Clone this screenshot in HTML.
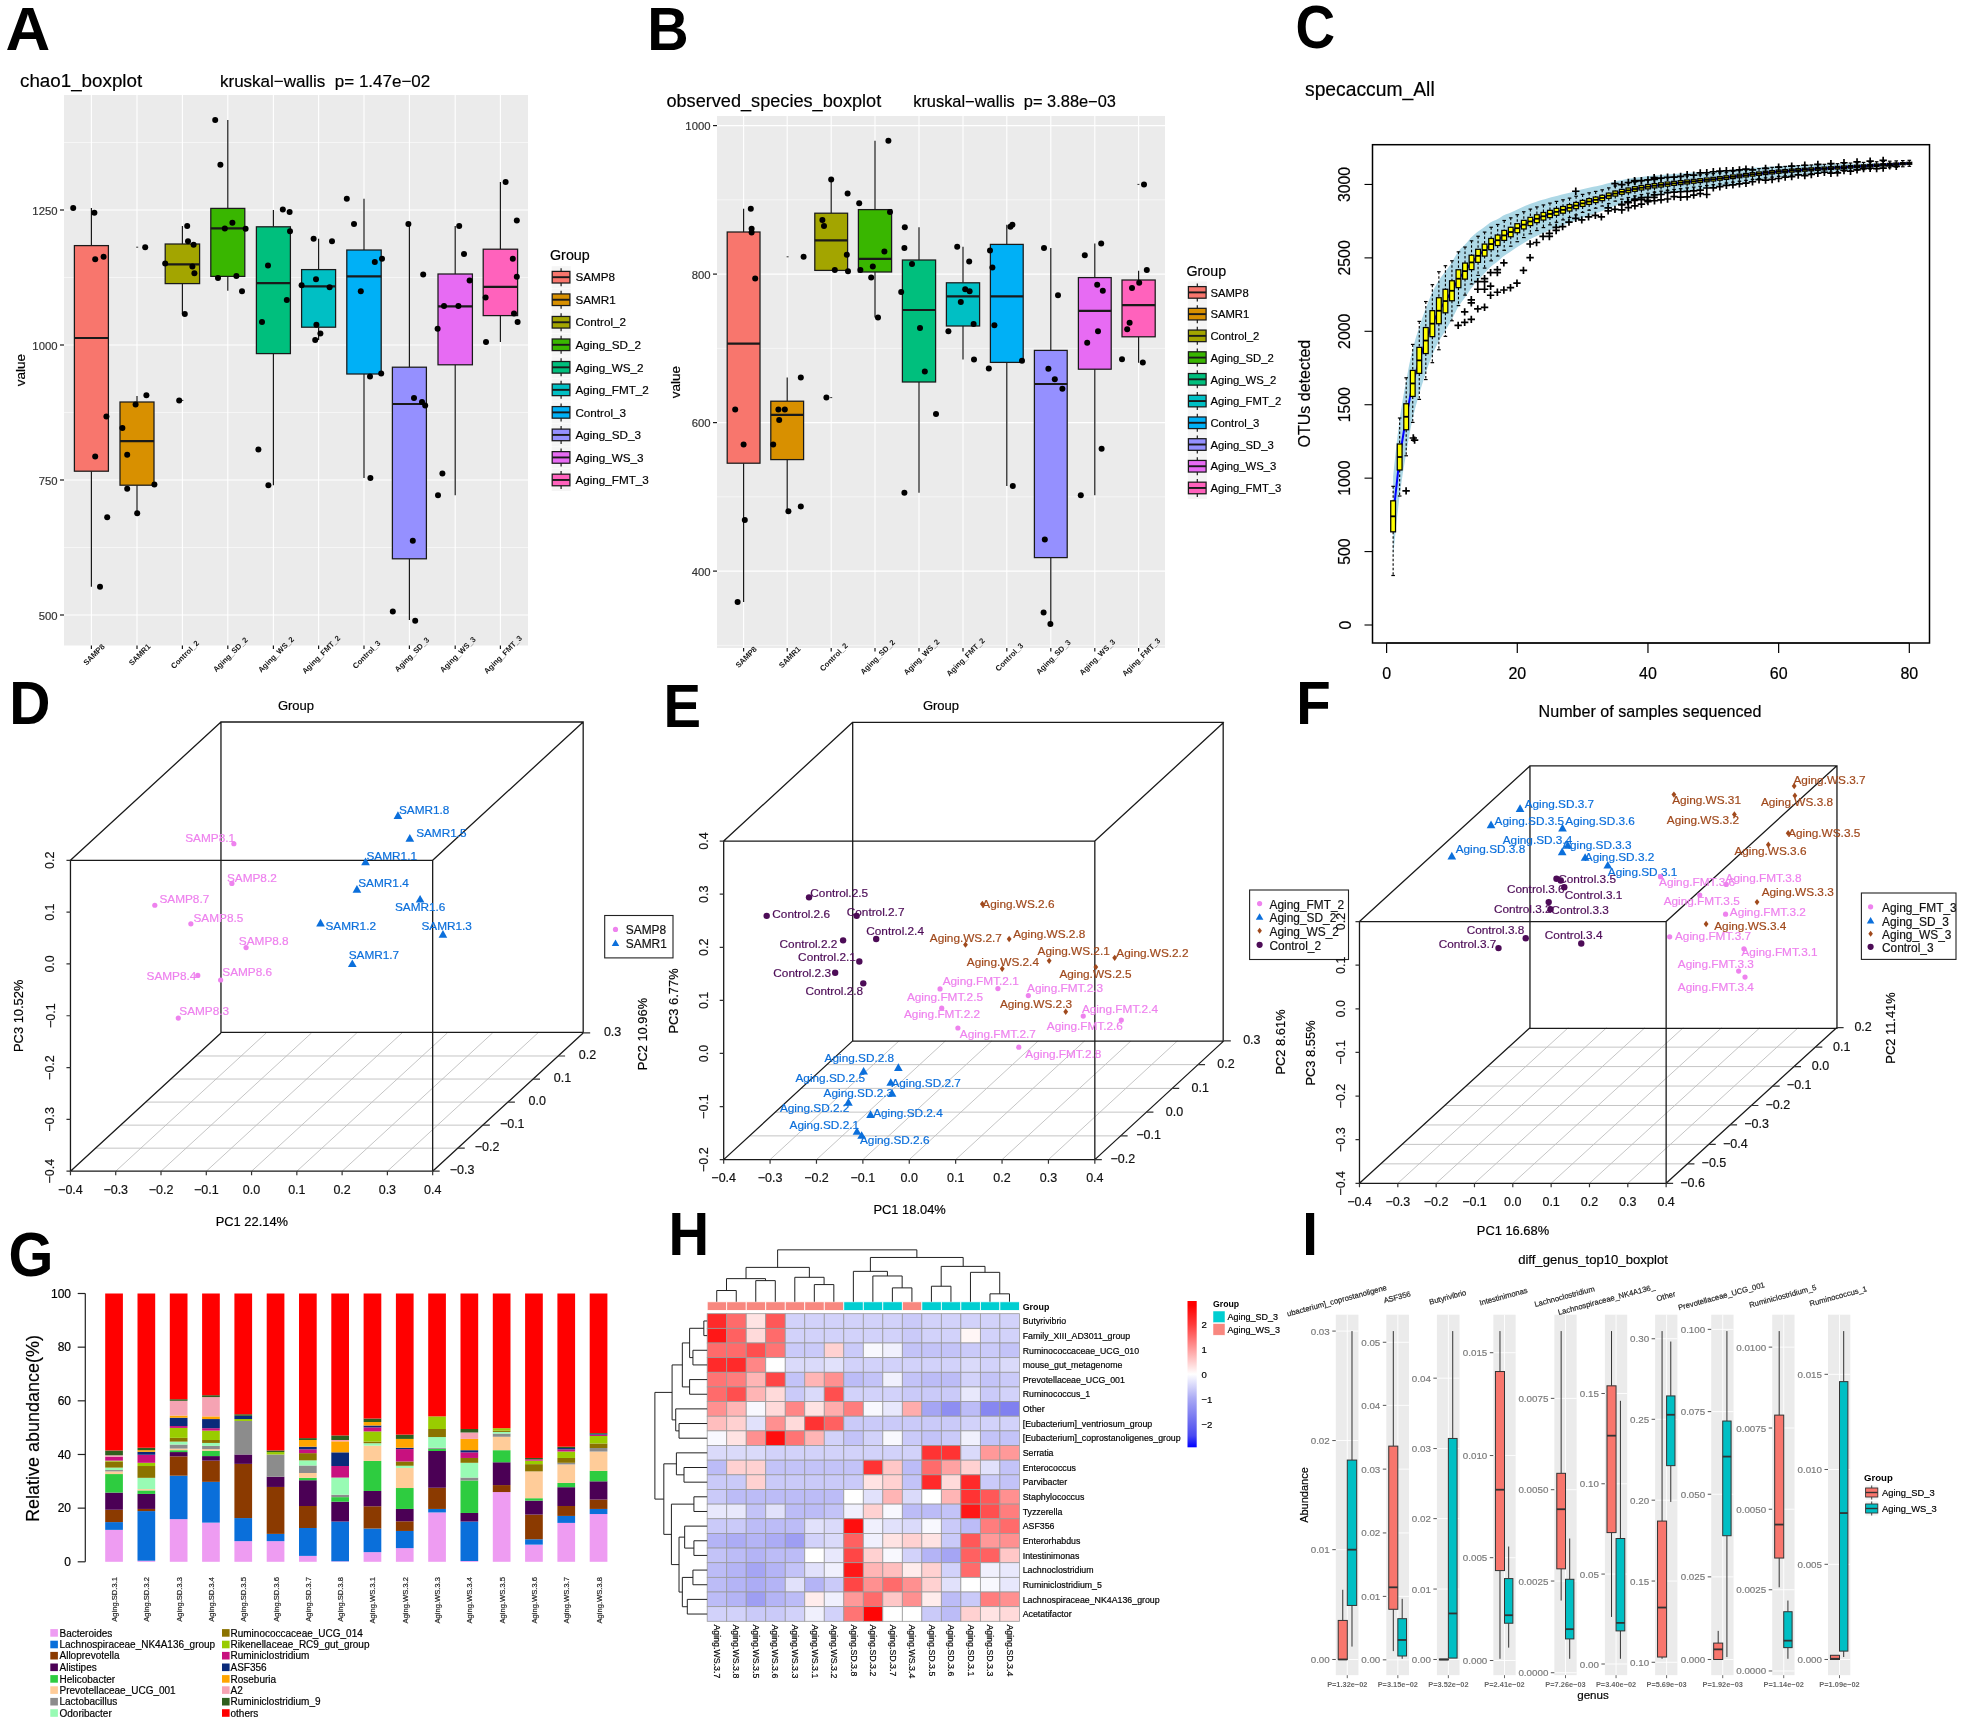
<!DOCTYPE html><html><head><meta charset="utf-8"><style>html,body{margin:0;padding:0;background:#fff;overflow:hidden}svg{display:block;will-change:transform}text{font-family:"Liberation Sans",sans-serif}</style></head><body><svg width="1965" height="1725" viewBox="0 0 1965 1725" font-family='"Liberation Sans", sans-serif'><rect width="1965" height="1725" fill="#fff"/><text x="0" y="0" font-size="60" font-weight="bold" transform="matrix(1.0323 0 0 1.0097 5.45 49.70)">A</text>
<rect x="64" y="95" width="464" height="550.5" fill="#EBEBEB"/>
<line x1="64" y1="615" x2="528" y2="615" stroke="#FFFFFF" stroke-width="1.1"/>
<line x1="64" y1="547.5" x2="528" y2="547.5" stroke="#FFFFFF" stroke-width="0.55"/>
<line x1="64" y1="480" x2="528" y2="480" stroke="#FFFFFF" stroke-width="1.1"/>
<line x1="64" y1="412.5" x2="528" y2="412.5" stroke="#FFFFFF" stroke-width="0.55"/>
<line x1="64" y1="345" x2="528" y2="345" stroke="#FFFFFF" stroke-width="1.1"/>
<line x1="64" y1="277.5" x2="528" y2="277.5" stroke="#FFFFFF" stroke-width="0.55"/>
<line x1="64" y1="210" x2="528" y2="210" stroke="#FFFFFF" stroke-width="1.1"/>
<line x1="64" y1="142.5" x2="528" y2="142.5" stroke="#FFFFFF" stroke-width="0.55"/>
<line x1="91.4" y1="95" x2="91.4" y2="645.5" stroke="#FFFFFF" stroke-width="1.1"/>
<line x1="137" y1="95" x2="137" y2="645.5" stroke="#FFFFFF" stroke-width="1.1"/>
<line x1="182.4" y1="95" x2="182.4" y2="645.5" stroke="#FFFFFF" stroke-width="1.1"/>
<line x1="227.8" y1="95" x2="227.8" y2="645.5" stroke="#FFFFFF" stroke-width="1.1"/>
<line x1="273.4" y1="95" x2="273.4" y2="645.5" stroke="#FFFFFF" stroke-width="1.1"/>
<line x1="318.6" y1="95" x2="318.6" y2="645.5" stroke="#FFFFFF" stroke-width="1.1"/>
<line x1="364" y1="95" x2="364" y2="645.5" stroke="#FFFFFF" stroke-width="1.1"/>
<line x1="409.4" y1="95" x2="409.4" y2="645.5" stroke="#FFFFFF" stroke-width="1.1"/>
<line x1="455.2" y1="95" x2="455.2" y2="645.5" stroke="#FFFFFF" stroke-width="1.1"/>
<line x1="500.4" y1="95" x2="500.4" y2="645.5" stroke="#FFFFFF" stroke-width="1.1"/>
<line x1="91.4" y1="208" x2="91.4" y2="245.6" stroke="#1A1A1A" stroke-width="1.2"/>
<line x1="91.4" y1="471.2" x2="91.4" y2="586.8" stroke="#1A1A1A" stroke-width="1.2"/>
<rect x="74.4" y="245.6" width="34" height="225.6" fill="#F8766D" stroke="#1A1A1A" stroke-width="1.25"/>
<line x1="74.4" y1="338" x2="108.4" y2="338" stroke="#1A1A1A" stroke-width="2.2"/>
<circle cx="73.2" cy="208" r="3" fill="#000"/>
<circle cx="94.4" cy="212.8" r="3" fill="#000"/>
<circle cx="95.2" cy="259.2" r="3" fill="#000"/>
<circle cx="103.6" cy="256.8" r="3" fill="#000"/>
<circle cx="106.4" cy="416.4" r="3" fill="#000"/>
<circle cx="95.2" cy="456.4" r="3" fill="#000"/>
<circle cx="107.2" cy="517.2" r="3" fill="#000"/>
<circle cx="100" cy="586.8" r="3" fill="#000"/>
<line x1="137" y1="396" x2="137" y2="402" stroke="#1A1A1A" stroke-width="1.2"/>
<line x1="137" y1="485.2" x2="137" y2="513.2" stroke="#1A1A1A" stroke-width="1.2"/>
<rect x="120" y="402" width="34" height="83.2" fill="#D89000" stroke="#1A1A1A" stroke-width="1.25"/>
<line x1="120" y1="441.2" x2="154" y2="441.2" stroke="#1A1A1A" stroke-width="2.2"/>
<line x1="136.2" y1="247.2" x2="138.2" y2="247.2" stroke="#333" stroke-width="1"/>
<circle cx="145.2" cy="247.2" r="3" fill="#000"/>
<circle cx="146.4" cy="395.2" r="3" fill="#000"/>
<circle cx="135.6" cy="404.4" r="3" fill="#000"/>
<circle cx="122.4" cy="428" r="3" fill="#000"/>
<circle cx="127.2" cy="454.8" r="3" fill="#000"/>
<circle cx="127.2" cy="488.8" r="3" fill="#000"/>
<circle cx="154.4" cy="484.4" r="3" fill="#000"/>
<circle cx="137.2" cy="513.2" r="3" fill="#000"/>
<line x1="182.4" y1="226" x2="182.4" y2="244" stroke="#1A1A1A" stroke-width="1.2"/>
<line x1="182.4" y1="283.6" x2="182.4" y2="314" stroke="#1A1A1A" stroke-width="1.2"/>
<rect x="165.2" y="244" width="34.4" height="39.6" fill="#A3A500" stroke="#1A1A1A" stroke-width="1.25"/>
<line x1="165.2" y1="264.4" x2="199.6" y2="264.4" stroke="#1A1A1A" stroke-width="2.2"/>
<line x1="181.4" y1="400.4" x2="183.4" y2="400.4" stroke="#333" stroke-width="1"/>
<circle cx="187.2" cy="226" r="3" fill="#000"/>
<circle cx="188" cy="241.2" r="3" fill="#000"/>
<circle cx="193.6" cy="244.8" r="3" fill="#000"/>
<circle cx="165.2" cy="263.6" r="3" fill="#000"/>
<circle cx="192.4" cy="266.4" r="3" fill="#000"/>
<circle cx="194.4" cy="273.2" r="3" fill="#000"/>
<circle cx="184.8" cy="314" r="3" fill="#000"/>
<circle cx="179.2" cy="400.4" r="3" fill="#000"/>
<line x1="227.8" y1="120" x2="227.8" y2="208.4" stroke="#1A1A1A" stroke-width="1.2"/>
<line x1="227.8" y1="276.4" x2="227.8" y2="290.8" stroke="#1A1A1A" stroke-width="1.2"/>
<rect x="210.8" y="208.4" width="34" height="68" fill="#39B600" stroke="#1A1A1A" stroke-width="1.25"/>
<line x1="210.8" y1="228.4" x2="244.8" y2="228.4" stroke="#1A1A1A" stroke-width="2.2"/>
<circle cx="215.2" cy="120" r="3" fill="#000"/>
<circle cx="220.4" cy="164.8" r="3" fill="#000"/>
<circle cx="232.4" cy="222.8" r="3" fill="#000"/>
<circle cx="224.8" cy="228.4" r="3" fill="#000"/>
<circle cx="245.6" cy="228.8" r="3" fill="#000"/>
<circle cx="218" cy="278" r="3" fill="#000"/>
<circle cx="236.4" cy="276" r="3" fill="#000"/>
<circle cx="242" cy="291.2" r="3" fill="#000"/>
<line x1="273.4" y1="210" x2="273.4" y2="226.8" stroke="#1A1A1A" stroke-width="1.2"/>
<line x1="273.4" y1="353.6" x2="273.4" y2="485.2" stroke="#1A1A1A" stroke-width="1.2"/>
<rect x="256.4" y="226.8" width="34" height="126.8" fill="#00BF7D" stroke="#1A1A1A" stroke-width="1.25"/>
<line x1="256.4" y1="283.2" x2="290.4" y2="283.2" stroke="#1A1A1A" stroke-width="2.2"/>
<circle cx="282.8" cy="209.6" r="3" fill="#000"/>
<circle cx="289.6" cy="212" r="3" fill="#000"/>
<circle cx="290" cy="231.2" r="3" fill="#000"/>
<circle cx="268" cy="265.6" r="3" fill="#000"/>
<circle cx="286.8" cy="300" r="3" fill="#000"/>
<circle cx="262" cy="322" r="3" fill="#000"/>
<circle cx="258.4" cy="449.6" r="3" fill="#000"/>
<circle cx="268.4" cy="485.2" r="3" fill="#000"/>
<line x1="318.6" y1="238.8" x2="318.6" y2="269.6" stroke="#1A1A1A" stroke-width="1.2"/>
<line x1="318.6" y1="327.2" x2="318.6" y2="340" stroke="#1A1A1A" stroke-width="1.2"/>
<rect x="301.6" y="269.6" width="34" height="57.6" fill="#00BFC4" stroke="#1A1A1A" stroke-width="1.25"/>
<line x1="301.6" y1="286.4" x2="335.6" y2="286.4" stroke="#1A1A1A" stroke-width="2.2"/>
<circle cx="313.6" cy="238.8" r="3" fill="#000"/>
<circle cx="332" cy="241.2" r="3" fill="#000"/>
<circle cx="301.6" cy="285.2" r="3" fill="#000"/>
<circle cx="316" cy="279.2" r="3" fill="#000"/>
<circle cx="329.6" cy="287.2" r="3" fill="#000"/>
<circle cx="316.4" cy="324.8" r="3" fill="#000"/>
<circle cx="320.4" cy="333.6" r="3" fill="#000"/>
<circle cx="315.2" cy="340" r="3" fill="#000"/>
<line x1="364" y1="198.8" x2="364" y2="250" stroke="#1A1A1A" stroke-width="1.2"/>
<line x1="364" y1="374" x2="364" y2="478" stroke="#1A1A1A" stroke-width="1.2"/>
<rect x="346.8" y="250" width="34.4" height="124" fill="#00B0F6" stroke="#1A1A1A" stroke-width="1.25"/>
<line x1="346.8" y1="276.4" x2="381.2" y2="276.4" stroke="#1A1A1A" stroke-width="2.2"/>
<circle cx="346.8" cy="198.8" r="3" fill="#000"/>
<circle cx="354" cy="224" r="3" fill="#000"/>
<circle cx="374.8" cy="262" r="3" fill="#000"/>
<circle cx="382" cy="258.8" r="3" fill="#000"/>
<circle cx="360.8" cy="291.2" r="3" fill="#000"/>
<circle cx="370" cy="376.4" r="3" fill="#000"/>
<circle cx="381.2" cy="373.6" r="3" fill="#000"/>
<circle cx="370.4" cy="478" r="3" fill="#000"/>
<line x1="409.4" y1="224" x2="409.4" y2="367.2" stroke="#1A1A1A" stroke-width="1.2"/>
<line x1="409.4" y1="558.8" x2="409.4" y2="620" stroke="#1A1A1A" stroke-width="1.2"/>
<rect x="392.4" y="367.2" width="34" height="191.6" fill="#9590FF" stroke="#1A1A1A" stroke-width="1.25"/>
<line x1="392.4" y1="404" x2="426.4" y2="404" stroke="#1A1A1A" stroke-width="2.2"/>
<circle cx="408.4" cy="224" r="3" fill="#000"/>
<circle cx="423.2" cy="274.4" r="3" fill="#000"/>
<circle cx="414" cy="398" r="3" fill="#000"/>
<circle cx="422" cy="402" r="3" fill="#000"/>
<circle cx="425.2" cy="405.6" r="3" fill="#000"/>
<circle cx="412.8" cy="540.8" r="3" fill="#000"/>
<circle cx="392.8" cy="611.6" r="3" fill="#000"/>
<circle cx="415.2" cy="620.8" r="3" fill="#000"/>
<line x1="455.2" y1="226" x2="455.2" y2="274" stroke="#1A1A1A" stroke-width="1.2"/>
<line x1="455.2" y1="364.8" x2="455.2" y2="495.2" stroke="#1A1A1A" stroke-width="1.2"/>
<rect x="438" y="274" width="34.4" height="90.8" fill="#E76BF3" stroke="#1A1A1A" stroke-width="1.25"/>
<line x1="438" y1="306.4" x2="472.4" y2="306.4" stroke="#1A1A1A" stroke-width="2.2"/>
<circle cx="459.2" cy="226" r="3" fill="#000"/>
<circle cx="464" cy="254" r="3" fill="#000"/>
<circle cx="469.6" cy="280.4" r="3" fill="#000"/>
<circle cx="444" cy="306" r="3" fill="#000"/>
<circle cx="458.4" cy="306" r="3" fill="#000"/>
<circle cx="437.6" cy="328.8" r="3" fill="#000"/>
<circle cx="442.4" cy="473.6" r="3" fill="#000"/>
<circle cx="438" cy="495.2" r="3" fill="#000"/>
<line x1="500.4" y1="182" x2="500.4" y2="249.2" stroke="#1A1A1A" stroke-width="1.2"/>
<line x1="500.4" y1="315.6" x2="500.4" y2="342" stroke="#1A1A1A" stroke-width="1.2"/>
<rect x="483.2" y="249.2" width="34.4" height="66.4" fill="#FF62BC" stroke="#1A1A1A" stroke-width="1.25"/>
<line x1="483.2" y1="286.8" x2="517.6" y2="286.8" stroke="#1A1A1A" stroke-width="2.2"/>
<circle cx="505.6" cy="182" r="3" fill="#000"/>
<circle cx="516.8" cy="220.4" r="3" fill="#000"/>
<circle cx="512.8" cy="258.8" r="3" fill="#000"/>
<circle cx="516.8" cy="276.8" r="3" fill="#000"/>
<circle cx="485.6" cy="297.6" r="3" fill="#000"/>
<circle cx="514" cy="313.6" r="3" fill="#000"/>
<circle cx="517.6" cy="322" r="3" fill="#000"/>
<circle cx="486" cy="342" r="3" fill="#000"/>
<line x1="60" y1="615" x2="64" y2="615" stroke="#1A1A1A" stroke-width="1.2"/>
<text x="57.5" y="619.8" font-size="11.3" fill="#333333" text-anchor="end" stroke="#333333" stroke-width="0.18">500</text>
<line x1="60" y1="480" x2="64" y2="480" stroke="#1A1A1A" stroke-width="1.2"/>
<text x="57.5" y="484.8" font-size="11.3" fill="#333333" text-anchor="end" stroke="#333333" stroke-width="0.18">750</text>
<line x1="60" y1="345" x2="64" y2="345" stroke="#1A1A1A" stroke-width="1.2"/>
<text x="57.5" y="349.8" font-size="11.3" fill="#333333" text-anchor="end" stroke="#333333" stroke-width="0.18">1000</text>
<line x1="60" y1="210" x2="64" y2="210" stroke="#1A1A1A" stroke-width="1.2"/>
<text x="57.5" y="214.8" font-size="11.3" fill="#333333" text-anchor="end" stroke="#333333" stroke-width="0.18">1250</text>
<line x1="91.4" y1="645.5" x2="91.4" y2="649" stroke="#1A1A1A" stroke-width="1.2"/>
<text x="95.8" y="656.5" font-size="7.7" fill="#1A1A1A" text-anchor="middle" font-weight="bold" transform="rotate(-45 95.8 656.5)">SAMP8</text>
<line x1="137" y1="645.5" x2="137" y2="649" stroke="#1A1A1A" stroke-width="1.2"/>
<text x="141.4" y="656.5" font-size="7.7" fill="#1A1A1A" text-anchor="middle" font-weight="bold" transform="rotate(-45 141.4 656.5)">SAMR1</text>
<line x1="182.4" y1="645.5" x2="182.4" y2="649" stroke="#1A1A1A" stroke-width="1.2"/>
<text x="186.8" y="656.5" font-size="7.7" fill="#1A1A1A" text-anchor="middle" font-weight="bold" transform="rotate(-45 186.8 656.5)">Control_2</text>
<line x1="227.8" y1="645.5" x2="227.8" y2="649" stroke="#1A1A1A" stroke-width="1.2"/>
<text x="232.2" y="656.5" font-size="7.7" fill="#1A1A1A" text-anchor="middle" font-weight="bold" transform="rotate(-45 232.2 656.5)">Aging_SD_2</text>
<line x1="273.4" y1="645.5" x2="273.4" y2="649" stroke="#1A1A1A" stroke-width="1.2"/>
<text x="277.8" y="656.5" font-size="7.7" fill="#1A1A1A" text-anchor="middle" font-weight="bold" transform="rotate(-45 277.8 656.5)">Aging_WS_2</text>
<line x1="318.6" y1="645.5" x2="318.6" y2="649" stroke="#1A1A1A" stroke-width="1.2"/>
<text x="323" y="656.5" font-size="7.7" fill="#1A1A1A" text-anchor="middle" font-weight="bold" transform="rotate(-45 323 656.5)">Aging_FMT_2</text>
<line x1="364" y1="645.5" x2="364" y2="649" stroke="#1A1A1A" stroke-width="1.2"/>
<text x="368.4" y="656.5" font-size="7.7" fill="#1A1A1A" text-anchor="middle" font-weight="bold" transform="rotate(-45 368.4 656.5)">Control_3</text>
<line x1="409.4" y1="645.5" x2="409.4" y2="649" stroke="#1A1A1A" stroke-width="1.2"/>
<text x="413.8" y="656.5" font-size="7.7" fill="#1A1A1A" text-anchor="middle" font-weight="bold" transform="rotate(-45 413.8 656.5)">Aging_SD_3</text>
<line x1="455.2" y1="645.5" x2="455.2" y2="649" stroke="#1A1A1A" stroke-width="1.2"/>
<text x="459.6" y="656.5" font-size="7.7" fill="#1A1A1A" text-anchor="middle" font-weight="bold" transform="rotate(-45 459.6 656.5)">Aging_WS_3</text>
<line x1="500.4" y1="645.5" x2="500.4" y2="649" stroke="#1A1A1A" stroke-width="1.2"/>
<text x="504.8" y="656.5" font-size="7.7" fill="#1A1A1A" text-anchor="middle" font-weight="bold" transform="rotate(-45 504.8 656.5)">Aging_FMT_3</text>
<text x="24.5" y="370" font-size="13.5" fill="#000" text-anchor="middle" transform="rotate(-90 24.5 370)" stroke="#000" stroke-width="0.18">value</text>
<text x="20" y="87" font-size="18.8" fill="#000" stroke="#000" stroke-width="0.18">chao1_boxplot</text>
<text x="220" y="87" font-size="17" fill="#000" xml:space="preserve" stroke="#000" stroke-width="0.18">kruskal−wallis  p= 1.47e−02</text>
<text x="550" y="260.2" font-size="14.3" fill="#000" stroke="#000" stroke-width="0.18">Group</text>
<rect x="551.7" y="266.2" width="19" height="22" fill="#F5F5F5"/>
<line x1="561.1" y1="268.2" x2="561.1" y2="286.2" stroke="#1A1A1A" stroke-width="1.2"/>
<rect x="552.2" y="271.4" width="17.7" height="11.6" fill="#F8766D" stroke="#1A1A1A" stroke-width="1.25"/>
<line x1="552.2" y1="277.2" x2="569.9" y2="277.2" stroke="#1A1A1A" stroke-width="1.9"/>
<text x="575.4" y="281.4" font-size="11.7" fill="#000" stroke="#000" stroke-width="0.18">SAMP8</text>
<rect x="551.7" y="288.73" width="19" height="22" fill="#F5F5F5"/>
<line x1="561.1" y1="290.73" x2="561.1" y2="308.73" stroke="#1A1A1A" stroke-width="1.2"/>
<rect x="552.2" y="293.93" width="17.7" height="11.6" fill="#D89000" stroke="#1A1A1A" stroke-width="1.25"/>
<line x1="552.2" y1="299.73" x2="569.9" y2="299.73" stroke="#1A1A1A" stroke-width="1.9"/>
<text x="575.4" y="303.93" font-size="11.7" fill="#000" stroke="#000" stroke-width="0.18">SAMR1</text>
<rect x="551.7" y="311.26" width="19" height="22" fill="#F5F5F5"/>
<line x1="561.1" y1="313.26" x2="561.1" y2="331.26" stroke="#1A1A1A" stroke-width="1.2"/>
<rect x="552.2" y="316.46" width="17.7" height="11.6" fill="#A3A500" stroke="#1A1A1A" stroke-width="1.25"/>
<line x1="552.2" y1="322.26" x2="569.9" y2="322.26" stroke="#1A1A1A" stroke-width="1.9"/>
<text x="575.4" y="326.46" font-size="11.7" fill="#000" stroke="#000" stroke-width="0.18">Control_2</text>
<rect x="551.7" y="333.79" width="19" height="22" fill="#F5F5F5"/>
<line x1="561.1" y1="335.79" x2="561.1" y2="353.79" stroke="#1A1A1A" stroke-width="1.2"/>
<rect x="552.2" y="338.99" width="17.7" height="11.6" fill="#39B600" stroke="#1A1A1A" stroke-width="1.25"/>
<line x1="552.2" y1="344.79" x2="569.9" y2="344.79" stroke="#1A1A1A" stroke-width="1.9"/>
<text x="575.4" y="348.99" font-size="11.7" fill="#000" stroke="#000" stroke-width="0.18">Aging_SD_2</text>
<rect x="551.7" y="356.32" width="19" height="22" fill="#F5F5F5"/>
<line x1="561.1" y1="358.32" x2="561.1" y2="376.32" stroke="#1A1A1A" stroke-width="1.2"/>
<rect x="552.2" y="361.52" width="17.7" height="11.6" fill="#00BF7D" stroke="#1A1A1A" stroke-width="1.25"/>
<line x1="552.2" y1="367.32" x2="569.9" y2="367.32" stroke="#1A1A1A" stroke-width="1.9"/>
<text x="575.4" y="371.52" font-size="11.7" fill="#000" stroke="#000" stroke-width="0.18">Aging_WS_2</text>
<rect x="551.7" y="378.85" width="19" height="22" fill="#F5F5F5"/>
<line x1="561.1" y1="380.85" x2="561.1" y2="398.85" stroke="#1A1A1A" stroke-width="1.2"/>
<rect x="552.2" y="384.05" width="17.7" height="11.6" fill="#00BFC4" stroke="#1A1A1A" stroke-width="1.25"/>
<line x1="552.2" y1="389.85" x2="569.9" y2="389.85" stroke="#1A1A1A" stroke-width="1.9"/>
<text x="575.4" y="394.05" font-size="11.7" fill="#000" stroke="#000" stroke-width="0.18">Aging_FMT_2</text>
<rect x="551.7" y="401.38" width="19" height="22" fill="#F5F5F5"/>
<line x1="561.1" y1="403.38" x2="561.1" y2="421.38" stroke="#1A1A1A" stroke-width="1.2"/>
<rect x="552.2" y="406.58" width="17.7" height="11.6" fill="#00B0F6" stroke="#1A1A1A" stroke-width="1.25"/>
<line x1="552.2" y1="412.38" x2="569.9" y2="412.38" stroke="#1A1A1A" stroke-width="1.9"/>
<text x="575.4" y="416.58" font-size="11.7" fill="#000" stroke="#000" stroke-width="0.18">Control_3</text>
<rect x="551.7" y="423.91" width="19" height="22" fill="#F5F5F5"/>
<line x1="561.1" y1="425.91" x2="561.1" y2="443.91" stroke="#1A1A1A" stroke-width="1.2"/>
<rect x="552.2" y="429.11" width="17.7" height="11.6" fill="#9590FF" stroke="#1A1A1A" stroke-width="1.25"/>
<line x1="552.2" y1="434.91" x2="569.9" y2="434.91" stroke="#1A1A1A" stroke-width="1.9"/>
<text x="575.4" y="439.11" font-size="11.7" fill="#000" stroke="#000" stroke-width="0.18">Aging_SD_3</text>
<rect x="551.7" y="446.44" width="19" height="22" fill="#F5F5F5"/>
<line x1="561.1" y1="448.44" x2="561.1" y2="466.44" stroke="#1A1A1A" stroke-width="1.2"/>
<rect x="552.2" y="451.64" width="17.7" height="11.6" fill="#E76BF3" stroke="#1A1A1A" stroke-width="1.25"/>
<line x1="552.2" y1="457.44" x2="569.9" y2="457.44" stroke="#1A1A1A" stroke-width="1.9"/>
<text x="575.4" y="461.64" font-size="11.7" fill="#000" stroke="#000" stroke-width="0.18">Aging_WS_3</text>
<rect x="551.7" y="468.97" width="19" height="22" fill="#F5F5F5"/>
<line x1="561.1" y1="470.97" x2="561.1" y2="488.97" stroke="#1A1A1A" stroke-width="1.2"/>
<rect x="552.2" y="474.17" width="17.7" height="11.6" fill="#FF62BC" stroke="#1A1A1A" stroke-width="1.25"/>
<line x1="552.2" y1="479.97" x2="569.9" y2="479.97" stroke="#1A1A1A" stroke-width="1.9"/>
<text x="575.4" y="484.17" font-size="11.7" fill="#000" stroke="#000" stroke-width="0.18">Aging_FMT_3</text>
<text x="0" y="0" font-size="60" font-weight="bold" transform="matrix(0.9563 0 0 1.0097 647.27 49.70)">B</text>
<rect x="717" y="116" width="448" height="532" fill="#EBEBEB"/>
<line x1="717" y1="645.35" x2="1165" y2="645.35" stroke="#FFFFFF" stroke-width="0.55"/>
<line x1="717" y1="571.1" x2="1165" y2="571.1" stroke="#FFFFFF" stroke-width="1.1"/>
<line x1="717" y1="496.85" x2="1165" y2="496.85" stroke="#FFFFFF" stroke-width="0.55"/>
<line x1="717" y1="422.6" x2="1165" y2="422.6" stroke="#FFFFFF" stroke-width="1.1"/>
<line x1="717" y1="348.35" x2="1165" y2="348.35" stroke="#FFFFFF" stroke-width="0.55"/>
<line x1="717" y1="274.1" x2="1165" y2="274.1" stroke="#FFFFFF" stroke-width="1.1"/>
<line x1="717" y1="199.85" x2="1165" y2="199.85" stroke="#FFFFFF" stroke-width="0.55"/>
<line x1="717" y1="125.6" x2="1165" y2="125.6" stroke="#FFFFFF" stroke-width="1.1"/>
<line x1="743.6" y1="116" x2="743.6" y2="648" stroke="#FFFFFF" stroke-width="1.1"/>
<line x1="787.2" y1="116" x2="787.2" y2="648" stroke="#FFFFFF" stroke-width="1.1"/>
<line x1="831.2" y1="116" x2="831.2" y2="648" stroke="#FFFFFF" stroke-width="1.1"/>
<line x1="875" y1="116" x2="875" y2="648" stroke="#FFFFFF" stroke-width="1.1"/>
<line x1="919" y1="116" x2="919" y2="648" stroke="#FFFFFF" stroke-width="1.1"/>
<line x1="963" y1="116" x2="963" y2="648" stroke="#FFFFFF" stroke-width="1.1"/>
<line x1="1006.8" y1="116" x2="1006.8" y2="648" stroke="#FFFFFF" stroke-width="1.1"/>
<line x1="1050.8" y1="116" x2="1050.8" y2="648" stroke="#FFFFFF" stroke-width="1.1"/>
<line x1="1094.8" y1="116" x2="1094.8" y2="648" stroke="#FFFFFF" stroke-width="1.1"/>
<line x1="1138.6" y1="116" x2="1138.6" y2="648" stroke="#FFFFFF" stroke-width="1.1"/>
<line x1="743.6" y1="208.8" x2="743.6" y2="232" stroke="#1A1A1A" stroke-width="1.2"/>
<line x1="743.6" y1="463.2" x2="743.6" y2="602" stroke="#1A1A1A" stroke-width="1.2"/>
<rect x="727.2" y="232" width="32.8" height="231.2" fill="#F8766D" stroke="#1A1A1A" stroke-width="1.25"/>
<line x1="727.2" y1="343.6" x2="760" y2="343.6" stroke="#1A1A1A" stroke-width="2.2"/>
<circle cx="750.8" cy="208.8" r="3" fill="#000"/>
<circle cx="751.6" cy="228.8" r="3" fill="#000"/>
<circle cx="751.6" cy="232.4" r="3" fill="#000"/>
<circle cx="755.2" cy="278.4" r="3" fill="#000"/>
<circle cx="735.2" cy="409.6" r="3" fill="#000"/>
<circle cx="743.6" cy="444.4" r="3" fill="#000"/>
<circle cx="744.8" cy="520" r="3" fill="#000"/>
<circle cx="737.6" cy="602" r="3" fill="#000"/>
<line x1="787.2" y1="377.6" x2="787.2" y2="401.2" stroke="#1A1A1A" stroke-width="1.2"/>
<line x1="787.2" y1="459.6" x2="787.2" y2="511.2" stroke="#1A1A1A" stroke-width="1.2"/>
<rect x="770.8" y="401.2" width="32.8" height="58.4" fill="#D89000" stroke="#1A1A1A" stroke-width="1.25"/>
<line x1="770.8" y1="414.8" x2="803.6" y2="414.8" stroke="#1A1A1A" stroke-width="2.2"/>
<line x1="786.6" y1="256.8" x2="788.6" y2="256.8" stroke="#333" stroke-width="1"/>
<circle cx="803.6" cy="256.8" r="3" fill="#000"/>
<circle cx="800.8" cy="377.6" r="3" fill="#000"/>
<circle cx="778.4" cy="409.6" r="3" fill="#000"/>
<circle cx="784.8" cy="409.6" r="3" fill="#000"/>
<circle cx="779.2" cy="420" r="3" fill="#000"/>
<circle cx="773.2" cy="444.4" r="3" fill="#000"/>
<circle cx="788.4" cy="511.2" r="3" fill="#000"/>
<circle cx="800.8" cy="506.4" r="3" fill="#000"/>
<line x1="831.2" y1="179.6" x2="831.2" y2="213.2" stroke="#1A1A1A" stroke-width="1.2"/>
<line x1="831.2" y1="270.4" x2="831.2" y2="270.4" stroke="#1A1A1A" stroke-width="1.2"/>
<rect x="814.8" y="213.2" width="32.8" height="57.2" fill="#A3A500" stroke="#1A1A1A" stroke-width="1.25"/>
<line x1="814.8" y1="240.4" x2="847.6" y2="240.4" stroke="#1A1A1A" stroke-width="2.2"/>
<line x1="830.2" y1="397.6" x2="832.2" y2="397.6" stroke="#333" stroke-width="1"/>
<circle cx="831.2" cy="179.6" r="3" fill="#000"/>
<circle cx="847.6" cy="193.6" r="3" fill="#000"/>
<circle cx="822.4" cy="220" r="3" fill="#000"/>
<circle cx="824" cy="226" r="3" fill="#000"/>
<circle cx="846.8" cy="254.8" r="3" fill="#000"/>
<circle cx="834.8" cy="270" r="3" fill="#000"/>
<circle cx="848" cy="271.2" r="3" fill="#000"/>
<circle cx="826.4" cy="397.6" r="3" fill="#000"/>
<line x1="875" y1="140.8" x2="875" y2="209.6" stroke="#1A1A1A" stroke-width="1.2"/>
<line x1="875" y1="272" x2="875" y2="317.6" stroke="#1A1A1A" stroke-width="1.2"/>
<rect x="858.4" y="209.6" width="33.2" height="62.4" fill="#39B600" stroke="#1A1A1A" stroke-width="1.25"/>
<line x1="858.4" y1="258.8" x2="891.6" y2="258.8" stroke="#1A1A1A" stroke-width="2.2"/>
<circle cx="888.4" cy="140.8" r="3" fill="#000"/>
<circle cx="859.2" cy="203.2" r="3" fill="#000"/>
<circle cx="890" cy="212" r="3" fill="#000"/>
<circle cx="884.4" cy="251.6" r="3" fill="#000"/>
<circle cx="872.8" cy="266.4" r="3" fill="#000"/>
<circle cx="860.4" cy="270" r="3" fill="#000"/>
<circle cx="871.2" cy="277.6" r="3" fill="#000"/>
<circle cx="878" cy="317.6" r="3" fill="#000"/>
<line x1="919" y1="227.2" x2="919" y2="260" stroke="#1A1A1A" stroke-width="1.2"/>
<line x1="919" y1="382" x2="919" y2="492.8" stroke="#1A1A1A" stroke-width="1.2"/>
<rect x="902.4" y="260" width="33.2" height="122" fill="#00BF7D" stroke="#1A1A1A" stroke-width="1.25"/>
<line x1="902.4" y1="310" x2="935.6" y2="310" stroke="#1A1A1A" stroke-width="2.2"/>
<circle cx="904.8" cy="227.2" r="3" fill="#000"/>
<circle cx="904.4" cy="248" r="3" fill="#000"/>
<circle cx="912" cy="264" r="3" fill="#000"/>
<circle cx="901.2" cy="292" r="3" fill="#000"/>
<circle cx="920" cy="328" r="3" fill="#000"/>
<circle cx="924.8" cy="371.6" r="3" fill="#000"/>
<circle cx="936" cy="414" r="3" fill="#000"/>
<circle cx="904.4" cy="492.8" r="3" fill="#000"/>
<line x1="963" y1="246.8" x2="963" y2="282.8" stroke="#1A1A1A" stroke-width="1.2"/>
<line x1="963" y1="326" x2="963" y2="359.6" stroke="#1A1A1A" stroke-width="1.2"/>
<rect x="946.4" y="282.8" width="33.2" height="43.2" fill="#00BFC4" stroke="#1A1A1A" stroke-width="1.25"/>
<line x1="946.4" y1="296.4" x2="979.6" y2="296.4" stroke="#1A1A1A" stroke-width="2.2"/>
<circle cx="957.2" cy="246.8" r="3" fill="#000"/>
<circle cx="969.2" cy="261.6" r="3" fill="#000"/>
<circle cx="965.2" cy="289.2" r="3" fill="#000"/>
<circle cx="969.6" cy="291.2" r="3" fill="#000"/>
<circle cx="960.8" cy="302" r="3" fill="#000"/>
<circle cx="973.6" cy="324" r="3" fill="#000"/>
<circle cx="948.4" cy="331.2" r="3" fill="#000"/>
<circle cx="974" cy="359.6" r="3" fill="#000"/>
<line x1="1006.8" y1="224.8" x2="1006.8" y2="244.4" stroke="#1A1A1A" stroke-width="1.2"/>
<line x1="1006.8" y1="362.4" x2="1006.8" y2="486" stroke="#1A1A1A" stroke-width="1.2"/>
<rect x="990.4" y="244.4" width="32.8" height="118" fill="#00B0F6" stroke="#1A1A1A" stroke-width="1.25"/>
<line x1="990.4" y1="296.4" x2="1023.2" y2="296.4" stroke="#1A1A1A" stroke-width="2.2"/>
<circle cx="1012.4" cy="224.8" r="3" fill="#000"/>
<circle cx="1010.4" cy="226.8" r="3" fill="#000"/>
<circle cx="990" cy="250.4" r="3" fill="#000"/>
<circle cx="992.4" cy="267.6" r="3" fill="#000"/>
<circle cx="994.4" cy="325.2" r="3" fill="#000"/>
<circle cx="1022" cy="360.8" r="3" fill="#000"/>
<circle cx="988.8" cy="368.4" r="3" fill="#000"/>
<circle cx="1012.8" cy="486" r="3" fill="#000"/>
<line x1="1050.8" y1="248" x2="1050.8" y2="350.4" stroke="#1A1A1A" stroke-width="1.2"/>
<line x1="1050.8" y1="557.6" x2="1050.8" y2="622" stroke="#1A1A1A" stroke-width="1.2"/>
<rect x="1034.4" y="350.4" width="32.8" height="207.2" fill="#9590FF" stroke="#1A1A1A" stroke-width="1.25"/>
<line x1="1034.4" y1="384" x2="1067.2" y2="384" stroke="#1A1A1A" stroke-width="2.2"/>
<circle cx="1044" cy="248" r="3" fill="#000"/>
<circle cx="1058" cy="295.2" r="3" fill="#000"/>
<circle cx="1048.4" cy="368.8" r="3" fill="#000"/>
<circle cx="1054.8" cy="379.2" r="3" fill="#000"/>
<circle cx="1062.4" cy="388.8" r="3" fill="#000"/>
<circle cx="1044.8" cy="539.6" r="3" fill="#000"/>
<circle cx="1043.6" cy="612.4" r="3" fill="#000"/>
<circle cx="1050.4" cy="624" r="3" fill="#000"/>
<line x1="1094.8" y1="243.6" x2="1094.8" y2="277.6" stroke="#1A1A1A" stroke-width="1.2"/>
<line x1="1094.8" y1="369.2" x2="1094.8" y2="495.2" stroke="#1A1A1A" stroke-width="1.2"/>
<rect x="1078.4" y="277.6" width="32.8" height="91.6" fill="#E76BF3" stroke="#1A1A1A" stroke-width="1.25"/>
<line x1="1078.4" y1="310.8" x2="1111.2" y2="310.8" stroke="#1A1A1A" stroke-width="2.2"/>
<circle cx="1101.2" cy="243.6" r="3" fill="#000"/>
<circle cx="1084.8" cy="255.2" r="3" fill="#000"/>
<circle cx="1097.2" cy="284.8" r="3" fill="#000"/>
<circle cx="1102.8" cy="290.8" r="3" fill="#000"/>
<circle cx="1098" cy="331.2" r="3" fill="#000"/>
<circle cx="1087.2" cy="342.8" r="3" fill="#000"/>
<circle cx="1101.6" cy="448.8" r="3" fill="#000"/>
<circle cx="1080.8" cy="495.2" r="3" fill="#000"/>
<line x1="1138.6" y1="270.8" x2="1138.6" y2="280" stroke="#1A1A1A" stroke-width="1.2"/>
<line x1="1138.6" y1="336.8" x2="1138.6" y2="362.8" stroke="#1A1A1A" stroke-width="1.2"/>
<rect x="1122" y="280" width="33.2" height="56.8" fill="#FF62BC" stroke="#1A1A1A" stroke-width="1.25"/>
<line x1="1122" y1="305.2" x2="1155.2" y2="305.2" stroke="#1A1A1A" stroke-width="2.2"/>
<line x1="1137.4" y1="184.4" x2="1139.4" y2="184.4" stroke="#333" stroke-width="1"/>
<circle cx="1144" cy="184.4" r="3" fill="#000"/>
<circle cx="1146.8" cy="270" r="3" fill="#000"/>
<circle cx="1139.2" cy="282.8" r="3" fill="#000"/>
<circle cx="1132" cy="288" r="3" fill="#000"/>
<circle cx="1129.6" cy="322.8" r="3" fill="#000"/>
<circle cx="1127.2" cy="329.2" r="3" fill="#000"/>
<circle cx="1122" cy="359.2" r="3" fill="#000"/>
<circle cx="1142.8" cy="362.4" r="3" fill="#000"/>
<line x1="713" y1="571.1" x2="717" y2="571.1" stroke="#1A1A1A" stroke-width="1.2"/>
<text x="710.5" y="575.9" font-size="11.3" fill="#333333" text-anchor="end" stroke="#333333" stroke-width="0.18">400</text>
<line x1="713" y1="422.6" x2="717" y2="422.6" stroke="#1A1A1A" stroke-width="1.2"/>
<text x="710.5" y="427.4" font-size="11.3" fill="#333333" text-anchor="end" stroke="#333333" stroke-width="0.18">600</text>
<line x1="713" y1="274.1" x2="717" y2="274.1" stroke="#1A1A1A" stroke-width="1.2"/>
<text x="710.5" y="278.9" font-size="11.3" fill="#333333" text-anchor="end" stroke="#333333" stroke-width="0.18">800</text>
<line x1="713" y1="125.6" x2="717" y2="125.6" stroke="#1A1A1A" stroke-width="1.2"/>
<text x="710.5" y="130.4" font-size="11.3" fill="#333333" text-anchor="end" stroke="#333333" stroke-width="0.18">1000</text>
<line x1="743.6" y1="648" x2="743.6" y2="651.5" stroke="#1A1A1A" stroke-width="1.2"/>
<text x="748" y="659" font-size="7.7" fill="#1A1A1A" text-anchor="middle" font-weight="bold" transform="rotate(-45 748 659)">SAMP8</text>
<line x1="787.2" y1="648" x2="787.2" y2="651.5" stroke="#1A1A1A" stroke-width="1.2"/>
<text x="791.6" y="659" font-size="7.7" fill="#1A1A1A" text-anchor="middle" font-weight="bold" transform="rotate(-45 791.6 659)">SAMR1</text>
<line x1="831.2" y1="648" x2="831.2" y2="651.5" stroke="#1A1A1A" stroke-width="1.2"/>
<text x="835.6" y="659" font-size="7.7" fill="#1A1A1A" text-anchor="middle" font-weight="bold" transform="rotate(-45 835.6 659)">Control_2</text>
<line x1="875" y1="648" x2="875" y2="651.5" stroke="#1A1A1A" stroke-width="1.2"/>
<text x="879.4" y="659" font-size="7.7" fill="#1A1A1A" text-anchor="middle" font-weight="bold" transform="rotate(-45 879.4 659)">Aging_SD_2</text>
<line x1="919" y1="648" x2="919" y2="651.5" stroke="#1A1A1A" stroke-width="1.2"/>
<text x="923.4" y="659" font-size="7.7" fill="#1A1A1A" text-anchor="middle" font-weight="bold" transform="rotate(-45 923.4 659)">Aging_WS_2</text>
<line x1="963" y1="648" x2="963" y2="651.5" stroke="#1A1A1A" stroke-width="1.2"/>
<text x="967.4" y="659" font-size="7.7" fill="#1A1A1A" text-anchor="middle" font-weight="bold" transform="rotate(-45 967.4 659)">Aging_FMT_2</text>
<line x1="1006.8" y1="648" x2="1006.8" y2="651.5" stroke="#1A1A1A" stroke-width="1.2"/>
<text x="1011.2" y="659" font-size="7.7" fill="#1A1A1A" text-anchor="middle" font-weight="bold" transform="rotate(-45 1011.2 659)">Control_3</text>
<line x1="1050.8" y1="648" x2="1050.8" y2="651.5" stroke="#1A1A1A" stroke-width="1.2"/>
<text x="1055.2" y="659" font-size="7.7" fill="#1A1A1A" text-anchor="middle" font-weight="bold" transform="rotate(-45 1055.2 659)">Aging_SD_3</text>
<line x1="1094.8" y1="648" x2="1094.8" y2="651.5" stroke="#1A1A1A" stroke-width="1.2"/>
<text x="1099.2" y="659" font-size="7.7" fill="#1A1A1A" text-anchor="middle" font-weight="bold" transform="rotate(-45 1099.2 659)">Aging_WS_3</text>
<line x1="1138.6" y1="648" x2="1138.6" y2="651.5" stroke="#1A1A1A" stroke-width="1.2"/>
<text x="1143" y="659" font-size="7.7" fill="#1A1A1A" text-anchor="middle" font-weight="bold" transform="rotate(-45 1143 659)">Aging_FMT_3</text>
<text x="679.5" y="382" font-size="13.5" fill="#000" text-anchor="middle" transform="rotate(-90 679.5 382)" stroke="#000" stroke-width="0.18">value</text>
<text x="666.4" y="107.2" font-size="18.15" fill="#000" stroke="#000" stroke-width="0.18">observed_species_boxplot</text>
<text x="913.2" y="107.2" font-size="16.4" fill="#000" xml:space="preserve" stroke="#000" stroke-width="0.18">kruskal−wallis  p= 3.88e−03</text>
<text x="1186.4" y="276" font-size="14.3" fill="#000" stroke="#000" stroke-width="0.18">Group</text>
<rect x="1187.9" y="281.4" width="19" height="22" fill="#F5F5F5"/>
<line x1="1197.3" y1="283.4" x2="1197.3" y2="301.4" stroke="#1A1A1A" stroke-width="1.2"/>
<rect x="1188.4" y="286.6" width="17.7" height="11.6" fill="#F8766D" stroke="#1A1A1A" stroke-width="1.25"/>
<line x1="1188.4" y1="292.4" x2="1206.1" y2="292.4" stroke="#1A1A1A" stroke-width="1.9"/>
<text x="1210.4" y="296.6" font-size="11.3" fill="#000" stroke="#000" stroke-width="0.18">SAMP8</text>
<rect x="1187.9" y="303.13" width="19" height="22" fill="#F5F5F5"/>
<line x1="1197.3" y1="305.13" x2="1197.3" y2="323.13" stroke="#1A1A1A" stroke-width="1.2"/>
<rect x="1188.4" y="308.33" width="17.7" height="11.6" fill="#D89000" stroke="#1A1A1A" stroke-width="1.25"/>
<line x1="1188.4" y1="314.13" x2="1206.1" y2="314.13" stroke="#1A1A1A" stroke-width="1.9"/>
<text x="1210.4" y="318.33" font-size="11.3" fill="#000" stroke="#000" stroke-width="0.18">SAMR1</text>
<rect x="1187.9" y="324.86" width="19" height="22" fill="#F5F5F5"/>
<line x1="1197.3" y1="326.86" x2="1197.3" y2="344.86" stroke="#1A1A1A" stroke-width="1.2"/>
<rect x="1188.4" y="330.06" width="17.7" height="11.6" fill="#A3A500" stroke="#1A1A1A" stroke-width="1.25"/>
<line x1="1188.4" y1="335.86" x2="1206.1" y2="335.86" stroke="#1A1A1A" stroke-width="1.9"/>
<text x="1210.4" y="340.06" font-size="11.3" fill="#000" stroke="#000" stroke-width="0.18">Control_2</text>
<rect x="1187.9" y="346.59" width="19" height="22" fill="#F5F5F5"/>
<line x1="1197.3" y1="348.59" x2="1197.3" y2="366.59" stroke="#1A1A1A" stroke-width="1.2"/>
<rect x="1188.4" y="351.79" width="17.7" height="11.6" fill="#39B600" stroke="#1A1A1A" stroke-width="1.25"/>
<line x1="1188.4" y1="357.59" x2="1206.1" y2="357.59" stroke="#1A1A1A" stroke-width="1.9"/>
<text x="1210.4" y="361.79" font-size="11.3" fill="#000" stroke="#000" stroke-width="0.18">Aging_SD_2</text>
<rect x="1187.9" y="368.32" width="19" height="22" fill="#F5F5F5"/>
<line x1="1197.3" y1="370.32" x2="1197.3" y2="388.32" stroke="#1A1A1A" stroke-width="1.2"/>
<rect x="1188.4" y="373.52" width="17.7" height="11.6" fill="#00BF7D" stroke="#1A1A1A" stroke-width="1.25"/>
<line x1="1188.4" y1="379.32" x2="1206.1" y2="379.32" stroke="#1A1A1A" stroke-width="1.9"/>
<text x="1210.4" y="383.52" font-size="11.3" fill="#000" stroke="#000" stroke-width="0.18">Aging_WS_2</text>
<rect x="1187.9" y="390.05" width="19" height="22" fill="#F5F5F5"/>
<line x1="1197.3" y1="392.05" x2="1197.3" y2="410.05" stroke="#1A1A1A" stroke-width="1.2"/>
<rect x="1188.4" y="395.25" width="17.7" height="11.6" fill="#00BFC4" stroke="#1A1A1A" stroke-width="1.25"/>
<line x1="1188.4" y1="401.05" x2="1206.1" y2="401.05" stroke="#1A1A1A" stroke-width="1.9"/>
<text x="1210.4" y="405.25" font-size="11.3" fill="#000" stroke="#000" stroke-width="0.18">Aging_FMT_2</text>
<rect x="1187.9" y="411.78" width="19" height="22" fill="#F5F5F5"/>
<line x1="1197.3" y1="413.78" x2="1197.3" y2="431.78" stroke="#1A1A1A" stroke-width="1.2"/>
<rect x="1188.4" y="416.98" width="17.7" height="11.6" fill="#00B0F6" stroke="#1A1A1A" stroke-width="1.25"/>
<line x1="1188.4" y1="422.78" x2="1206.1" y2="422.78" stroke="#1A1A1A" stroke-width="1.9"/>
<text x="1210.4" y="426.98" font-size="11.3" fill="#000" stroke="#000" stroke-width="0.18">Control_3</text>
<rect x="1187.9" y="433.51" width="19" height="22" fill="#F5F5F5"/>
<line x1="1197.3" y1="435.51" x2="1197.3" y2="453.51" stroke="#1A1A1A" stroke-width="1.2"/>
<rect x="1188.4" y="438.71" width="17.7" height="11.6" fill="#9590FF" stroke="#1A1A1A" stroke-width="1.25"/>
<line x1="1188.4" y1="444.51" x2="1206.1" y2="444.51" stroke="#1A1A1A" stroke-width="1.9"/>
<text x="1210.4" y="448.71" font-size="11.3" fill="#000" stroke="#000" stroke-width="0.18">Aging_SD_3</text>
<rect x="1187.9" y="455.24" width="19" height="22" fill="#F5F5F5"/>
<line x1="1197.3" y1="457.24" x2="1197.3" y2="475.24" stroke="#1A1A1A" stroke-width="1.2"/>
<rect x="1188.4" y="460.44" width="17.7" height="11.6" fill="#E76BF3" stroke="#1A1A1A" stroke-width="1.25"/>
<line x1="1188.4" y1="466.24" x2="1206.1" y2="466.24" stroke="#1A1A1A" stroke-width="1.9"/>
<text x="1210.4" y="470.44" font-size="11.3" fill="#000" stroke="#000" stroke-width="0.18">Aging_WS_3</text>
<rect x="1187.9" y="476.97" width="19" height="22" fill="#F5F5F5"/>
<line x1="1197.3" y1="478.97" x2="1197.3" y2="496.97" stroke="#1A1A1A" stroke-width="1.2"/>
<rect x="1188.4" y="482.17" width="17.7" height="11.6" fill="#FF62BC" stroke="#1A1A1A" stroke-width="1.25"/>
<line x1="1188.4" y1="487.97" x2="1206.1" y2="487.97" stroke="#1A1A1A" stroke-width="1.9"/>
<text x="1210.4" y="492.17" font-size="11.3" fill="#000" stroke="#000" stroke-width="0.18">Aging_FMT_3</text>
<text x="0" y="0" font-size="60" font-weight="bold" transform="matrix(0.9133 0 0 1.0071 1295.62 48.10)">C</text>
<text x="1305" y="95.8" font-size="19.3" fill="#000" stroke="#000" stroke-width="0.18">specaccum_All</text>
<polygon points="1393.13,476.33 1396.36,445.41 1399.59,419.56 1402.81,399.06 1406.04,381.42 1409.26,364.56 1412.49,349.72 1415.72,338.04 1418.94,327.92 1422.17,318.23 1425.4,309.25 1428.62,300.89 1431.85,293.31 1435.07,286.81 1438.3,281.17 1441.53,276.53 1444.75,272.37 1447.98,267.93 1451.2,263.29 1454.43,257.86 1457.66,252.29 1460.88,248.52 1464.11,245.51 1467.34,241.88 1470.56,238.04 1473.79,234.96 1477.01,232.34 1480.24,229.93 1483.47,227.69 1486.69,225.22 1489.92,222.67 1493.15,220.94 1496.37,219.66 1499.6,217.94 1502.82,215.87 1506.05,214.33 1509.28,213.14 1512.5,211.74 1515.73,210.15 1518.95,208.64 1522.18,207.17 1525.41,205.75 1528.63,204.43 1531.86,203.24 1535.09,202.13 1538.31,201.09 1541.54,200.1 1544.76,199.15 1547.99,198.23 1551.22,197.32 1554.44,196.47 1557.67,195.66 1560.89,194.87 1564.12,194.08 1567.35,193.28 1570.57,192.43 1573.8,191.52 1577.03,190.59 1580.25,189.7 1583.48,188.89 1586.7,188.16 1589.93,187.5 1593.16,186.85 1596.38,186.2 1599.61,185.51 1602.83,184.74 1606.06,183.85 1609.29,182.9 1612.51,181.97 1615.74,181.2 1618.97,180.53 1622.19,179.91 1625.42,179.34 1628.64,178.81 1631.87,178.31 1635.1,177.82 1638.32,177.35 1641.55,176.91 1644.77,176.5 1648,176.15 1651.23,175.83 1654.45,175.53 1657.68,175.24 1660.91,174.96 1664.13,174.69 1667.36,174.43 1670.58,174.19 1673.81,173.95 1677.04,173.71 1680.26,173.48 1683.49,173.26 1686.71,173.03 1689.94,172.81 1693.17,172.59 1696.39,172.37 1699.62,172.15 1702.85,171.93 1706.07,171.7 1709.3,171.46 1712.52,171.22 1715.75,170.97 1718.98,170.72 1722.2,170.46 1725.43,170.19 1728.65,169.92 1731.88,169.64 1735.11,169.37 1738.33,169.09 1741.56,168.82 1744.79,168.54 1748.01,168.28 1751.24,168.01 1754.46,167.76 1757.69,167.51 1760.92,167.27 1764.14,167.04 1767.37,166.82 1770.6,166.62 1773.82,166.43 1777.05,166.25 1780.27,166.09 1783.5,165.94 1786.73,165.8 1789.95,165.66 1793.18,165.53 1796.4,165.4 1799.63,165.28 1802.86,165.17 1806.08,165.06 1809.31,164.95 1812.54,164.85 1815.76,164.75 1818.99,164.65 1822.21,164.56 1825.44,164.46 1828.67,164.38 1831.89,164.29 1835.12,164.2 1838.34,164.12 1841.57,164.03 1844.8,163.95 1848.02,163.86 1851.25,163.79 1854.48,163.71 1857.7,163.63 1860.93,163.56 1864.15,163.49 1867.38,163.43 1870.61,163.36 1873.83,163.3 1877.06,163.25 1880.28,163.19 1883.51,163.14 1886.74,163.09 1889.96,163.04 1893.19,162.99 1896.42,162.95 1899.64,162.91 1902.87,162.87 1906.09,162.84 1909.32,162.8 1909.32,163.8 1906.09,164.14 1902.87,164.48 1899.64,164.82 1896.42,165.15 1893.19,165.49 1889.96,165.83 1886.74,166.16 1883.51,166.5 1880.28,166.83 1877.06,167.17 1873.83,167.5 1870.61,167.84 1867.38,168.17 1864.15,168.5 1860.93,168.84 1857.7,169.17 1854.48,169.5 1851.25,169.83 1848.02,170.16 1844.8,170.49 1841.57,170.81 1838.34,171.13 1835.12,171.45 1831.89,171.76 1828.67,172.07 1825.44,172.37 1822.21,172.68 1818.99,172.98 1815.76,173.29 1812.54,173.6 1809.31,173.91 1806.08,174.22 1802.86,174.54 1799.63,174.86 1796.4,175.2 1793.18,175.53 1789.95,175.88 1786.73,176.24 1783.5,176.6 1780.27,176.98 1777.05,177.37 1773.82,177.78 1770.6,178.21 1767.37,178.65 1764.14,179.11 1760.92,179.58 1757.69,180.07 1754.46,180.56 1751.24,181.07 1748.01,181.58 1744.79,182.1 1741.56,182.62 1738.33,183.15 1735.11,183.67 1731.88,184.2 1728.65,184.73 1725.43,185.25 1722.2,185.77 1718.98,186.28 1715.75,186.79 1712.52,187.28 1709.3,187.77 1706.07,188.24 1702.85,188.7 1699.62,189.16 1696.39,189.62 1693.17,190.07 1689.94,190.52 1686.71,190.97 1683.49,191.42 1680.26,191.88 1677.04,192.34 1673.81,192.82 1670.58,193.3 1667.36,193.8 1664.13,194.31 1660.91,194.84 1657.68,195.38 1654.45,195.95 1651.23,196.53 1648,197.14 1644.77,197.8 1641.55,198.52 1638.32,199.29 1635.1,200.1 1631.87,200.93 1628.64,201.79 1625.42,202.68 1622.19,203.62 1618.97,204.62 1615.74,205.67 1612.51,206.83 1609.29,208.15 1606.06,209.5 1602.83,210.79 1599.61,211.96 1596.38,213.06 1593.16,214.12 1589.93,215.17 1586.7,216.25 1583.48,217.38 1580.25,218.6 1577.03,219.89 1573.8,221.2 1570.57,222.5 1567.35,223.74 1564.12,224.93 1560.89,226.11 1557.67,227.29 1554.44,228.49 1551.22,229.75 1547.99,231.07 1544.76,232.42 1541.54,233.8 1538.31,235.25 1535.09,236.76 1531.86,238.35 1528.63,240.05 1525.41,241.91 1522.18,243.88 1518.95,245.93 1515.73,248.05 1512.5,250.31 1509.28,252.45 1506.05,254.43 1502.82,256.82 1499.6,259.78 1496.37,262.43 1493.15,264.67 1489.92,267.41 1486.69,270.99 1483.47,274.51 1480.24,277.81 1477.01,281.3 1473.79,285.01 1470.56,289.18 1467.34,294.1 1464.11,298.81 1460.88,302.88 1457.66,307.69 1454.43,314.29 1451.2,320.71 1447.98,326.31 1444.75,331.68 1441.53,336.74 1438.3,342.28 1435.07,348.83 1431.85,356.25 1428.62,364.79 1425.4,374.14 1422.17,384.17 1418.94,394.96 1415.72,406.26 1412.49,419.22 1409.26,435.48 1406.04,453.94 1402.81,473.31 1399.59,495.65 1396.36,523.44 1393.13,556.33" fill="#ADD8E6"/>
<polyline points="1393.13,516.33 1399.67,457 1406.2,416.77 1412.74,383.43 1419.27,360.38 1425.8,340.55 1432.34,323.66 1438.87,310.74 1445.41,301.05 1451.94,290.77 1458.47,278.73 1465.01,271.09 1471.54,262.43 1478.08,255.82 1484.61,250.09 1491.14,244.07 1497.68,240.25 1504.21,235.41 1510.75,232.03 1517.28,228.21 1523.81,224.66 1530.35,221.46 1536.88,218.73 1543.42,216.27 1549.95,213.97 1556.48,211.84 1563.02,209.84 1569.55,207.8 1576.09,205.56 1582.62,203.39 1589.15,201.54 1595.69,199.81 1602.22,197.96 1608.76,195.71 1615.29,193.55 1621.82,191.86 1628.36,190.36 1634.89,189 1641.43,187.74 1647.96,186.65 1654.49,185.73 1661.03,184.88 1667.56,184.09 1674.1,183.35 1680.63,182.64 1687.16,181.95 1693.7,181.28 1700.23,180.59 1706.77,179.89 1713.3,179.16 1719.83,178.4 1726.37,177.6 1732.9,176.79 1739.44,175.98 1745.97,175.18 1752.5,174.39 1759.04,173.64 1765.57,172.92 1772.11,172.27 1778.64,171.67 1785.17,171.14 1791.71,170.64 1798.24,170.17 1804.78,169.73 1811.31,169.3 1817.84,168.89 1824.38,168.48 1830.91,168.08 1837.45,167.68 1843.98,167.27 1850.51,166.85 1857.05,166.44 1863.58,166.03 1870.12,165.63 1876.65,165.23 1883.18,164.84 1889.72,164.45 1896.25,164.06 1902.79,163.68 1909.32,163.3" fill="none" stroke="#0000FF" stroke-width="2"/>
<line x1="1393.13" y1="486.33" x2="1393.13" y2="500.83" stroke="#000" stroke-width="1.1" stroke-dasharray="2.5,2"/>
<line x1="1393.13" y1="531.83" x2="1393.13" y2="575.5" stroke="#000" stroke-width="1.1" stroke-dasharray="2.5,2"/>
<line x1="1391.33" y1="486.33" x2="1394.93" y2="486.33" stroke="#000" stroke-width="1.2"/>
<line x1="1391.33" y1="575.5" x2="1394.93" y2="575.5" stroke="#000" stroke-width="1.2"/>
<rect x="1390.73" y="500.83" width="4.8" height="31" fill="#FFFF00" stroke="#000" stroke-width="1.25"/>
<line x1="1390.73" y1="516.33" x2="1395.53" y2="516.33" stroke="#000" stroke-width="1.8"/>
<line x1="1399.67" y1="418" x2="1399.67" y2="444" stroke="#000" stroke-width="1.1" stroke-dasharray="2.5,2"/>
<line x1="1399.67" y1="470" x2="1399.67" y2="496" stroke="#000" stroke-width="1.1" stroke-dasharray="2.5,2"/>
<line x1="1397.87" y1="418" x2="1401.47" y2="418" stroke="#000" stroke-width="1.2"/>
<line x1="1397.87" y1="496" x2="1401.47" y2="496" stroke="#000" stroke-width="1.2"/>
<rect x="1397.27" y="444" width="4.8" height="26" fill="#FFFF00" stroke="#000" stroke-width="1.25"/>
<line x1="1397.27" y1="457" x2="1402.07" y2="457" stroke="#000" stroke-width="1.8"/>
<line x1="1406.2" y1="377.77" x2="1406.2" y2="403.77" stroke="#000" stroke-width="1.1" stroke-dasharray="2.5,2"/>
<line x1="1406.2" y1="429.77" x2="1406.2" y2="455.77" stroke="#000" stroke-width="1.1" stroke-dasharray="2.5,2"/>
<line x1="1404.4" y1="377.77" x2="1408" y2="377.77" stroke="#000" stroke-width="1.2"/>
<line x1="1404.4" y1="455.77" x2="1408" y2="455.77" stroke="#000" stroke-width="1.2"/>
<rect x="1403.8" y="403.77" width="4.8" height="26" fill="#FFFF00" stroke="#000" stroke-width="1.25"/>
<line x1="1403.8" y1="416.77" x2="1408.6" y2="416.77" stroke="#000" stroke-width="1.8"/>
<line x1="1412.74" y1="344.43" x2="1412.74" y2="370.43" stroke="#000" stroke-width="1.1" stroke-dasharray="2.5,2"/>
<line x1="1412.74" y1="396.43" x2="1412.74" y2="422.43" stroke="#000" stroke-width="1.1" stroke-dasharray="2.5,2"/>
<line x1="1410.94" y1="344.43" x2="1414.54" y2="344.43" stroke="#000" stroke-width="1.2"/>
<line x1="1410.94" y1="422.43" x2="1414.54" y2="422.43" stroke="#000" stroke-width="1.2"/>
<rect x="1410.34" y="370.43" width="4.8" height="26" fill="#FFFF00" stroke="#000" stroke-width="1.25"/>
<line x1="1410.34" y1="383.43" x2="1415.14" y2="383.43" stroke="#000" stroke-width="1.8"/>
<line x1="1419.27" y1="321.38" x2="1419.27" y2="347.38" stroke="#000" stroke-width="1.1" stroke-dasharray="2.5,2"/>
<line x1="1419.27" y1="373.38" x2="1419.27" y2="399.38" stroke="#000" stroke-width="1.1" stroke-dasharray="2.5,2"/>
<line x1="1417.47" y1="321.38" x2="1421.07" y2="321.38" stroke="#000" stroke-width="1.2"/>
<line x1="1417.47" y1="399.38" x2="1421.07" y2="399.38" stroke="#000" stroke-width="1.2"/>
<rect x="1416.87" y="347.38" width="4.8" height="26" fill="#FFFF00" stroke="#000" stroke-width="1.25"/>
<line x1="1416.87" y1="360.38" x2="1421.67" y2="360.38" stroke="#000" stroke-width="1.8"/>
<line x1="1425.8" y1="301.55" x2="1425.8" y2="327.55" stroke="#000" stroke-width="1.1" stroke-dasharray="2.5,2"/>
<line x1="1425.8" y1="353.55" x2="1425.8" y2="379.55" stroke="#000" stroke-width="1.1" stroke-dasharray="2.5,2"/>
<line x1="1424" y1="301.55" x2="1427.6" y2="301.55" stroke="#000" stroke-width="1.2"/>
<line x1="1424" y1="379.55" x2="1427.6" y2="379.55" stroke="#000" stroke-width="1.2"/>
<rect x="1423.4" y="327.55" width="4.8" height="26" fill="#FFFF00" stroke="#000" stroke-width="1.25"/>
<line x1="1423.4" y1="340.55" x2="1428.2" y2="340.55" stroke="#000" stroke-width="1.8"/>
<line x1="1432.34" y1="284.66" x2="1432.34" y2="310.66" stroke="#000" stroke-width="1.1" stroke-dasharray="2.5,2"/>
<line x1="1432.34" y1="336.66" x2="1432.34" y2="362.66" stroke="#000" stroke-width="1.1" stroke-dasharray="2.5,2"/>
<line x1="1430.54" y1="284.66" x2="1434.14" y2="284.66" stroke="#000" stroke-width="1.2"/>
<line x1="1430.54" y1="362.66" x2="1434.14" y2="362.66" stroke="#000" stroke-width="1.2"/>
<rect x="1429.94" y="310.66" width="4.8" height="26" fill="#FFFF00" stroke="#000" stroke-width="1.25"/>
<line x1="1429.94" y1="323.66" x2="1434.74" y2="323.66" stroke="#000" stroke-width="1.8"/>
<line x1="1438.87" y1="271.74" x2="1438.87" y2="297.74" stroke="#000" stroke-width="1.1" stroke-dasharray="2.5,2"/>
<line x1="1438.87" y1="323.74" x2="1438.87" y2="349.74" stroke="#000" stroke-width="1.1" stroke-dasharray="2.5,2"/>
<line x1="1437.07" y1="271.74" x2="1440.67" y2="271.74" stroke="#000" stroke-width="1.2"/>
<line x1="1437.07" y1="349.74" x2="1440.67" y2="349.74" stroke="#000" stroke-width="1.2"/>
<rect x="1436.47" y="297.74" width="4.8" height="26" fill="#FFFF00" stroke="#000" stroke-width="1.25"/>
<line x1="1436.47" y1="310.74" x2="1441.27" y2="310.74" stroke="#000" stroke-width="1.8"/>
<line x1="1445.41" y1="265.73" x2="1445.41" y2="289.28" stroke="#000" stroke-width="1.1" stroke-dasharray="2.5,2"/>
<line x1="1445.41" y1="312.82" x2="1445.41" y2="336.37" stroke="#000" stroke-width="1.1" stroke-dasharray="2.5,2"/>
<line x1="1443.61" y1="265.73" x2="1447.21" y2="265.73" stroke="#000" stroke-width="1.2"/>
<line x1="1443.61" y1="336.37" x2="1447.21" y2="336.37" stroke="#000" stroke-width="1.2"/>
<rect x="1443.01" y="289.28" width="4.8" height="23.55" fill="#FFFF00" stroke="#000" stroke-width="1.25"/>
<line x1="1443.01" y1="301.05" x2="1447.81" y2="301.05" stroke="#000" stroke-width="1.8"/>
<line x1="1451.94" y1="260.77" x2="1451.94" y2="280.77" stroke="#000" stroke-width="1.1" stroke-dasharray="2.5,2"/>
<line x1="1451.94" y1="300.77" x2="1451.94" y2="320.77" stroke="#000" stroke-width="1.1" stroke-dasharray="2.5,2"/>
<line x1="1450.14" y1="260.77" x2="1453.74" y2="260.77" stroke="#000" stroke-width="1.2"/>
<line x1="1450.14" y1="320.77" x2="1453.74" y2="320.77" stroke="#000" stroke-width="1.2"/>
<rect x="1449.54" y="280.77" width="4.8" height="20" fill="#FFFF00" stroke="#000" stroke-width="1.25"/>
<line x1="1449.54" y1="290.77" x2="1454.34" y2="290.77" stroke="#000" stroke-width="1.8"/>
<line x1="1458.47" y1="251.86" x2="1458.47" y2="269.77" stroke="#000" stroke-width="1.1" stroke-dasharray="2.5,2"/>
<line x1="1458.47" y1="287.68" x2="1458.47" y2="305.59" stroke="#000" stroke-width="1.1" stroke-dasharray="2.5,2"/>
<line x1="1456.67" y1="251.86" x2="1460.27" y2="251.86" stroke="#000" stroke-width="1.2"/>
<line x1="1456.67" y1="305.59" x2="1460.27" y2="305.59" stroke="#000" stroke-width="1.2"/>
<rect x="1456.07" y="269.77" width="4.8" height="17.91" fill="#FFFF00" stroke="#000" stroke-width="1.25"/>
<line x1="1456.07" y1="278.73" x2="1460.87" y2="278.73" stroke="#000" stroke-width="1.8"/>
<line x1="1465.01" y1="247.04" x2="1465.01" y2="263.08" stroke="#000" stroke-width="1.1" stroke-dasharray="2.5,2"/>
<line x1="1465.01" y1="279.11" x2="1465.01" y2="295.14" stroke="#000" stroke-width="1.1" stroke-dasharray="2.5,2"/>
<line x1="1463.21" y1="247.04" x2="1466.81" y2="247.04" stroke="#000" stroke-width="1.2"/>
<line x1="1463.21" y1="295.14" x2="1466.81" y2="295.14" stroke="#000" stroke-width="1.2"/>
<rect x="1462.61" y="263.08" width="4.8" height="16.03" fill="#FFFF00" stroke="#000" stroke-width="1.25"/>
<line x1="1462.61" y1="271.09" x2="1467.41" y2="271.09" stroke="#000" stroke-width="1.8"/>
<line x1="1471.54" y1="240.83" x2="1471.54" y2="255.23" stroke="#000" stroke-width="1.1" stroke-dasharray="2.5,2"/>
<line x1="1471.54" y1="269.63" x2="1471.54" y2="284.02" stroke="#000" stroke-width="1.1" stroke-dasharray="2.5,2"/>
<line x1="1469.74" y1="240.83" x2="1473.34" y2="240.83" stroke="#000" stroke-width="1.2"/>
<line x1="1469.74" y1="284.02" x2="1473.34" y2="284.02" stroke="#000" stroke-width="1.2"/>
<rect x="1469.14" y="255.23" width="4.8" height="14.4" fill="#FFFF00" stroke="#000" stroke-width="1.25"/>
<line x1="1469.14" y1="262.43" x2="1473.94" y2="262.43" stroke="#000" stroke-width="1.8"/>
<line x1="1478.08" y1="236.26" x2="1478.08" y2="249.3" stroke="#000" stroke-width="1.1" stroke-dasharray="2.5,2"/>
<line x1="1478.08" y1="262.34" x2="1478.08" y2="275.38" stroke="#000" stroke-width="1.1" stroke-dasharray="2.5,2"/>
<line x1="1476.28" y1="236.26" x2="1479.88" y2="236.26" stroke="#000" stroke-width="1.2"/>
<line x1="1476.28" y1="275.38" x2="1479.88" y2="275.38" stroke="#000" stroke-width="1.2"/>
<rect x="1475.68" y="249.3" width="4.8" height="13.04" fill="#FFFF00" stroke="#000" stroke-width="1.25"/>
<line x1="1475.68" y1="255.82" x2="1480.48" y2="255.82" stroke="#000" stroke-width="1.8"/>
<line x1="1484.61" y1="232.09" x2="1484.61" y2="244.09" stroke="#000" stroke-width="1.1" stroke-dasharray="2.5,2"/>
<line x1="1484.61" y1="256.09" x2="1484.61" y2="268.09" stroke="#000" stroke-width="1.1" stroke-dasharray="2.5,2"/>
<line x1="1482.81" y1="232.09" x2="1486.41" y2="232.09" stroke="#000" stroke-width="1.2"/>
<line x1="1482.81" y1="268.09" x2="1486.41" y2="268.09" stroke="#000" stroke-width="1.2"/>
<rect x="1482.21" y="244.09" width="4.8" height="12" fill="#FFFF00" stroke="#000" stroke-width="1.25"/>
<line x1="1482.21" y1="250.09" x2="1487.01" y2="250.09" stroke="#000" stroke-width="1.8"/>
<line x1="1491.14" y1="227.28" x2="1491.14" y2="238.47" stroke="#000" stroke-width="1.1" stroke-dasharray="2.5,2"/>
<line x1="1491.14" y1="249.67" x2="1491.14" y2="260.86" stroke="#000" stroke-width="1.1" stroke-dasharray="2.5,2"/>
<line x1="1489.34" y1="227.28" x2="1492.94" y2="227.28" stroke="#000" stroke-width="1.2"/>
<line x1="1489.34" y1="260.86" x2="1492.94" y2="260.86" stroke="#000" stroke-width="1.2"/>
<rect x="1488.74" y="238.47" width="4.8" height="11.2" fill="#FFFF00" stroke="#000" stroke-width="1.25"/>
<line x1="1488.74" y1="244.07" x2="1493.54" y2="244.07" stroke="#000" stroke-width="1.8"/>
<line x1="1497.68" y1="224.48" x2="1497.68" y2="235" stroke="#000" stroke-width="1.1" stroke-dasharray="2.5,2"/>
<line x1="1497.68" y1="245.51" x2="1497.68" y2="256.03" stroke="#000" stroke-width="1.1" stroke-dasharray="2.5,2"/>
<line x1="1495.88" y1="224.48" x2="1499.48" y2="224.48" stroke="#000" stroke-width="1.2"/>
<line x1="1495.88" y1="256.03" x2="1499.48" y2="256.03" stroke="#000" stroke-width="1.2"/>
<rect x="1495.28" y="235" width="4.8" height="10.52" fill="#FFFF00" stroke="#000" stroke-width="1.25"/>
<line x1="1495.28" y1="240.25" x2="1500.08" y2="240.25" stroke="#000" stroke-width="1.8"/>
<line x1="1504.21" y1="220.5" x2="1504.21" y2="230.44" stroke="#000" stroke-width="1.1" stroke-dasharray="2.5,2"/>
<line x1="1504.21" y1="240.38" x2="1504.21" y2="250.31" stroke="#000" stroke-width="1.1" stroke-dasharray="2.5,2"/>
<line x1="1502.41" y1="220.5" x2="1506.01" y2="220.5" stroke="#000" stroke-width="1.2"/>
<line x1="1502.41" y1="250.31" x2="1506.01" y2="250.31" stroke="#000" stroke-width="1.2"/>
<rect x="1501.81" y="230.44" width="4.8" height="9.94" fill="#FFFF00" stroke="#000" stroke-width="1.25"/>
<line x1="1501.81" y1="235.41" x2="1506.61" y2="235.41" stroke="#000" stroke-width="1.8"/>
<line x1="1510.75" y1="217.87" x2="1510.75" y2="227.31" stroke="#000" stroke-width="1.1" stroke-dasharray="2.5,2"/>
<line x1="1510.75" y1="236.75" x2="1510.75" y2="246.19" stroke="#000" stroke-width="1.1" stroke-dasharray="2.5,2"/>
<line x1="1508.95" y1="217.87" x2="1512.55" y2="217.87" stroke="#000" stroke-width="1.2"/>
<line x1="1508.95" y1="246.19" x2="1512.55" y2="246.19" stroke="#000" stroke-width="1.2"/>
<rect x="1508.35" y="227.31" width="4.8" height="9.44" fill="#FFFF00" stroke="#000" stroke-width="1.25"/>
<line x1="1508.35" y1="232.03" x2="1513.15" y2="232.03" stroke="#000" stroke-width="1.8"/>
<line x1="1517.28" y1="214.71" x2="1517.28" y2="223.71" stroke="#000" stroke-width="1.1" stroke-dasharray="2.5,2"/>
<line x1="1517.28" y1="232.71" x2="1517.28" y2="241.71" stroke="#000" stroke-width="1.1" stroke-dasharray="2.5,2"/>
<line x1="1515.48" y1="214.71" x2="1519.08" y2="214.71" stroke="#000" stroke-width="1.2"/>
<line x1="1515.48" y1="241.71" x2="1519.08" y2="241.71" stroke="#000" stroke-width="1.2"/>
<rect x="1514.88" y="223.71" width="4.8" height="9" fill="#FFFF00" stroke="#000" stroke-width="1.25"/>
<line x1="1514.88" y1="228.21" x2="1519.68" y2="228.21" stroke="#000" stroke-width="1.8"/>
<line x1="1523.81" y1="211.76" x2="1523.81" y2="220.36" stroke="#000" stroke-width="1.1" stroke-dasharray="2.5,2"/>
<line x1="1523.81" y1="228.96" x2="1523.81" y2="237.55" stroke="#000" stroke-width="1.1" stroke-dasharray="2.5,2"/>
<line x1="1522.01" y1="211.76" x2="1525.61" y2="211.76" stroke="#000" stroke-width="1.2"/>
<line x1="1522.01" y1="237.55" x2="1525.61" y2="237.55" stroke="#000" stroke-width="1.2"/>
<rect x="1521.41" y="220.36" width="4.8" height="8.6" fill="#FFFF00" stroke="#000" stroke-width="1.25"/>
<line x1="1521.41" y1="224.66" x2="1526.21" y2="224.66" stroke="#000" stroke-width="1.8"/>
<line x1="1530.35" y1="209.12" x2="1530.35" y2="217.34" stroke="#000" stroke-width="1.1" stroke-dasharray="2.5,2"/>
<line x1="1530.35" y1="225.57" x2="1530.35" y2="233.79" stroke="#000" stroke-width="1.1" stroke-dasharray="2.5,2"/>
<line x1="1528.55" y1="209.12" x2="1532.15" y2="209.12" stroke="#000" stroke-width="1.2"/>
<line x1="1528.55" y1="233.79" x2="1532.15" y2="233.79" stroke="#000" stroke-width="1.2"/>
<rect x="1527.95" y="217.34" width="4.8" height="8.22" fill="#FFFF00" stroke="#000" stroke-width="1.25"/>
<line x1="1527.95" y1="221.46" x2="1532.75" y2="221.46" stroke="#000" stroke-width="1.8"/>
<line x1="1536.88" y1="206.92" x2="1536.88" y2="214.79" stroke="#000" stroke-width="1.1" stroke-dasharray="2.5,2"/>
<line x1="1536.88" y1="222.66" x2="1536.88" y2="230.54" stroke="#000" stroke-width="1.1" stroke-dasharray="2.5,2"/>
<line x1="1535.08" y1="206.92" x2="1538.68" y2="206.92" stroke="#000" stroke-width="1.2"/>
<line x1="1535.08" y1="230.54" x2="1538.68" y2="230.54" stroke="#000" stroke-width="1.2"/>
<rect x="1534.48" y="214.79" width="4.8" height="7.87" fill="#FFFF00" stroke="#000" stroke-width="1.25"/>
<line x1="1534.48" y1="218.73" x2="1539.28" y2="218.73" stroke="#000" stroke-width="1.8"/>
<line x1="1543.42" y1="204.95" x2="1543.42" y2="212.49" stroke="#000" stroke-width="1.1" stroke-dasharray="2.5,2"/>
<line x1="1543.42" y1="220.04" x2="1543.42" y2="227.59" stroke="#000" stroke-width="1.1" stroke-dasharray="2.5,2"/>
<line x1="1541.62" y1="204.95" x2="1545.22" y2="204.95" stroke="#000" stroke-width="1.2"/>
<line x1="1541.62" y1="227.59" x2="1545.22" y2="227.59" stroke="#000" stroke-width="1.2"/>
<rect x="1541.02" y="212.49" width="4.8" height="7.55" fill="#FFFF00" stroke="#000" stroke-width="1.25"/>
<line x1="1541.02" y1="216.27" x2="1545.82" y2="216.27" stroke="#000" stroke-width="1.8"/>
<line x1="1549.95" y1="203.1" x2="1549.95" y2="210.35" stroke="#000" stroke-width="1.1" stroke-dasharray="2.5,2"/>
<line x1="1549.95" y1="217.59" x2="1549.95" y2="224.83" stroke="#000" stroke-width="1.1" stroke-dasharray="2.5,2"/>
<line x1="1548.15" y1="203.1" x2="1551.75" y2="203.1" stroke="#000" stroke-width="1.2"/>
<line x1="1548.15" y1="224.83" x2="1551.75" y2="224.83" stroke="#000" stroke-width="1.2"/>
<rect x="1547.55" y="210.35" width="4.8" height="7.24" fill="#FFFF00" stroke="#000" stroke-width="1.25"/>
<line x1="1547.55" y1="213.97" x2="1552.35" y2="213.97" stroke="#000" stroke-width="1.8"/>
<line x1="1556.48" y1="201.4" x2="1556.48" y2="208.36" stroke="#000" stroke-width="1.1" stroke-dasharray="2.5,2"/>
<line x1="1556.48" y1="215.32" x2="1556.48" y2="222.28" stroke="#000" stroke-width="1.1" stroke-dasharray="2.5,2"/>
<line x1="1554.68" y1="201.4" x2="1558.28" y2="201.4" stroke="#000" stroke-width="1.2"/>
<line x1="1554.68" y1="222.28" x2="1558.28" y2="222.28" stroke="#000" stroke-width="1.2"/>
<rect x="1554.08" y="208.36" width="4.8" height="6.96" fill="#FFFF00" stroke="#000" stroke-width="1.25"/>
<line x1="1554.08" y1="211.84" x2="1558.88" y2="211.84" stroke="#000" stroke-width="1.8"/>
<line x1="1563.02" y1="199.8" x2="1563.02" y2="206.5" stroke="#000" stroke-width="1.1" stroke-dasharray="2.5,2"/>
<line x1="1563.02" y1="213.19" x2="1563.02" y2="219.88" stroke="#000" stroke-width="1.1" stroke-dasharray="2.5,2"/>
<line x1="1561.22" y1="199.8" x2="1564.82" y2="199.8" stroke="#000" stroke-width="1.2"/>
<line x1="1561.22" y1="219.88" x2="1564.82" y2="219.88" stroke="#000" stroke-width="1.2"/>
<rect x="1560.62" y="206.5" width="4.8" height="6.69" fill="#FFFF00" stroke="#000" stroke-width="1.25"/>
<line x1="1560.62" y1="209.84" x2="1565.42" y2="209.84" stroke="#000" stroke-width="1.8"/>
<line x1="1569.55" y1="198.13" x2="1569.55" y2="204.58" stroke="#000" stroke-width="1.1" stroke-dasharray="2.5,2"/>
<line x1="1569.55" y1="211.02" x2="1569.55" y2="217.47" stroke="#000" stroke-width="1.1" stroke-dasharray="2.5,2"/>
<line x1="1567.75" y1="198.13" x2="1571.35" y2="198.13" stroke="#000" stroke-width="1.2"/>
<line x1="1567.75" y1="217.47" x2="1571.35" y2="217.47" stroke="#000" stroke-width="1.2"/>
<rect x="1567.15" y="204.58" width="4.8" height="6.45" fill="#FFFF00" stroke="#000" stroke-width="1.25"/>
<line x1="1567.15" y1="207.8" x2="1571.95" y2="207.8" stroke="#000" stroke-width="1.8"/>
<line x1="1576.09" y1="196.24" x2="1576.09" y2="202.46" stroke="#000" stroke-width="1.1" stroke-dasharray="2.5,2"/>
<line x1="1576.09" y1="208.67" x2="1576.09" y2="214.89" stroke="#000" stroke-width="1.1" stroke-dasharray="2.5,2"/>
<line x1="1574.29" y1="196.24" x2="1577.89" y2="196.24" stroke="#000" stroke-width="1.2"/>
<line x1="1574.29" y1="214.89" x2="1577.89" y2="214.89" stroke="#000" stroke-width="1.2"/>
<rect x="1573.69" y="202.46" width="4.8" height="6.22" fill="#FFFF00" stroke="#000" stroke-width="1.25"/>
<line x1="1573.69" y1="205.56" x2="1578.49" y2="205.56" stroke="#000" stroke-width="1.8"/>
<line x1="1582.62" y1="194.39" x2="1582.62" y2="200.39" stroke="#000" stroke-width="1.1" stroke-dasharray="2.5,2"/>
<line x1="1582.62" y1="206.39" x2="1582.62" y2="212.39" stroke="#000" stroke-width="1.1" stroke-dasharray="2.5,2"/>
<line x1="1580.82" y1="194.39" x2="1584.42" y2="194.39" stroke="#000" stroke-width="1.2"/>
<line x1="1580.82" y1="212.39" x2="1584.42" y2="212.39" stroke="#000" stroke-width="1.2"/>
<rect x="1580.22" y="200.39" width="4.8" height="6" fill="#FFFF00" stroke="#000" stroke-width="1.25"/>
<line x1="1580.22" y1="203.39" x2="1585.02" y2="203.39" stroke="#000" stroke-width="1.8"/>
<line x1="1589.15" y1="192.85" x2="1589.15" y2="198.64" stroke="#000" stroke-width="1.1" stroke-dasharray="2.5,2"/>
<line x1="1589.15" y1="204.44" x2="1589.15" y2="210.23" stroke="#000" stroke-width="1.1" stroke-dasharray="2.5,2"/>
<line x1="1587.35" y1="192.85" x2="1590.95" y2="192.85" stroke="#000" stroke-width="1.2"/>
<line x1="1587.35" y1="210.23" x2="1590.95" y2="210.23" stroke="#000" stroke-width="1.2"/>
<rect x="1586.75" y="198.64" width="4.8" height="5.79" fill="#FFFF00" stroke="#000" stroke-width="1.25"/>
<line x1="1586.75" y1="201.54" x2="1591.55" y2="201.54" stroke="#000" stroke-width="1.8"/>
<line x1="1595.69" y1="191.42" x2="1595.69" y2="197.02" stroke="#000" stroke-width="1.1" stroke-dasharray="2.5,2"/>
<line x1="1595.69" y1="202.61" x2="1595.69" y2="208.21" stroke="#000" stroke-width="1.1" stroke-dasharray="2.5,2"/>
<line x1="1593.89" y1="191.42" x2="1597.49" y2="191.42" stroke="#000" stroke-width="1.2"/>
<line x1="1593.89" y1="208.21" x2="1597.49" y2="208.21" stroke="#000" stroke-width="1.2"/>
<rect x="1593.29" y="197.02" width="4.8" height="5.6" fill="#FFFF00" stroke="#000" stroke-width="1.25"/>
<line x1="1593.29" y1="199.81" x2="1598.09" y2="199.81" stroke="#000" stroke-width="1.8"/>
<line x1="1602.22" y1="189.85" x2="1602.22" y2="195.26" stroke="#000" stroke-width="1.1" stroke-dasharray="2.5,2"/>
<line x1="1602.22" y1="200.66" x2="1602.22" y2="206.07" stroke="#000" stroke-width="1.1" stroke-dasharray="2.5,2"/>
<line x1="1600.42" y1="189.85" x2="1604.02" y2="189.85" stroke="#000" stroke-width="1.2"/>
<line x1="1600.42" y1="206.07" x2="1604.02" y2="206.07" stroke="#000" stroke-width="1.2"/>
<rect x="1599.82" y="195.26" width="4.8" height="5.41" fill="#FFFF00" stroke="#000" stroke-width="1.25"/>
<line x1="1599.82" y1="197.96" x2="1604.62" y2="197.96" stroke="#000" stroke-width="1.8"/>
<line x1="1608.76" y1="187.88" x2="1608.76" y2="193.1" stroke="#000" stroke-width="1.1" stroke-dasharray="2.5,2"/>
<line x1="1608.76" y1="198.32" x2="1608.76" y2="203.55" stroke="#000" stroke-width="1.1" stroke-dasharray="2.5,2"/>
<line x1="1606.96" y1="187.88" x2="1610.56" y2="187.88" stroke="#000" stroke-width="1.2"/>
<line x1="1606.96" y1="203.55" x2="1610.56" y2="203.55" stroke="#000" stroke-width="1.2"/>
<rect x="1606.36" y="193.1" width="4.8" height="5.22" fill="#FFFF00" stroke="#000" stroke-width="1.25"/>
<line x1="1606.36" y1="195.71" x2="1611.16" y2="195.71" stroke="#000" stroke-width="1.8"/>
<line x1="1615.29" y1="185.97" x2="1615.29" y2="191.03" stroke="#000" stroke-width="1.1" stroke-dasharray="2.5,2"/>
<line x1="1615.29" y1="196.08" x2="1615.29" y2="201.14" stroke="#000" stroke-width="1.1" stroke-dasharray="2.5,2"/>
<line x1="1613.49" y1="185.97" x2="1617.09" y2="185.97" stroke="#000" stroke-width="1.2"/>
<line x1="1613.49" y1="201.14" x2="1617.09" y2="201.14" stroke="#000" stroke-width="1.2"/>
<rect x="1612.89" y="191.03" width="4.8" height="5.05" fill="#FFFF00" stroke="#000" stroke-width="1.25"/>
<line x1="1612.89" y1="193.55" x2="1617.69" y2="193.55" stroke="#000" stroke-width="1.8"/>
<line x1="1621.82" y1="184.51" x2="1621.82" y2="189.41" stroke="#000" stroke-width="1.1" stroke-dasharray="2.5,2"/>
<line x1="1621.82" y1="194.31" x2="1621.82" y2="199.2" stroke="#000" stroke-width="1.1" stroke-dasharray="2.5,2"/>
<line x1="1620.02" y1="184.51" x2="1623.62" y2="184.51" stroke="#000" stroke-width="1.2"/>
<line x1="1620.02" y1="199.2" x2="1623.62" y2="199.2" stroke="#000" stroke-width="1.2"/>
<rect x="1619.42" y="189.41" width="4.8" height="4.9" fill="#FFFF00" stroke="#000" stroke-width="1.25"/>
<line x1="1619.42" y1="191.86" x2="1624.22" y2="191.86" stroke="#000" stroke-width="1.8"/>
<line x1="1628.36" y1="183.24" x2="1628.36" y2="187.99" stroke="#000" stroke-width="1.1" stroke-dasharray="2.5,2"/>
<line x1="1628.36" y1="192.74" x2="1628.36" y2="197.49" stroke="#000" stroke-width="1.1" stroke-dasharray="2.5,2"/>
<line x1="1626.56" y1="183.24" x2="1630.16" y2="183.24" stroke="#000" stroke-width="1.2"/>
<line x1="1626.56" y1="197.49" x2="1630.16" y2="197.49" stroke="#000" stroke-width="1.2"/>
<rect x="1625.96" y="187.99" width="4.8" height="4.75" fill="#FFFF00" stroke="#000" stroke-width="1.25"/>
<line x1="1625.96" y1="190.36" x2="1630.76" y2="190.36" stroke="#000" stroke-width="1.8"/>
<line x1="1634.89" y1="182.08" x2="1634.89" y2="186.69" stroke="#000" stroke-width="1.1" stroke-dasharray="2.5,2"/>
<line x1="1634.89" y1="191.31" x2="1634.89" y2="195.93" stroke="#000" stroke-width="1.1" stroke-dasharray="2.5,2"/>
<line x1="1633.09" y1="182.08" x2="1636.69" y2="182.08" stroke="#000" stroke-width="1.2"/>
<line x1="1633.09" y1="195.93" x2="1636.69" y2="195.93" stroke="#000" stroke-width="1.2"/>
<rect x="1632.49" y="186.69" width="4.8" height="4.62" fill="#FFFF00" stroke="#000" stroke-width="1.25"/>
<line x1="1632.49" y1="189" x2="1637.29" y2="189" stroke="#000" stroke-width="1.8"/>
<line x1="1641.43" y1="180.99" x2="1641.43" y2="185.49" stroke="#000" stroke-width="1.1" stroke-dasharray="2.5,2"/>
<line x1="1641.43" y1="189.99" x2="1641.43" y2="194.49" stroke="#000" stroke-width="1.1" stroke-dasharray="2.5,2"/>
<line x1="1639.63" y1="180.99" x2="1643.23" y2="180.99" stroke="#000" stroke-width="1.2"/>
<line x1="1639.63" y1="194.49" x2="1643.23" y2="194.49" stroke="#000" stroke-width="1.2"/>
<rect x="1639.03" y="185.49" width="4.8" height="4.5" fill="#FFFF00" stroke="#000" stroke-width="1.25"/>
<line x1="1639.03" y1="187.74" x2="1643.83" y2="187.74" stroke="#000" stroke-width="1.8"/>
<line x1="1647.96" y1="180.05" x2="1647.96" y2="184.45" stroke="#000" stroke-width="1.1" stroke-dasharray="2.5,2"/>
<line x1="1647.96" y1="188.85" x2="1647.96" y2="193.25" stroke="#000" stroke-width="1.1" stroke-dasharray="2.5,2"/>
<line x1="1646.16" y1="180.05" x2="1649.76" y2="180.05" stroke="#000" stroke-width="1.2"/>
<line x1="1646.16" y1="193.25" x2="1649.76" y2="193.25" stroke="#000" stroke-width="1.2"/>
<rect x="1645.56" y="184.45" width="4.8" height="4.4" fill="#FFFF00" stroke="#000" stroke-width="1.25"/>
<line x1="1645.56" y1="186.65" x2="1650.36" y2="186.65" stroke="#000" stroke-width="1.8"/>
<line x1="1654.49" y1="179.26" x2="1654.49" y2="183.58" stroke="#000" stroke-width="1.1" stroke-dasharray="2.5,2"/>
<line x1="1654.49" y1="187.89" x2="1654.49" y2="192.2" stroke="#000" stroke-width="1.1" stroke-dasharray="2.5,2"/>
<line x1="1652.69" y1="179.26" x2="1656.29" y2="179.26" stroke="#000" stroke-width="1.2"/>
<line x1="1652.69" y1="192.2" x2="1656.29" y2="192.2" stroke="#000" stroke-width="1.2"/>
<rect x="1652.09" y="183.58" width="4.8" height="4.31" fill="#FFFF00" stroke="#000" stroke-width="1.25"/>
<line x1="1652.09" y1="185.73" x2="1656.89" y2="185.73" stroke="#000" stroke-width="1.8"/>
<line x1="1661.03" y1="178.54" x2="1661.03" y2="182.77" stroke="#000" stroke-width="1.1" stroke-dasharray="2.5,2"/>
<line x1="1661.03" y1="187" x2="1661.03" y2="191.22" stroke="#000" stroke-width="1.1" stroke-dasharray="2.5,2"/>
<line x1="1659.23" y1="178.54" x2="1662.83" y2="178.54" stroke="#000" stroke-width="1.2"/>
<line x1="1659.23" y1="191.22" x2="1662.83" y2="191.22" stroke="#000" stroke-width="1.2"/>
<rect x="1658.63" y="182.77" width="4.8" height="4.23" fill="#FFFF00" stroke="#000" stroke-width="1.25"/>
<line x1="1658.63" y1="184.88" x2="1663.43" y2="184.88" stroke="#000" stroke-width="1.8"/>
<line x1="1667.56" y1="177.87" x2="1667.56" y2="182.02" stroke="#000" stroke-width="1.1" stroke-dasharray="2.5,2"/>
<line x1="1667.56" y1="186.17" x2="1667.56" y2="190.32" stroke="#000" stroke-width="1.1" stroke-dasharray="2.5,2"/>
<line x1="1665.76" y1="177.87" x2="1669.36" y2="177.87" stroke="#000" stroke-width="1.2"/>
<line x1="1665.76" y1="190.32" x2="1669.36" y2="190.32" stroke="#000" stroke-width="1.2"/>
<rect x="1665.16" y="182.02" width="4.8" height="4.15" fill="#FFFF00" stroke="#000" stroke-width="1.25"/>
<line x1="1665.16" y1="184.09" x2="1669.96" y2="184.09" stroke="#000" stroke-width="1.8"/>
<line x1="1674.1" y1="177.23" x2="1674.1" y2="181.31" stroke="#000" stroke-width="1.1" stroke-dasharray="2.5,2"/>
<line x1="1674.1" y1="185.39" x2="1674.1" y2="189.47" stroke="#000" stroke-width="1.1" stroke-dasharray="2.5,2"/>
<line x1="1672.3" y1="177.23" x2="1675.9" y2="177.23" stroke="#000" stroke-width="1.2"/>
<line x1="1672.3" y1="189.47" x2="1675.9" y2="189.47" stroke="#000" stroke-width="1.2"/>
<rect x="1671.7" y="181.31" width="4.8" height="4.08" fill="#FFFF00" stroke="#000" stroke-width="1.25"/>
<line x1="1671.7" y1="183.35" x2="1676.5" y2="183.35" stroke="#000" stroke-width="1.8"/>
<line x1="1680.63" y1="176.63" x2="1680.63" y2="180.64" stroke="#000" stroke-width="1.1" stroke-dasharray="2.5,2"/>
<line x1="1680.63" y1="184.65" x2="1680.63" y2="188.66" stroke="#000" stroke-width="1.1" stroke-dasharray="2.5,2"/>
<line x1="1678.83" y1="176.63" x2="1682.43" y2="176.63" stroke="#000" stroke-width="1.2"/>
<line x1="1678.83" y1="188.66" x2="1682.43" y2="188.66" stroke="#000" stroke-width="1.2"/>
<rect x="1678.23" y="180.64" width="4.8" height="4.01" fill="#FFFF00" stroke="#000" stroke-width="1.25"/>
<line x1="1678.23" y1="182.64" x2="1683.03" y2="182.64" stroke="#000" stroke-width="1.8"/>
<line x1="1687.16" y1="176.04" x2="1687.16" y2="179.98" stroke="#000" stroke-width="1.1" stroke-dasharray="2.5,2"/>
<line x1="1687.16" y1="183.93" x2="1687.16" y2="187.87" stroke="#000" stroke-width="1.1" stroke-dasharray="2.5,2"/>
<line x1="1685.36" y1="176.04" x2="1688.96" y2="176.04" stroke="#000" stroke-width="1.2"/>
<line x1="1685.36" y1="187.87" x2="1688.96" y2="187.87" stroke="#000" stroke-width="1.2"/>
<rect x="1684.76" y="179.98" width="4.8" height="3.95" fill="#FFFF00" stroke="#000" stroke-width="1.25"/>
<line x1="1684.76" y1="181.95" x2="1689.56" y2="181.95" stroke="#000" stroke-width="1.8"/>
<line x1="1693.7" y1="175.45" x2="1693.7" y2="179.33" stroke="#000" stroke-width="1.1" stroke-dasharray="2.5,2"/>
<line x1="1693.7" y1="183.22" x2="1693.7" y2="187.1" stroke="#000" stroke-width="1.1" stroke-dasharray="2.5,2"/>
<line x1="1691.9" y1="175.45" x2="1695.5" y2="175.45" stroke="#000" stroke-width="1.2"/>
<line x1="1691.9" y1="187.1" x2="1695.5" y2="187.1" stroke="#000" stroke-width="1.2"/>
<rect x="1691.3" y="179.33" width="4.8" height="3.89" fill="#FFFF00" stroke="#000" stroke-width="1.25"/>
<line x1="1691.3" y1="181.28" x2="1696.1" y2="181.28" stroke="#000" stroke-width="1.8"/>
<line x1="1700.23" y1="174.85" x2="1700.23" y2="178.68" stroke="#000" stroke-width="1.1" stroke-dasharray="2.5,2"/>
<line x1="1700.23" y1="182.51" x2="1700.23" y2="186.34" stroke="#000" stroke-width="1.1" stroke-dasharray="2.5,2"/>
<line x1="1698.43" y1="174.85" x2="1702.03" y2="174.85" stroke="#000" stroke-width="1.2"/>
<line x1="1698.43" y1="186.34" x2="1702.03" y2="186.34" stroke="#000" stroke-width="1.2"/>
<rect x="1697.83" y="178.68" width="4.8" height="3.83" fill="#FFFF00" stroke="#000" stroke-width="1.25"/>
<line x1="1697.83" y1="180.59" x2="1702.63" y2="180.59" stroke="#000" stroke-width="1.8"/>
<line x1="1706.77" y1="174.23" x2="1706.77" y2="178.01" stroke="#000" stroke-width="1.1" stroke-dasharray="2.5,2"/>
<line x1="1706.77" y1="181.78" x2="1706.77" y2="185.55" stroke="#000" stroke-width="1.1" stroke-dasharray="2.5,2"/>
<line x1="1704.97" y1="174.23" x2="1708.57" y2="174.23" stroke="#000" stroke-width="1.2"/>
<line x1="1704.97" y1="185.55" x2="1708.57" y2="185.55" stroke="#000" stroke-width="1.2"/>
<rect x="1704.37" y="178.01" width="4.8" height="3.77" fill="#FFFF00" stroke="#000" stroke-width="1.25"/>
<line x1="1704.37" y1="179.89" x2="1709.17" y2="179.89" stroke="#000" stroke-width="1.8"/>
<line x1="1713.3" y1="173.58" x2="1713.3" y2="177.3" stroke="#000" stroke-width="1.1" stroke-dasharray="2.5,2"/>
<line x1="1713.3" y1="181.02" x2="1713.3" y2="184.74" stroke="#000" stroke-width="1.1" stroke-dasharray="2.5,2"/>
<line x1="1711.5" y1="173.58" x2="1715.1" y2="173.58" stroke="#000" stroke-width="1.2"/>
<line x1="1711.5" y1="184.74" x2="1715.1" y2="184.74" stroke="#000" stroke-width="1.2"/>
<rect x="1710.9" y="177.3" width="4.8" height="3.72" fill="#FFFF00" stroke="#000" stroke-width="1.25"/>
<line x1="1710.9" y1="179.16" x2="1715.7" y2="179.16" stroke="#000" stroke-width="1.8"/>
<line x1="1719.83" y1="172.89" x2="1719.83" y2="176.56" stroke="#000" stroke-width="1.1" stroke-dasharray="2.5,2"/>
<line x1="1719.83" y1="180.23" x2="1719.83" y2="183.9" stroke="#000" stroke-width="1.1" stroke-dasharray="2.5,2"/>
<line x1="1718.03" y1="172.89" x2="1721.63" y2="172.89" stroke="#000" stroke-width="1.2"/>
<line x1="1718.03" y1="183.9" x2="1721.63" y2="183.9" stroke="#000" stroke-width="1.2"/>
<rect x="1717.43" y="176.56" width="4.8" height="3.67" fill="#FFFF00" stroke="#000" stroke-width="1.25"/>
<line x1="1717.43" y1="178.4" x2="1722.23" y2="178.4" stroke="#000" stroke-width="1.8"/>
<line x1="1726.37" y1="172.18" x2="1726.37" y2="175.79" stroke="#000" stroke-width="1.1" stroke-dasharray="2.5,2"/>
<line x1="1726.37" y1="179.41" x2="1726.37" y2="183.03" stroke="#000" stroke-width="1.1" stroke-dasharray="2.5,2"/>
<line x1="1724.57" y1="172.18" x2="1728.17" y2="172.18" stroke="#000" stroke-width="1.2"/>
<line x1="1724.57" y1="183.03" x2="1728.17" y2="183.03" stroke="#000" stroke-width="1.2"/>
<rect x="1723.97" y="175.79" width="4.8" height="3.62" fill="#FFFF00" stroke="#000" stroke-width="1.25"/>
<line x1="1723.97" y1="177.6" x2="1728.77" y2="177.6" stroke="#000" stroke-width="1.8"/>
<line x1="1732.9" y1="171.44" x2="1732.9" y2="175.01" stroke="#000" stroke-width="1.1" stroke-dasharray="2.5,2"/>
<line x1="1732.9" y1="178.58" x2="1732.9" y2="182.15" stroke="#000" stroke-width="1.1" stroke-dasharray="2.5,2"/>
<line x1="1731.1" y1="171.44" x2="1734.7" y2="171.44" stroke="#000" stroke-width="1.2"/>
<line x1="1731.1" y1="182.15" x2="1734.7" y2="182.15" stroke="#000" stroke-width="1.2"/>
<rect x="1730.5" y="175.01" width="4.8" height="3.57" fill="#FFFF00" stroke="#000" stroke-width="1.25"/>
<line x1="1730.5" y1="176.79" x2="1735.3" y2="176.79" stroke="#000" stroke-width="1.8"/>
<line x1="1739.44" y1="170.7" x2="1739.44" y2="174.22" stroke="#000" stroke-width="1.1" stroke-dasharray="2.5,2"/>
<line x1="1739.44" y1="177.74" x2="1739.44" y2="181.26" stroke="#000" stroke-width="1.1" stroke-dasharray="2.5,2"/>
<line x1="1737.64" y1="170.7" x2="1741.24" y2="170.7" stroke="#000" stroke-width="1.2"/>
<line x1="1737.64" y1="181.26" x2="1741.24" y2="181.26" stroke="#000" stroke-width="1.2"/>
<rect x="1737.04" y="174.22" width="4.8" height="3.52" fill="#FFFF00" stroke="#000" stroke-width="1.25"/>
<line x1="1737.04" y1="175.98" x2="1741.84" y2="175.98" stroke="#000" stroke-width="1.8"/>
<line x1="1745.97" y1="169.97" x2="1745.97" y2="173.44" stroke="#000" stroke-width="1.1" stroke-dasharray="2.5,2"/>
<line x1="1745.97" y1="176.91" x2="1745.97" y2="180.38" stroke="#000" stroke-width="1.1" stroke-dasharray="2.5,2"/>
<line x1="1744.17" y1="169.97" x2="1747.77" y2="169.97" stroke="#000" stroke-width="1.2"/>
<line x1="1744.17" y1="180.38" x2="1747.77" y2="180.38" stroke="#000" stroke-width="1.2"/>
<rect x="1743.57" y="173.44" width="4.8" height="3.47" fill="#FFFF00" stroke="#000" stroke-width="1.25"/>
<line x1="1743.57" y1="175.18" x2="1748.37" y2="175.18" stroke="#000" stroke-width="1.8"/>
<line x1="1752.5" y1="169.26" x2="1752.5" y2="172.68" stroke="#000" stroke-width="1.1" stroke-dasharray="2.5,2"/>
<line x1="1752.5" y1="176.1" x2="1752.5" y2="179.52" stroke="#000" stroke-width="1.1" stroke-dasharray="2.5,2"/>
<line x1="1750.7" y1="169.26" x2="1754.3" y2="169.26" stroke="#000" stroke-width="1.2"/>
<line x1="1750.7" y1="179.52" x2="1754.3" y2="179.52" stroke="#000" stroke-width="1.2"/>
<rect x="1750.1" y="172.68" width="4.8" height="3.42" fill="#FFFF00" stroke="#000" stroke-width="1.25"/>
<line x1="1750.1" y1="174.39" x2="1754.9" y2="174.39" stroke="#000" stroke-width="1.8"/>
<line x1="1759.04" y1="168.58" x2="1759.04" y2="171.95" stroke="#000" stroke-width="1.1" stroke-dasharray="2.5,2"/>
<line x1="1759.04" y1="175.32" x2="1759.04" y2="178.69" stroke="#000" stroke-width="1.1" stroke-dasharray="2.5,2"/>
<line x1="1757.24" y1="168.58" x2="1760.84" y2="168.58" stroke="#000" stroke-width="1.2"/>
<line x1="1757.24" y1="178.69" x2="1760.84" y2="178.69" stroke="#000" stroke-width="1.2"/>
<rect x="1756.64" y="171.95" width="4.8" height="3.37" fill="#FFFF00" stroke="#000" stroke-width="1.25"/>
<line x1="1756.64" y1="173.64" x2="1761.44" y2="173.64" stroke="#000" stroke-width="1.8"/>
<line x1="1765.57" y1="167.95" x2="1765.57" y2="171.27" stroke="#000" stroke-width="1.1" stroke-dasharray="2.5,2"/>
<line x1="1765.57" y1="174.58" x2="1765.57" y2="177.89" stroke="#000" stroke-width="1.1" stroke-dasharray="2.5,2"/>
<line x1="1763.77" y1="167.95" x2="1767.37" y2="167.95" stroke="#000" stroke-width="1.2"/>
<line x1="1763.77" y1="177.89" x2="1767.37" y2="177.89" stroke="#000" stroke-width="1.2"/>
<rect x="1763.17" y="171.27" width="4.8" height="3.31" fill="#FFFF00" stroke="#000" stroke-width="1.25"/>
<line x1="1763.17" y1="172.92" x2="1767.97" y2="172.92" stroke="#000" stroke-width="1.8"/>
<line x1="1772.11" y1="167.38" x2="1772.11" y2="170.64" stroke="#000" stroke-width="1.1" stroke-dasharray="2.5,2"/>
<line x1="1772.11" y1="173.89" x2="1772.11" y2="177.15" stroke="#000" stroke-width="1.1" stroke-dasharray="2.5,2"/>
<line x1="1770.31" y1="167.38" x2="1773.91" y2="167.38" stroke="#000" stroke-width="1.2"/>
<line x1="1770.31" y1="177.15" x2="1773.91" y2="177.15" stroke="#000" stroke-width="1.2"/>
<rect x="1769.71" y="170.64" width="4.8" height="3.26" fill="#FFFF00" stroke="#000" stroke-width="1.25"/>
<line x1="1769.71" y1="172.27" x2="1774.51" y2="172.27" stroke="#000" stroke-width="1.8"/>
<line x1="1778.64" y1="166.87" x2="1778.64" y2="170.07" stroke="#000" stroke-width="1.1" stroke-dasharray="2.5,2"/>
<line x1="1778.64" y1="173.27" x2="1778.64" y2="176.47" stroke="#000" stroke-width="1.1" stroke-dasharray="2.5,2"/>
<line x1="1776.84" y1="166.87" x2="1780.44" y2="166.87" stroke="#000" stroke-width="1.2"/>
<line x1="1776.84" y1="176.47" x2="1780.44" y2="176.47" stroke="#000" stroke-width="1.2"/>
<rect x="1776.24" y="170.07" width="4.8" height="3.2" fill="#FFFF00" stroke="#000" stroke-width="1.25"/>
<line x1="1776.24" y1="171.67" x2="1781.04" y2="171.67" stroke="#000" stroke-width="1.8"/>
<line x1="1785.17" y1="166.43" x2="1785.17" y2="169.57" stroke="#000" stroke-width="1.1" stroke-dasharray="2.5,2"/>
<line x1="1785.17" y1="172.71" x2="1785.17" y2="175.85" stroke="#000" stroke-width="1.1" stroke-dasharray="2.5,2"/>
<line x1="1783.37" y1="166.43" x2="1786.97" y2="166.43" stroke="#000" stroke-width="1.2"/>
<line x1="1783.37" y1="175.85" x2="1786.97" y2="175.85" stroke="#000" stroke-width="1.2"/>
<rect x="1782.77" y="169.57" width="4.8" height="3.14" fill="#FFFF00" stroke="#000" stroke-width="1.25"/>
<line x1="1782.77" y1="171.14" x2="1787.57" y2="171.14" stroke="#000" stroke-width="1.8"/>
<line x1="1791.71" y1="166.02" x2="1791.71" y2="169.1" stroke="#000" stroke-width="1.1" stroke-dasharray="2.5,2"/>
<line x1="1791.71" y1="172.18" x2="1791.71" y2="175.26" stroke="#000" stroke-width="1.1" stroke-dasharray="2.5,2"/>
<line x1="1789.91" y1="166.02" x2="1793.51" y2="166.02" stroke="#000" stroke-width="1.2"/>
<line x1="1789.91" y1="175.26" x2="1793.51" y2="175.26" stroke="#000" stroke-width="1.2"/>
<rect x="1789.31" y="169.1" width="4.8" height="3.08" fill="#FFFF00" stroke="#000" stroke-width="1.25"/>
<line x1="1789.31" y1="170.64" x2="1794.11" y2="170.64" stroke="#000" stroke-width="1.8"/>
<line x1="1798.24" y1="165.64" x2="1798.24" y2="168.66" stroke="#000" stroke-width="1.1" stroke-dasharray="2.5,2"/>
<line x1="1798.24" y1="171.68" x2="1798.24" y2="174.7" stroke="#000" stroke-width="1.1" stroke-dasharray="2.5,2"/>
<line x1="1796.44" y1="165.64" x2="1800.04" y2="165.64" stroke="#000" stroke-width="1.2"/>
<line x1="1796.44" y1="174.7" x2="1800.04" y2="174.7" stroke="#000" stroke-width="1.2"/>
<rect x="1795.84" y="168.66" width="4.8" height="3.02" fill="#FFFF00" stroke="#000" stroke-width="1.25"/>
<line x1="1795.84" y1="170.17" x2="1800.64" y2="170.17" stroke="#000" stroke-width="1.8"/>
<line x1="1804.78" y1="165.29" x2="1804.78" y2="168.25" stroke="#000" stroke-width="1.1" stroke-dasharray="2.5,2"/>
<line x1="1804.78" y1="171.21" x2="1804.78" y2="174.17" stroke="#000" stroke-width="1.1" stroke-dasharray="2.5,2"/>
<line x1="1802.98" y1="165.29" x2="1806.58" y2="165.29" stroke="#000" stroke-width="1.2"/>
<line x1="1802.98" y1="174.17" x2="1806.58" y2="174.17" stroke="#000" stroke-width="1.2"/>
<rect x="1802.38" y="168.25" width="4.8" height="2.96" fill="#FFFF00" stroke="#000" stroke-width="1.25"/>
<line x1="1802.38" y1="169.73" x2="1807.18" y2="169.73" stroke="#000" stroke-width="1.8"/>
<line x1="1811.31" y1="164.95" x2="1811.31" y2="167.85" stroke="#000" stroke-width="1.1" stroke-dasharray="2.5,2"/>
<line x1="1811.31" y1="170.75" x2="1811.31" y2="173.65" stroke="#000" stroke-width="1.1" stroke-dasharray="2.5,2"/>
<line x1="1809.51" y1="164.95" x2="1813.11" y2="164.95" stroke="#000" stroke-width="1.2"/>
<line x1="1809.51" y1="173.65" x2="1813.11" y2="173.65" stroke="#000" stroke-width="1.2"/>
<rect x="1808.91" y="167.85" width="4.8" height="2.9" fill="#FFFF00" stroke="#000" stroke-width="1.25"/>
<line x1="1808.91" y1="169.3" x2="1813.71" y2="169.3" stroke="#000" stroke-width="1.8"/>
<line x1="1817.84" y1="164.63" x2="1817.84" y2="167.47" stroke="#000" stroke-width="1.1" stroke-dasharray="2.5,2"/>
<line x1="1817.84" y1="170.31" x2="1817.84" y2="173.15" stroke="#000" stroke-width="1.1" stroke-dasharray="2.5,2"/>
<line x1="1816.04" y1="164.63" x2="1819.64" y2="164.63" stroke="#000" stroke-width="1.2"/>
<line x1="1816.04" y1="173.15" x2="1819.64" y2="173.15" stroke="#000" stroke-width="1.2"/>
<rect x="1815.44" y="167.47" width="4.8" height="2.84" fill="#FFFF00" stroke="#000" stroke-width="1.25"/>
<line x1="1815.44" y1="168.89" x2="1820.24" y2="168.89" stroke="#000" stroke-width="1.8"/>
<line x1="1824.38" y1="164.31" x2="1824.38" y2="167.09" stroke="#000" stroke-width="1.1" stroke-dasharray="2.5,2"/>
<line x1="1824.38" y1="169.87" x2="1824.38" y2="172.65" stroke="#000" stroke-width="1.1" stroke-dasharray="2.5,2"/>
<line x1="1822.58" y1="164.31" x2="1826.18" y2="164.31" stroke="#000" stroke-width="1.2"/>
<line x1="1822.58" y1="172.65" x2="1826.18" y2="172.65" stroke="#000" stroke-width="1.2"/>
<rect x="1821.98" y="167.09" width="4.8" height="2.78" fill="#FFFF00" stroke="#000" stroke-width="1.25"/>
<line x1="1821.98" y1="168.48" x2="1826.78" y2="168.48" stroke="#000" stroke-width="1.8"/>
<line x1="1830.91" y1="164" x2="1830.91" y2="166.72" stroke="#000" stroke-width="1.1" stroke-dasharray="2.5,2"/>
<line x1="1830.91" y1="169.44" x2="1830.91" y2="172.16" stroke="#000" stroke-width="1.1" stroke-dasharray="2.5,2"/>
<line x1="1829.11" y1="164" x2="1832.71" y2="164" stroke="#000" stroke-width="1.2"/>
<line x1="1829.11" y1="172.16" x2="1832.71" y2="172.16" stroke="#000" stroke-width="1.2"/>
<rect x="1828.51" y="166.72" width="4.8" height="2.72" fill="#FFFF00" stroke="#000" stroke-width="1.25"/>
<line x1="1828.51" y1="168.08" x2="1833.31" y2="168.08" stroke="#000" stroke-width="1.8"/>
<line x1="1837.45" y1="163.69" x2="1837.45" y2="166.35" stroke="#000" stroke-width="1.1" stroke-dasharray="2.5,2"/>
<line x1="1837.45" y1="169.01" x2="1837.45" y2="171.67" stroke="#000" stroke-width="1.1" stroke-dasharray="2.5,2"/>
<line x1="1835.65" y1="163.69" x2="1839.25" y2="163.69" stroke="#000" stroke-width="1.2"/>
<line x1="1835.65" y1="171.67" x2="1839.25" y2="171.67" stroke="#000" stroke-width="1.2"/>
<rect x="1835.05" y="166.35" width="4.8" height="2.66" fill="#FFFF00" stroke="#000" stroke-width="1.25"/>
<line x1="1835.05" y1="167.68" x2="1839.85" y2="167.68" stroke="#000" stroke-width="1.8"/>
<line x1="1843.98" y1="163.37" x2="1843.98" y2="165.97" stroke="#000" stroke-width="1.1" stroke-dasharray="2.5,2"/>
<line x1="1843.98" y1="168.57" x2="1843.98" y2="171.17" stroke="#000" stroke-width="1.1" stroke-dasharray="2.5,2"/>
<line x1="1842.18" y1="163.37" x2="1845.78" y2="163.37" stroke="#000" stroke-width="1.2"/>
<line x1="1842.18" y1="171.17" x2="1845.78" y2="171.17" stroke="#000" stroke-width="1.2"/>
<rect x="1841.58" y="165.97" width="4.8" height="2.6" fill="#FFFF00" stroke="#000" stroke-width="1.25"/>
<line x1="1841.58" y1="167.27" x2="1846.38" y2="167.27" stroke="#000" stroke-width="1.8"/>
<line x1="1850.51" y1="163.04" x2="1850.51" y2="165.58" stroke="#000" stroke-width="1.1" stroke-dasharray="2.5,2"/>
<line x1="1850.51" y1="168.12" x2="1850.51" y2="170.66" stroke="#000" stroke-width="1.1" stroke-dasharray="2.5,2"/>
<line x1="1848.71" y1="163.04" x2="1852.31" y2="163.04" stroke="#000" stroke-width="1.2"/>
<line x1="1848.71" y1="170.66" x2="1852.31" y2="170.66" stroke="#000" stroke-width="1.2"/>
<rect x="1848.11" y="165.58" width="4.8" height="2.54" fill="#FFFF00" stroke="#000" stroke-width="1.25"/>
<line x1="1848.11" y1="166.85" x2="1852.91" y2="166.85" stroke="#000" stroke-width="1.8"/>
<line x1="1857.05" y1="162.72" x2="1857.05" y2="165.2" stroke="#000" stroke-width="1.1" stroke-dasharray="2.5,2"/>
<line x1="1857.05" y1="167.68" x2="1857.05" y2="170.16" stroke="#000" stroke-width="1.1" stroke-dasharray="2.5,2"/>
<line x1="1855.25" y1="162.72" x2="1858.85" y2="162.72" stroke="#000" stroke-width="1.2"/>
<line x1="1855.25" y1="170.16" x2="1858.85" y2="170.16" stroke="#000" stroke-width="1.2"/>
<rect x="1854.65" y="165.2" width="4.8" height="2.48" fill="#FFFF00" stroke="#000" stroke-width="1.25"/>
<line x1="1854.65" y1="166.44" x2="1859.45" y2="166.44" stroke="#000" stroke-width="1.8"/>
<line x1="1863.58" y1="162.4" x2="1863.58" y2="164.82" stroke="#000" stroke-width="1.1" stroke-dasharray="2.5,2"/>
<line x1="1863.58" y1="167.24" x2="1863.58" y2="169.66" stroke="#000" stroke-width="1.1" stroke-dasharray="2.5,2"/>
<line x1="1861.78" y1="162.4" x2="1865.38" y2="162.4" stroke="#000" stroke-width="1.2"/>
<line x1="1861.78" y1="169.66" x2="1865.38" y2="169.66" stroke="#000" stroke-width="1.2"/>
<rect x="1861.18" y="164.82" width="4.8" height="2.42" fill="#FFFF00" stroke="#000" stroke-width="1.25"/>
<line x1="1861.18" y1="166.03" x2="1865.98" y2="166.03" stroke="#000" stroke-width="1.8"/>
<line x1="1870.12" y1="162.09" x2="1870.12" y2="164.45" stroke="#000" stroke-width="1.1" stroke-dasharray="2.5,2"/>
<line x1="1870.12" y1="166.81" x2="1870.12" y2="169.17" stroke="#000" stroke-width="1.1" stroke-dasharray="2.5,2"/>
<line x1="1868.32" y1="162.09" x2="1871.92" y2="162.09" stroke="#000" stroke-width="1.2"/>
<line x1="1868.32" y1="169.17" x2="1871.92" y2="169.17" stroke="#000" stroke-width="1.2"/>
<rect x="1867.72" y="164.45" width="4.8" height="2.36" fill="#FFFF00" stroke="#000" stroke-width="1.25"/>
<line x1="1867.72" y1="165.63" x2="1872.52" y2="165.63" stroke="#000" stroke-width="1.8"/>
<line x1="1876.65" y1="161.78" x2="1876.65" y2="164.08" stroke="#000" stroke-width="1.1" stroke-dasharray="2.5,2"/>
<line x1="1876.65" y1="166.38" x2="1876.65" y2="168.68" stroke="#000" stroke-width="1.1" stroke-dasharray="2.5,2"/>
<line x1="1874.85" y1="161.78" x2="1878.45" y2="161.78" stroke="#000" stroke-width="1.2"/>
<line x1="1874.85" y1="168.68" x2="1878.45" y2="168.68" stroke="#000" stroke-width="1.2"/>
<rect x="1874.25" y="164.08" width="4.8" height="2.3" fill="#FFFF00" stroke="#000" stroke-width="1.25"/>
<line x1="1874.25" y1="165.23" x2="1879.05" y2="165.23" stroke="#000" stroke-width="1.8"/>
<line x1="1883.18" y1="161.48" x2="1883.18" y2="163.72" stroke="#000" stroke-width="1.1" stroke-dasharray="2.5,2"/>
<line x1="1883.18" y1="165.96" x2="1883.18" y2="168.2" stroke="#000" stroke-width="1.1" stroke-dasharray="2.5,2"/>
<line x1="1881.38" y1="161.48" x2="1884.98" y2="161.48" stroke="#000" stroke-width="1.2"/>
<line x1="1881.38" y1="168.2" x2="1884.98" y2="168.2" stroke="#000" stroke-width="1.2"/>
<rect x="1880.78" y="163.72" width="4.8" height="2.24" fill="#FFFF00" stroke="#000" stroke-width="1.25"/>
<line x1="1880.78" y1="164.84" x2="1885.58" y2="164.84" stroke="#000" stroke-width="1.8"/>
<line x1="1889.72" y1="161.18" x2="1889.72" y2="163.36" stroke="#000" stroke-width="1.1" stroke-dasharray="2.5,2"/>
<line x1="1889.72" y1="165.54" x2="1889.72" y2="167.72" stroke="#000" stroke-width="1.1" stroke-dasharray="2.5,2"/>
<line x1="1887.92" y1="161.18" x2="1891.52" y2="161.18" stroke="#000" stroke-width="1.2"/>
<line x1="1887.92" y1="167.72" x2="1891.52" y2="167.72" stroke="#000" stroke-width="1.2"/>
<rect x="1887.32" y="163.36" width="4.8" height="2.18" fill="#FFFF00" stroke="#000" stroke-width="1.25"/>
<line x1="1887.32" y1="164.45" x2="1892.12" y2="164.45" stroke="#000" stroke-width="1.8"/>
<line x1="1896.25" y1="160.88" x2="1896.25" y2="163" stroke="#000" stroke-width="1.1" stroke-dasharray="2.5,2"/>
<line x1="1896.25" y1="165.12" x2="1896.25" y2="167.24" stroke="#000" stroke-width="1.1" stroke-dasharray="2.5,2"/>
<line x1="1894.45" y1="160.88" x2="1898.05" y2="160.88" stroke="#000" stroke-width="1.2"/>
<line x1="1894.45" y1="167.24" x2="1898.05" y2="167.24" stroke="#000" stroke-width="1.2"/>
<rect x="1893.85" y="163" width="4.8" height="2.12" fill="#FFFF00" stroke="#000" stroke-width="1.25"/>
<line x1="1893.85" y1="164.06" x2="1898.65" y2="164.06" stroke="#000" stroke-width="1.8"/>
<line x1="1902.79" y1="160.59" x2="1902.79" y2="162.65" stroke="#000" stroke-width="1.1" stroke-dasharray="2.5,2"/>
<line x1="1902.79" y1="164.71" x2="1902.79" y2="166.77" stroke="#000" stroke-width="1.1" stroke-dasharray="2.5,2"/>
<line x1="1900.99" y1="160.59" x2="1904.59" y2="160.59" stroke="#000" stroke-width="1.2"/>
<line x1="1900.99" y1="166.77" x2="1904.59" y2="166.77" stroke="#000" stroke-width="1.2"/>
<rect x="1900.39" y="162.65" width="4.8" height="2.06" fill="#FFFF00" stroke="#000" stroke-width="1.25"/>
<line x1="1900.39" y1="163.68" x2="1905.19" y2="163.68" stroke="#000" stroke-width="1.8"/>
<line x1="1909.32" y1="160.3" x2="1909.32" y2="162.3" stroke="#000" stroke-width="1.1" stroke-dasharray="2.5,2"/>
<line x1="1909.32" y1="164.3" x2="1909.32" y2="166.3" stroke="#000" stroke-width="1.1" stroke-dasharray="2.5,2"/>
<line x1="1907.52" y1="160.3" x2="1911.12" y2="160.3" stroke="#000" stroke-width="1.2"/>
<line x1="1907.52" y1="166.3" x2="1911.12" y2="166.3" stroke="#000" stroke-width="1.2"/>
<rect x="1906.92" y="162.3" width="4.8" height="2" fill="#FFFF00" stroke="#000" stroke-width="1.25"/>
<line x1="1906.92" y1="163.3" x2="1911.72" y2="163.3" stroke="#000" stroke-width="1.8"/>
<path d="M1454.48 325.41h7.4M1458.18 321.71v7.4M1460.96 322.39h7.4M1464.66 318.69v7.4M1467.6 319.38h7.4M1471.3 315.68v7.4M1460.96 311.84h7.4M1464.66 308.14v7.4M1467.6 299.78h7.4M1471.3 296.08v7.4M1467.6 302.8h7.4M1471.3 299.1v7.4M1474.08 308.83h7.4M1477.78 305.13v7.4M1480.86 307.32h7.4M1484.56 303.62v7.4M1474.08 289.23h7.4M1477.78 285.53v7.4M1480.86 289.23h7.4M1484.56 285.53v7.4M1480.86 278.68h7.4M1484.56 274.98v7.4M1486.89 272.65h7.4M1490.59 268.95v7.4M1486.89 286.22h7.4M1490.59 282.52v7.4M1486.89 295.26h7.4M1490.59 291.56v7.4M1493.67 292.25h7.4M1497.37 288.55v7.4M1500.16 289.98h7.4M1503.86 286.28v7.4M1506.79 287.72h7.4M1510.49 284.02v7.4M1513.27 283.2h7.4M1516.97 279.5v7.4M1493.67 269.64h7.4M1497.37 265.94v7.4M1500.16 262.85h7.4M1503.86 259.15v7.4M1519.75 270.39h7.4M1523.45 266.69v7.4M1526.38 257.58h7.4M1530.08 253.88v7.4M1526.38 244.01h7.4M1530.08 240.31v7.4M1532.87 242.5h7.4M1536.57 238.8v7.4M1539.35 236.47h7.4M1543.05 232.77v7.4M1545.68 233.46h7.4M1549.38 229.76v7.4M1552.46 230.44h7.4M1556.16 226.74v7.4M1558.94 226.67h7.4M1562.64 222.97v7.4M1565.27 222.15h7.4M1568.97 218.45v7.4M1572.06 218.38h7.4M1575.76 214.68v7.4M1578.09 219.89h7.4M1581.79 216.19v7.4M1584.87 216.88h7.4M1588.57 213.18v7.4M1591.65 215.37h7.4M1595.35 211.67v7.4M1597.68 216.88h7.4M1601.38 213.18v7.4M1604.47 210.85h7.4M1608.17 207.15v7.4M1611.25 209.34h7.4M1614.95 205.64v7.4M1618.03 204.82h7.4M1621.73 201.12v7.4M1624.06 201.8h7.4M1627.76 198.1v7.4M1630.85 200.3h7.4M1634.55 196.6v7.4M1637.63 199.54h7.4M1641.33 195.84v7.4M1643.66 200.3h7.4M1647.36 196.6v7.4M1650.44 197.28h7.4M1654.14 193.58v7.4M1572.06 191.25h7.4M1575.76 187.55v7.4M1611.25 183.71h7.4M1614.95 180.01v7.4M1630.85 180.7h7.4M1634.55 177v7.4M1637.63 180.7h7.4M1641.33 177v7.4M1650.44 177.68h7.4M1654.14 173.98v7.4M1474.08 281.69h7.4M1477.78 277.99v7.4M1480.86 281.69h7.4M1484.56 277.99v7.4M1493.67 272.65h7.4M1497.37 268.95v7.4M1552.46 227.43h7.4M1556.16 223.73v7.4M1545.68 236.47h7.4M1549.38 232.77v7.4M1604.47 207.83h7.4M1608.17 204.13v7.4M1402.4 490.9h7.4M1406.1 487.2v7.4M1409.6 438h7.4M1413.3 434.3v7.4M1410.9 440.1h7.4M1414.6 436.4v7.4M1618.12 204.33h7.4M1621.82 200.63v7.4M1618.12 209.95h7.4M1621.82 206.25v7.4M1618.12 184.6h7.4M1621.82 180.9v7.4M1624.66 202.63h7.4M1628.36 198.93v7.4M1624.66 207.68h7.4M1628.36 203.98v7.4M1624.66 182.49h7.4M1628.36 178.79v7.4M1631.19 199.21h7.4M1634.89 195.51v7.4M1631.19 205.85h7.4M1634.89 202.15v7.4M1631.19 181.52h7.4M1634.89 177.82v7.4M1637.73 197.66h7.4M1641.43 193.96v7.4M1637.73 204.18h7.4M1641.43 200.48v7.4M1637.73 180.68h7.4M1641.43 176.98v7.4M1644.26 197.33h7.4M1647.96 193.63v7.4M1644.26 201.61h7.4M1647.96 197.91v7.4M1644.26 179.93h7.4M1647.96 176.23v7.4M1650.79 194.78h7.4M1654.49 191.08v7.4M1650.79 200.75h7.4M1654.49 197.05v7.4M1650.79 179.47h7.4M1654.49 175.77v7.4M1657.33 194.48h7.4M1661.03 190.78v7.4M1657.33 199.91h7.4M1661.03 196.21v7.4M1657.33 178.22h7.4M1661.03 174.52v7.4M1663.86 192.61h7.4M1667.56 188.91v7.4M1663.86 199h7.4M1667.56 195.3v7.4M1663.86 177.27h7.4M1667.56 173.57v7.4M1670.4 192.21h7.4M1674.1 188.51v7.4M1670.4 196.67h7.4M1674.1 192.97v7.4M1670.4 177.08h7.4M1674.1 173.38v7.4M1676.93 191.73h7.4M1680.63 188.03v7.4M1676.93 197.22h7.4M1680.63 193.52v7.4M1676.93 176.4h7.4M1680.63 172.7v7.4M1683.46 191.42h7.4M1687.16 187.72v7.4M1683.46 196.83h7.4M1687.16 193.13v7.4M1683.46 174.74h7.4M1687.16 171.04v7.4M1690 190.8h7.4M1693.7 187.1v7.4M1690 195.09h7.4M1693.7 191.39v7.4M1690 175.15h7.4M1693.7 171.45v7.4M1696.53 190.16h7.4M1700.23 186.46v7.4M1696.53 193.6h7.4M1700.23 189.9v7.4M1696.53 172.87h7.4M1700.23 169.17v7.4M1703.07 188h7.4M1706.77 184.3v7.4M1703.07 194.49h7.4M1706.77 190.79v7.4M1703.07 172.77h7.4M1706.77 169.07v7.4M1709.6 187.92h7.4M1713.3 184.22v7.4M1709.6 171.77h7.4M1713.3 168.07v7.4M1716.13 186.71h7.4M1719.83 183.01v7.4M1716.13 171.17h7.4M1719.83 167.47v7.4M1722.67 185.38h7.4M1726.37 181.68v7.4M1722.67 170.77h7.4M1726.37 167.07v7.4M1729.2 184.79h7.4M1732.9 181.09v7.4M1729.2 170.6h7.4M1732.9 166.9v7.4M1735.74 183.91h7.4M1739.44 180.21v7.4M1735.74 169.84h7.4M1739.44 166.14v7.4M1742.27 183.18h7.4M1745.97 179.48v7.4M1742.27 169.16h7.4M1745.97 165.46v7.4M1748.8 181.75h7.4M1752.5 178.05v7.4M1748.8 169.89h7.4M1752.5 166.19v7.4M1755.34 179.71h7.4M1759.04 176.01v7.4M1761.87 180.13h7.4M1765.57 176.43v7.4M1761.87 168.42h7.4M1765.57 164.72v7.4M1768.41 179.43h7.4M1772.11 175.73v7.4M1774.94 178.48h7.4M1778.64 174.78v7.4M1774.94 167.17h7.4M1778.64 163.47v7.4M1781.47 177.06h7.4M1785.17 173.36v7.4M1788.01 176.65h7.4M1791.71 172.95v7.4M1788.01 166.14h7.4M1791.71 162.44v7.4M1794.54 174.97h7.4M1798.24 171.27v7.4M1801.08 175.58h7.4M1804.78 171.88v7.4M1801.08 165.23h7.4M1804.78 161.53v7.4M1807.61 174.45h7.4M1811.31 170.75v7.4M1814.14 173.27h7.4M1817.84 169.57v7.4M1814.14 164.39h7.4M1817.84 160.69v7.4M1820.68 172.23h7.4M1824.38 168.53v7.4M1827.21 173.21h7.4M1830.91 169.51v7.4M1827.21 163.58h7.4M1830.91 159.88v7.4M1833.75 172.88h7.4M1837.45 169.18v7.4M1840.28 170.45h7.4M1843.98 166.75v7.4M1840.28 162.77h7.4M1843.98 159.07v7.4M1846.81 171.23h7.4M1850.51 167.53v7.4M1853.35 169.8h7.4M1857.05 166.1v7.4M1853.35 161.94h7.4M1857.05 158.24v7.4M1859.88 168.63h7.4M1863.58 164.93v7.4M1866.42 168.27h7.4M1870.12 164.57v7.4M1866.42 161.13h7.4M1870.12 157.43v7.4M1872.95 168.56h7.4M1876.65 164.86v7.4M1879.48 168.12h7.4M1883.18 164.42v7.4M1879.48 160.34h7.4M1883.18 156.64v7.4M1886.02 165.81h7.4M1889.72 162.11v7.4M1892.55 166.29h7.4M1896.25 162.59v7.4" fill="none" stroke="#000" stroke-width="1.7"/>
<rect x="1372.5" y="144.7" width="557" height="498.3" fill="none" stroke="#000" stroke-width="1.5"/>
<line x1="1386.6" y1="643" x2="1386.6" y2="653" stroke="#000" stroke-width="1.2"/>
<text x="1386.6" y="678.8" font-size="16" fill="#000" text-anchor="middle" stroke="#000" stroke-width="0.18">0</text>
<line x1="1517.28" y1="643" x2="1517.28" y2="653" stroke="#000" stroke-width="1.2"/>
<text x="1517.28" y="678.8" font-size="16" fill="#000" text-anchor="middle" stroke="#000" stroke-width="0.18">20</text>
<line x1="1647.96" y1="643" x2="1647.96" y2="653" stroke="#000" stroke-width="1.2"/>
<text x="1647.96" y="678.8" font-size="16" fill="#000" text-anchor="middle" stroke="#000" stroke-width="0.18">40</text>
<line x1="1778.64" y1="643" x2="1778.64" y2="653" stroke="#000" stroke-width="1.2"/>
<text x="1778.64" y="678.8" font-size="16" fill="#000" text-anchor="middle" stroke="#000" stroke-width="0.18">60</text>
<line x1="1909.32" y1="643" x2="1909.32" y2="653" stroke="#000" stroke-width="1.2"/>
<text x="1909.32" y="678.8" font-size="16" fill="#000" text-anchor="middle" stroke="#000" stroke-width="0.18">80</text>
<line x1="1386.6" y1="643" x2="1909.32" y2="643" stroke="#000" stroke-width="1.1"/>
<line x1="1364.5" y1="625" x2="1372" y2="625" stroke="#000" stroke-width="1.1"/>
<text x="1350.5" y="625" font-size="15.8" fill="#000" text-anchor="middle" transform="rotate(-90 1350.5 625)" stroke="#000" stroke-width="0.18">0</text>
<line x1="1364.5" y1="551.58" x2="1372" y2="551.58" stroke="#000" stroke-width="1.1"/>
<text x="1350.5" y="551.58" font-size="15.8" fill="#000" text-anchor="middle" transform="rotate(-90 1350.5 551.58)" stroke="#000" stroke-width="0.18">500</text>
<line x1="1364.5" y1="478.15" x2="1372" y2="478.15" stroke="#000" stroke-width="1.1"/>
<text x="1350.5" y="478.15" font-size="15.8" fill="#000" text-anchor="middle" transform="rotate(-90 1350.5 478.15)" stroke="#000" stroke-width="0.18">1000</text>
<line x1="1364.5" y1="404.73" x2="1372" y2="404.73" stroke="#000" stroke-width="1.1"/>
<text x="1350.5" y="404.73" font-size="15.8" fill="#000" text-anchor="middle" transform="rotate(-90 1350.5 404.73)" stroke="#000" stroke-width="0.18">1500</text>
<line x1="1364.5" y1="331.3" x2="1372" y2="331.3" stroke="#000" stroke-width="1.1"/>
<text x="1350.5" y="331.3" font-size="15.8" fill="#000" text-anchor="middle" transform="rotate(-90 1350.5 331.3)" stroke="#000" stroke-width="0.18">2000</text>
<line x1="1364.5" y1="257.88" x2="1372" y2="257.88" stroke="#000" stroke-width="1.1"/>
<text x="1350.5" y="257.88" font-size="15.8" fill="#000" text-anchor="middle" transform="rotate(-90 1350.5 257.88)" stroke="#000" stroke-width="0.18">2500</text>
<line x1="1364.5" y1="184.45" x2="1372" y2="184.45" stroke="#000" stroke-width="1.1"/>
<text x="1350.5" y="184.45" font-size="15.8" fill="#000" text-anchor="middle" transform="rotate(-90 1350.5 184.45)" stroke="#000" stroke-width="0.18">3000</text>
<text x="1650" y="716.8" font-size="16.1" fill="#000" text-anchor="middle" stroke="#000" stroke-width="0.18">Number of samples sequenced</text>
<text x="1310.5" y="393.6" font-size="16" fill="#000" text-anchor="middle" transform="rotate(-90 1310.5 393.6)" stroke="#000" stroke-width="0.18">OTUs detected</text>
<text x="0" y="0" font-size="60" font-weight="bold" transform="matrix(0.9511 0 0 1.0097 9.20 723.70)">D</text>
<path d="M115.73 1171.22L266.24 1032.95M161.01 1171.22L311.52 1032.95M206.29 1171.22L356.79 1032.95M251.56 1171.22L402.07 1032.95M296.84 1171.22L447.35 1032.95M342.12 1171.22L492.62 1032.95M387.39 1171.22L537.9 1032.95M95.54 1148.17L457.75 1148.17M120.63 1125.13L482.84 1125.13M145.71 1102.08L507.92 1102.08M170.8 1079.04L533.01 1079.04M195.88 1055.99L558.09 1055.99" fill="none" stroke="#BEBEBE" stroke-width="0.9"/>
<path d="M70.46 860.28H432.67V1171.22H70.46ZM220.97 722.01H583.18V1032.29H220.97ZM70.46 860.28L220.97 722.01M432.67 860.28L583.18 722.01M70.46 1171.22L220.97 1032.95M432.67 1171.22L583.18 1032.95" fill="none" stroke="#1A1A1A" stroke-width="1.3"/>
<text x="70.46" y="1193.7" font-size="12.5" fill="#111" text-anchor="middle" stroke="#111" stroke-width="0.18">−0.4</text>
<text x="115.73" y="1193.7" font-size="12.5" fill="#111" text-anchor="middle" stroke="#111" stroke-width="0.18">−0.3</text>
<text x="161.01" y="1193.7" font-size="12.5" fill="#111" text-anchor="middle" stroke="#111" stroke-width="0.18">−0.2</text>
<text x="206.29" y="1193.7" font-size="12.5" fill="#111" text-anchor="middle" stroke="#111" stroke-width="0.18">−0.1</text>
<text x="251.56" y="1193.7" font-size="12.5" fill="#111" text-anchor="middle" stroke="#111" stroke-width="0.18">0.0</text>
<text x="296.84" y="1193.7" font-size="12.5" fill="#111" text-anchor="middle" stroke="#111" stroke-width="0.18">0.1</text>
<text x="342.12" y="1193.7" font-size="12.5" fill="#111" text-anchor="middle" stroke="#111" stroke-width="0.18">0.2</text>
<text x="387.39" y="1193.7" font-size="12.5" fill="#111" text-anchor="middle" stroke="#111" stroke-width="0.18">0.3</text>
<text x="432.67" y="1193.7" font-size="12.5" fill="#111" text-anchor="middle" stroke="#111" stroke-width="0.18">0.4</text>
<text x="54.5" y="860.28" font-size="12.5" fill="#111" text-anchor="middle" transform="rotate(-90 54.5 860.28)" stroke="#111" stroke-width="0.18">0.2</text>
<text x="54.5" y="912.1" font-size="12.5" fill="#111" text-anchor="middle" transform="rotate(-90 54.5 912.1)" stroke="#111" stroke-width="0.18">0.1</text>
<text x="54.5" y="963.92" font-size="12.5" fill="#111" text-anchor="middle" transform="rotate(-90 54.5 963.92)" stroke="#111" stroke-width="0.18">0.0</text>
<text x="54.5" y="1015.75" font-size="12.5" fill="#111" text-anchor="middle" transform="rotate(-90 54.5 1015.75)" stroke="#111" stroke-width="0.18">−0.1</text>
<text x="54.5" y="1067.57" font-size="12.5" fill="#111" text-anchor="middle" transform="rotate(-90 54.5 1067.57)" stroke="#111" stroke-width="0.18">−0.2</text>
<text x="54.5" y="1119.39" font-size="12.5" fill="#111" text-anchor="middle" transform="rotate(-90 54.5 1119.39)" stroke="#111" stroke-width="0.18">−0.3</text>
<text x="54.5" y="1171.22" font-size="12.5" fill="#111" text-anchor="middle" transform="rotate(-90 54.5 1171.22)" stroke="#111" stroke-width="0.18">−0.4</text>
<text x="462.07" y="1173.92" font-size="12.5" fill="#111" text-anchor="middle" stroke="#111" stroke-width="0.18">−0.3</text>
<text x="487.15" y="1150.87" font-size="12.5" fill="#111" text-anchor="middle" stroke="#111" stroke-width="0.18">−0.2</text>
<text x="512.24" y="1127.83" font-size="12.5" fill="#111" text-anchor="middle" stroke="#111" stroke-width="0.18">−0.1</text>
<text x="537.32" y="1104.78" font-size="12.5" fill="#111" text-anchor="middle" stroke="#111" stroke-width="0.18">0.0</text>
<text x="562.41" y="1081.74" font-size="12.5" fill="#111" text-anchor="middle" stroke="#111" stroke-width="0.18">0.1</text>
<text x="587.49" y="1058.69" font-size="12.5" fill="#111" text-anchor="middle" stroke="#111" stroke-width="0.18">0.2</text>
<text x="612.58" y="1035.65" font-size="12.5" fill="#111" text-anchor="middle" stroke="#111" stroke-width="0.18">0.3</text>
<path d="M70.46 1171.22V1175.22M115.73 1171.22V1175.22M161.01 1171.22V1175.22M206.29 1171.22V1175.22M251.56 1171.22V1175.22M296.84 1171.22V1175.22M342.12 1171.22V1175.22M387.39 1171.22V1175.22M432.67 1171.22V1175.22M66.46 860.28H70.46M66.46 912.1H70.46M66.46 963.92H70.46M66.46 1015.75H70.46M66.46 1067.57H70.46M66.46 1119.39H70.46M66.46 1171.22H70.46M432.67 1171.22H439.67M457.75 1148.17H464.75M482.84 1125.13H489.84M507.92 1102.08H514.92M533.01 1079.04H540.01M558.09 1055.99H565.09M583.18 1032.95H590.18" fill="none" stroke="#333" stroke-width="1.2"/>
<text x="296" y="710" font-size="13" fill="#000" text-anchor="middle" stroke="#000" stroke-width="0.18">Group</text>
<circle cx="233.87" cy="843.74" r="2.6" fill="#EE82EE"/>
<text x="185.24" y="841.72" font-size="11.8" fill="#EE82EE" stroke="#EE82EE" stroke-width="0.2">SAMP8.1</text>
<circle cx="231.88" cy="883.43" r="2.6" fill="#EE82EE"/>
<text x="226.92" y="882.08" font-size="11.8" fill="#EE82EE" stroke="#EE82EE" stroke-width="0.2">SAMP8.2</text>
<circle cx="154.81" cy="905.27" r="2.6" fill="#EE82EE"/>
<text x="159.44" y="902.92" font-size="11.8" fill="#EE82EE" stroke="#EE82EE" stroke-width="0.2">SAMP8.7</text>
<circle cx="190.86" cy="923.79" r="2.6" fill="#EE82EE"/>
<text x="193.51" y="921.77" font-size="11.8" fill="#EE82EE" stroke="#EE82EE" stroke-width="0.2">SAMP8.5</text>
<circle cx="246.1" cy="947.61" r="2.6" fill="#EE82EE"/>
<text x="238.83" y="944.93" font-size="11.8" fill="#EE82EE" stroke="#EE82EE" stroke-width="0.2">SAMP8.8</text>
<circle cx="197.81" cy="975.39" r="2.6" fill="#EE82EE"/>
<text x="146.54" y="979.99" font-size="11.8" fill="#EE82EE" stroke="#EE82EE" stroke-width="0.2">SAMP8.4</text>
<circle cx="220.63" cy="980.02" r="2.6" fill="#EE82EE"/>
<text x="222.29" y="976.02" font-size="11.8" fill="#EE82EE" stroke="#EE82EE" stroke-width="0.2">SAMP8.6</text>
<circle cx="178.29" cy="1018.06" r="2.6" fill="#EE82EE"/>
<text x="179.29" y="1014.72" font-size="11.8" fill="#EE82EE" stroke="#EE82EE" stroke-width="0.2">SAMP8.3</text>
<polygon points="397.94,811.26 393.59,818.91 402.29,818.91" fill="#0B6FDB"/>
<text x="398.93" y="813.94" font-size="11.8" fill="#0B6FDB" stroke="#0B6FDB" stroke-width="0.2">SAMR1.8</text>
<polygon points="409.84,834.09 405.49,841.74 414.19,841.74" fill="#0B6FDB"/>
<text x="416.13" y="837.09" font-size="11.8" fill="#0B6FDB" stroke="#0B6FDB" stroke-width="0.2">SAMR1.5</text>
<polygon points="365.52,857.57 361.17,865.22 369.87,865.22" fill="#0B6FDB"/>
<text x="366.51" y="859.92" font-size="11.8" fill="#0B6FDB" stroke="#0B6FDB" stroke-width="0.2">SAMR1.1</text>
<polygon points="356.92,885.03 352.57,892.68 361.27,892.68" fill="#0B6FDB"/>
<text x="358.24" y="887.37" font-size="11.8" fill="#0B6FDB" stroke="#0B6FDB" stroke-width="0.2">SAMR1.4</text>
<polygon points="420.1,894.95 415.75,902.6 424.45,902.6" fill="#0B6FDB"/>
<text x="394.96" y="910.86" font-size="11.8" fill="#0B6FDB" stroke="#0B6FDB" stroke-width="0.2">SAMR1.6</text>
<polygon points="320.53,918.77 316.18,926.42 324.88,926.42" fill="#0B6FDB"/>
<text x="325.49" y="930.37" font-size="11.8" fill="#0B6FDB" stroke="#0B6FDB" stroke-width="0.2">SAMR1.2</text>
<polygon points="442.92,930.01 438.57,937.66 447.27,937.66" fill="#0B6FDB"/>
<text x="421.42" y="930.37" font-size="11.8" fill="#0B6FDB" stroke="#0B6FDB" stroke-width="0.2">SAMR1.3</text>
<polygon points="352.29,959.45 347.94,967.1 356.64,967.1" fill="#0B6FDB"/>
<text x="348.65" y="958.82" font-size="11.8" fill="#0B6FDB" stroke="#0B6FDB" stroke-width="0.2">SAMR1.7</text>
<text x="251.9" y="1225.5" font-size="12.9" fill="#000" text-anchor="middle" stroke="#000" stroke-width="0.18">PC1 22.14%</text>
<text x="23.5" y="1015.8" font-size="12.9" fill="#000" text-anchor="middle" transform="rotate(-90 23.5 1015.8)" stroke="#000" stroke-width="0.18">PC3 10.52%</text>
<text x="646.5" y="1034" font-size="12.9" fill="#000" text-anchor="middle" transform="rotate(-90 646.5 1034)" stroke="#000" stroke-width="0.18">PC2 10.96%</text>
<rect x="604.7" y="915.5" width="68.3" height="42.4" fill="#fff" stroke="#222" stroke-width="1.1"/>
<circle cx="615.5" cy="929.4" r="2.6" fill="#EE82EE"/>
<text x="625.8" y="934.3" font-size="11.9" fill="#111" stroke="#111" stroke-width="0.18">SAMP8</text>
<polygon points="615.5,939.4 611.73,946.03 619.27,946.03" fill="#0B6FDB"/>
<text x="625.8" y="948.2" font-size="11.9" fill="#111" stroke="#111" stroke-width="0.18">SAMR1</text>
<text x="0" y="0" font-size="60" font-weight="bold" transform="matrix(0.9377 0 0 1.0145 663.45 726.80)">E</text>
<path d="M770.08 1159.64L899.09 1040.89M816.47 1159.64L945.48 1040.89M862.87 1159.64L991.87 1040.89M909.26 1159.64L1038.27 1040.89M955.65 1159.64L1084.66 1040.89M1002.05 1159.64L1131.05 1040.89M1048.44 1159.64L1177.45 1040.89M749.49 1135.89L1120.63 1135.89M775.29 1112.14L1146.43 1112.14M801.09 1088.39L1172.24 1088.39M826.89 1064.64L1198.04 1064.64" fill="none" stroke="#BEBEBE" stroke-width="0.9"/>
<path d="M723.69 841.09H1094.83V1159.64H723.69ZM852.7 722.34H1223.18V1041.22H852.7ZM723.69 841.09L852.7 722.34M1094.83 841.09L1223.84 722.34M723.69 1159.64L852.7 1040.89M1094.83 1159.64L1223.84 1040.89" fill="none" stroke="#1A1A1A" stroke-width="1.3"/>
<text x="723.69" y="1182" font-size="12.5" fill="#111" text-anchor="middle" stroke="#111" stroke-width="0.18">−0.4</text>
<text x="770.08" y="1182" font-size="12.5" fill="#111" text-anchor="middle" stroke="#111" stroke-width="0.18">−0.3</text>
<text x="816.47" y="1182" font-size="12.5" fill="#111" text-anchor="middle" stroke="#111" stroke-width="0.18">−0.2</text>
<text x="862.87" y="1182" font-size="12.5" fill="#111" text-anchor="middle" stroke="#111" stroke-width="0.18">−0.1</text>
<text x="909.26" y="1182" font-size="12.5" fill="#111" text-anchor="middle" stroke="#111" stroke-width="0.18">0.0</text>
<text x="955.65" y="1182" font-size="12.5" fill="#111" text-anchor="middle" stroke="#111" stroke-width="0.18">0.1</text>
<text x="1002.05" y="1182" font-size="12.5" fill="#111" text-anchor="middle" stroke="#111" stroke-width="0.18">0.2</text>
<text x="1048.44" y="1182" font-size="12.5" fill="#111" text-anchor="middle" stroke="#111" stroke-width="0.18">0.3</text>
<text x="1094.83" y="1182" font-size="12.5" fill="#111" text-anchor="middle" stroke="#111" stroke-width="0.18">0.4</text>
<text x="708" y="841.09" font-size="12.5" fill="#111" text-anchor="middle" transform="rotate(-90 708 841.09)" stroke="#111" stroke-width="0.18">0.4</text>
<text x="708" y="894.18" font-size="12.5" fill="#111" text-anchor="middle" transform="rotate(-90 708 894.18)" stroke="#111" stroke-width="0.18">0.3</text>
<text x="708" y="947.28" font-size="12.5" fill="#111" text-anchor="middle" transform="rotate(-90 708 947.28)" stroke="#111" stroke-width="0.18">0.2</text>
<text x="708" y="1000.37" font-size="12.5" fill="#111" text-anchor="middle" transform="rotate(-90 708 1000.37)" stroke="#111" stroke-width="0.18">0.1</text>
<text x="708" y="1053.46" font-size="12.5" fill="#111" text-anchor="middle" transform="rotate(-90 708 1053.46)" stroke="#111" stroke-width="0.18">0.0</text>
<text x="708" y="1106.55" font-size="12.5" fill="#111" text-anchor="middle" transform="rotate(-90 708 1106.55)" stroke="#111" stroke-width="0.18">−0.1</text>
<text x="708" y="1159.64" font-size="12.5" fill="#111" text-anchor="middle" transform="rotate(-90 708 1159.64)" stroke="#111" stroke-width="0.18">−0.2</text>
<text x="1122.83" y="1163.04" font-size="12.5" fill="#111" text-anchor="middle" stroke="#111" stroke-width="0.18">−0.2</text>
<text x="1148.63" y="1139.29" font-size="12.5" fill="#111" text-anchor="middle" stroke="#111" stroke-width="0.18">−0.1</text>
<text x="1174.43" y="1115.54" font-size="12.5" fill="#111" text-anchor="middle" stroke="#111" stroke-width="0.18">0.0</text>
<text x="1200.24" y="1091.79" font-size="12.5" fill="#111" text-anchor="middle" stroke="#111" stroke-width="0.18">0.1</text>
<text x="1226.04" y="1068.04" font-size="12.5" fill="#111" text-anchor="middle" stroke="#111" stroke-width="0.18">0.2</text>
<text x="1251.84" y="1044.29" font-size="12.5" fill="#111" text-anchor="middle" stroke="#111" stroke-width="0.18">0.3</text>
<path d="M723.69 1159.64V1163.64M770.08 1159.64V1163.64M816.47 1159.64V1163.64M862.87 1159.64V1163.64M909.26 1159.64V1163.64M955.65 1159.64V1163.64M1002.05 1159.64V1163.64M1048.44 1159.64V1163.64M1094.83 1159.64V1163.64M719.69 841.09H723.69M719.69 894.18H723.69M719.69 947.28H723.69M719.69 1000.37H723.69M719.69 1053.46H723.69M719.69 1106.55H723.69M719.69 1159.64H723.69M1094.83 1159.64H1101.83M1120.63 1135.89H1127.63M1146.43 1112.14H1153.43M1172.24 1088.39H1179.24M1198.04 1064.64H1205.04M1223.84 1040.89H1230.84" fill="none" stroke="#333" stroke-width="1.2"/>
<text x="941" y="710" font-size="13" fill="#000" text-anchor="middle" stroke="#000" stroke-width="0.18">Group</text>
<circle cx="809.03" cy="897.33" r="3.2" fill="#4D0C57"/>
<text x="810.35" y="896.96" font-size="11.8" fill="#4D0C57" stroke="#4D0C57" stroke-width="0.2">Control.2.5</text>
<circle cx="766.69" cy="915.85" r="3.2" fill="#4D0C57"/>
<text x="772.31" y="918.47" font-size="11.8" fill="#4D0C57" stroke="#4D0C57" stroke-width="0.2">Control.2.6</text>
<circle cx="856.67" cy="915.85" r="3.2" fill="#4D0C57"/>
<text x="846.74" y="916.15" font-size="11.8" fill="#4D0C57" stroke="#4D0C57" stroke-width="0.2">Control.2.7</text>
<circle cx="876.18" cy="939.01" r="3.2" fill="#4D0C57"/>
<text x="866.26" y="934.67" font-size="11.8" fill="#4D0C57" stroke="#4D0C57" stroke-width="0.2">Control.2.4</text>
<circle cx="843.1" cy="940.33" r="3.2" fill="#4D0C57"/>
<text x="779.59" y="947.58" font-size="11.8" fill="#4D0C57" stroke="#4D0C57" stroke-width="0.2">Control.2.2</text>
<circle cx="859.31" cy="961.5" r="3.2" fill="#4D0C57"/>
<text x="798.12" y="961.47" font-size="11.8" fill="#4D0C57" stroke="#4D0C57" stroke-width="0.2">Control.2.1</text>
<circle cx="835.16" cy="972.75" r="3.2" fill="#4D0C57"/>
<text x="773.31" y="976.68" font-size="11.8" fill="#4D0C57" stroke="#4D0C57" stroke-width="0.2">Control.2.3</text>
<circle cx="863.28" cy="983.33" r="3.2" fill="#4D0C57"/>
<text x="805.39" y="994.88" font-size="11.8" fill="#4D0C57" stroke="#4D0C57" stroke-width="0.2">Control.2.8</text>
<polygon points="982.36,900.74 984.76,903.94 982.36,907.14 979.96,903.94" fill="#A0491C"/>
<text x="982.36" y="907.88" font-size="11.8" fill="#A0491C" stroke="#A0491C" stroke-width="0.2">Aging.WS.2.6</text>
<polygon points="965.49,941.43 967.89,944.63 965.49,947.83 963.09,944.63" fill="#A0491C"/>
<text x="929.77" y="941.62" font-size="11.8" fill="#A0491C" stroke="#A0491C" stroke-width="0.2">Aging.WS.2.7</text>
<polygon points="1009.16,935.81 1011.56,939.01 1009.16,942.21 1006.76,939.01" fill="#A0491C"/>
<text x="1013.13" y="937.65" font-size="11.8" fill="#A0491C" stroke="#A0491C" stroke-width="0.2">Aging.WS.2.8</text>
<polygon points="1049.18,957.64 1051.58,960.84 1049.18,964.04 1046.78,960.84" fill="#A0491C"/>
<text x="1037.61" y="955.18" font-size="11.8" fill="#A0491C" stroke="#A0491C" stroke-width="0.2">Aging.WS.2.1</text>
<polygon points="1114.68,954.66 1117.08,957.86 1114.68,961.06 1112.28,957.86" fill="#A0491C"/>
<text x="1116.33" y="956.84" font-size="11.8" fill="#A0491C" stroke="#A0491C" stroke-width="0.2">Aging.WS.2.2</text>
<polygon points="1002.21,965.58 1004.61,968.78 1002.21,971.98 999.81,968.78" fill="#A0491C"/>
<text x="966.82" y="965.77" font-size="11.8" fill="#A0491C" stroke="#A0491C" stroke-width="0.2">Aging.WS.2.4</text>
<polygon points="1095.82,963.92 1098.22,967.12 1095.82,970.32 1093.42,967.12" fill="#A0491C"/>
<text x="1059.44" y="977.68" font-size="11.8" fill="#A0491C" stroke="#A0491C" stroke-width="0.2">Aging.WS.2.5</text>
<polygon points="1065.72,1008.58 1068.12,1011.78 1065.72,1014.98 1063.32,1011.78" fill="#A0491C"/>
<text x="999.9" y="1008.44" font-size="11.8" fill="#A0491C" stroke="#A0491C" stroke-width="0.2">Aging.WS.2.3</text>
<circle cx="940.02" cy="988.95" r="2.6" fill="#EE82EE"/>
<text x="942.67" y="984.62" font-size="11.8" fill="#EE82EE" stroke="#EE82EE" stroke-width="0.2">Aging.FMT.2.1</text>
<circle cx="1028.34" cy="995.57" r="2.6" fill="#EE82EE"/>
<text x="1027.02" y="992.23" font-size="11.8" fill="#EE82EE" stroke="#EE82EE" stroke-width="0.2">Aging.FMT.2.3</text>
<circle cx="941.68" cy="1008.14" r="2.6" fill="#EE82EE"/>
<text x="906.94" y="1000.5" font-size="11.8" fill="#EE82EE" stroke="#EE82EE" stroke-width="0.2">Aging.FMT.2.5</text>
<circle cx="997.91" cy="988.62" r="2.6" fill="#EE82EE"/>
<text x="903.97" y="1018.03" font-size="11.8" fill="#EE82EE" stroke="#EE82EE" stroke-width="0.2">Aging.FMT.2.2</text>
<circle cx="1083.25" cy="1016.08" r="2.6" fill="#EE82EE"/>
<text x="1081.93" y="1012.74" font-size="11.8" fill="#EE82EE" stroke="#EE82EE" stroke-width="0.2">Aging.FMT.2.4</text>
<circle cx="1121.29" cy="1020.05" r="2.6" fill="#EE82EE"/>
<text x="1046.87" y="1030.27" font-size="11.8" fill="#EE82EE" stroke="#EE82EE" stroke-width="0.2">Aging.FMT.2.6</text>
<circle cx="957.89" cy="1027.99" r="2.6" fill="#EE82EE"/>
<text x="959.87" y="1037.88" font-size="11.8" fill="#EE82EE" stroke="#EE82EE" stroke-width="0.2">Aging.FMT.2.7</text>
<circle cx="1018.75" cy="1047.17" r="2.6" fill="#EE82EE"/>
<text x="1025.37" y="1058.39" font-size="11.8" fill="#EE82EE" stroke="#EE82EE" stroke-width="0.2">Aging.FMT.2.8</text>
<polygon points="898.34,1063.32 893.99,1070.97 902.69,1070.97" fill="#0B6FDB"/>
<text x="824.58" y="1061.7" font-size="11.8" fill="#0B6FDB" stroke="#0B6FDB" stroke-width="0.2">Aging.SD.2.8</text>
<polygon points="863.61,1066.96 859.26,1074.61 867.96,1074.61" fill="#0B6FDB"/>
<text x="795.47" y="1081.54" font-size="11.8" fill="#0B6FDB" stroke="#0B6FDB" stroke-width="0.2">Aging.SD.2.5</text>
<polygon points="890.74,1078.21 886.39,1085.86 895.09,1085.86" fill="#0B6FDB"/>
<text x="891.4" y="1086.51" font-size="11.8" fill="#0B6FDB" stroke="#0B6FDB" stroke-width="0.2">Aging.SD.2.7</text>
<polygon points="892.06,1089.12 887.71,1096.77 896.41,1096.77" fill="#0B6FDB"/>
<text x="823.59" y="1097.42" font-size="11.8" fill="#0B6FDB" stroke="#0B6FDB" stroke-width="0.2">Aging.SD.2.3</text>
<polygon points="848.4,1098.05 844.05,1105.7 852.75,1105.7" fill="#0B6FDB"/>
<text x="779.92" y="1112.31" font-size="11.8" fill="#0B6FDB" stroke="#0B6FDB" stroke-width="0.2">Aging.SD.2.2</text>
<polygon points="870.56,1110.29 866.21,1117.94 874.91,1117.94" fill="#0B6FDB"/>
<text x="873.2" y="1117.27" font-size="11.8" fill="#0B6FDB" stroke="#0B6FDB" stroke-width="0.2">Aging.SD.2.4</text>
<polygon points="857,1127.16 852.65,1134.81 861.35,1134.81" fill="#0B6FDB"/>
<text x="789.52" y="1128.52" font-size="11.8" fill="#0B6FDB" stroke="#0B6FDB" stroke-width="0.2">Aging.SD.2.1</text>
<polygon points="861.63,1131.13 857.28,1138.78 865.98,1138.78" fill="#0B6FDB"/>
<text x="859.97" y="1143.73" font-size="11.8" fill="#0B6FDB" stroke="#0B6FDB" stroke-width="0.2">Aging.SD.2.6</text>
<text x="909.6" y="1213.5" font-size="12.9" fill="#000" text-anchor="middle" stroke="#000" stroke-width="0.18">PC1 18.04%</text>
<text x="677.5" y="1001" font-size="12.9" fill="#000" text-anchor="middle" transform="rotate(-90 677.5 1001)" stroke="#000" stroke-width="0.18">PC3 6.77%</text>
<text x="1284.5" y="1042" font-size="12.9" fill="#000" text-anchor="middle" transform="rotate(-90 1284.5 1042)" stroke="#000" stroke-width="0.18">PC2 8.61%</text>
<rect x="1249.6" y="890" width="98.9" height="69.5" fill="#fff" stroke="#222" stroke-width="1.1"/>
<circle cx="1259.6" cy="903.6" r="2.6" fill="#EE82EE"/>
<text x="1269.5" y="908.5" font-size="11.9" fill="#111" stroke="#111" stroke-width="0.18">Aging_FMT_2</text>
<polygon points="1259.6,913.2 1255.83,919.83 1263.37,919.83" fill="#0B6FDB"/>
<text x="1269.5" y="922" font-size="11.9" fill="#111" stroke="#111" stroke-width="0.18">Aging_SD_2</text>
<polygon points="1259.6,927.8 1261.85,930.8 1259.6,933.8 1257.35,930.8" fill="#A0491C"/>
<text x="1269.5" y="935.7" font-size="11.9" fill="#111" stroke="#111" stroke-width="0.18">Aging_WS_2</text>
<circle cx="1259.6" cy="944.8" r="3.1" fill="#4D0C57"/>
<text x="1269.5" y="949.7" font-size="11.9" fill="#111" stroke="#111" stroke-width="0.18">Control_2</text>
<text x="0" y="0" font-size="60" font-weight="bold" transform="matrix(0.9410 0 0 1.0097 1296.34 723.70)">F</text>
<path d="M1397.82 1183.31L1568.3 1027.68M1436.15 1183.31L1606.63 1027.68M1474.48 1183.31L1644.96 1027.68M1512.81 1183.31L1683.29 1027.68M1551.14 1183.31L1721.62 1027.68M1589.47 1183.31L1759.96 1027.68M1627.81 1183.31L1798.29 1027.68M1380.79 1163.85L1687.45 1163.85M1402.1 1144.4L1708.76 1144.4M1423.41 1124.95L1730.07 1124.95M1444.73 1105.49L1751.38 1105.49M1466.04 1086.04L1772.69 1086.04M1487.35 1066.59L1794 1066.59M1508.66 1047.13L1815.31 1047.13" fill="none" stroke="#BEBEBE" stroke-width="0.9"/>
<path d="M1359.48 921.57H1666.14V1183.31H1359.48ZM1529.97 765.95H1836.97V1028.39H1529.97ZM1359.48 921.57L1529.97 765.95M1666.14 921.57L1836.62 765.95M1359.48 1183.31L1529.97 1027.68M1666.14 1183.31L1836.62 1027.68" fill="none" stroke="#1A1A1A" stroke-width="1.3"/>
<text x="1359.48" y="1206" font-size="12.5" fill="#111" text-anchor="middle" stroke="#111" stroke-width="0.18">−0.4</text>
<text x="1397.82" y="1206" font-size="12.5" fill="#111" text-anchor="middle" stroke="#111" stroke-width="0.18">−0.3</text>
<text x="1436.15" y="1206" font-size="12.5" fill="#111" text-anchor="middle" stroke="#111" stroke-width="0.18">−0.2</text>
<text x="1474.48" y="1206" font-size="12.5" fill="#111" text-anchor="middle" stroke="#111" stroke-width="0.18">−0.1</text>
<text x="1512.81" y="1206" font-size="12.5" fill="#111" text-anchor="middle" stroke="#111" stroke-width="0.18">0.0</text>
<text x="1551.14" y="1206" font-size="12.5" fill="#111" text-anchor="middle" stroke="#111" stroke-width="0.18">0.1</text>
<text x="1589.47" y="1206" font-size="12.5" fill="#111" text-anchor="middle" stroke="#111" stroke-width="0.18">0.2</text>
<text x="1627.81" y="1206" font-size="12.5" fill="#111" text-anchor="middle" stroke="#111" stroke-width="0.18">0.3</text>
<text x="1666.14" y="1206" font-size="12.5" fill="#111" text-anchor="middle" stroke="#111" stroke-width="0.18">0.4</text>
<text x="1345" y="921.57" font-size="12.5" fill="#111" text-anchor="middle" transform="rotate(-90 1345 921.57)" stroke="#111" stroke-width="0.18">0.2</text>
<text x="1345" y="965.2" font-size="12.5" fill="#111" text-anchor="middle" transform="rotate(-90 1345 965.2)" stroke="#111" stroke-width="0.18">0.1</text>
<text x="1345" y="1008.82" font-size="12.5" fill="#111" text-anchor="middle" transform="rotate(-90 1345 1008.82)" stroke="#111" stroke-width="0.18">0.0</text>
<text x="1345" y="1052.44" font-size="12.5" fill="#111" text-anchor="middle" transform="rotate(-90 1345 1052.44)" stroke="#111" stroke-width="0.18">−0.1</text>
<text x="1345" y="1096.06" font-size="12.5" fill="#111" text-anchor="middle" transform="rotate(-90 1345 1096.06)" stroke="#111" stroke-width="0.18">−0.2</text>
<text x="1345" y="1139.68" font-size="12.5" fill="#111" text-anchor="middle" transform="rotate(-90 1345 1139.68)" stroke="#111" stroke-width="0.18">−0.3</text>
<text x="1345" y="1183.31" font-size="12.5" fill="#111" text-anchor="middle" transform="rotate(-90 1345 1183.31)" stroke="#111" stroke-width="0.18">−0.4</text>
<text x="1692.64" y="1186.71" font-size="12.5" fill="#111" text-anchor="middle" stroke="#111" stroke-width="0.18">−0.6</text>
<text x="1713.95" y="1167.25" font-size="12.5" fill="#111" text-anchor="middle" stroke="#111" stroke-width="0.18">−0.5</text>
<text x="1735.26" y="1147.8" font-size="12.5" fill="#111" text-anchor="middle" stroke="#111" stroke-width="0.18">−0.4</text>
<text x="1756.57" y="1128.35" font-size="12.5" fill="#111" text-anchor="middle" stroke="#111" stroke-width="0.18">−0.3</text>
<text x="1777.88" y="1108.89" font-size="12.5" fill="#111" text-anchor="middle" stroke="#111" stroke-width="0.18">−0.2</text>
<text x="1799.19" y="1089.44" font-size="12.5" fill="#111" text-anchor="middle" stroke="#111" stroke-width="0.18">−0.1</text>
<text x="1820.5" y="1069.99" font-size="12.5" fill="#111" text-anchor="middle" stroke="#111" stroke-width="0.18">0.0</text>
<text x="1841.81" y="1050.53" font-size="12.5" fill="#111" text-anchor="middle" stroke="#111" stroke-width="0.18">0.1</text>
<text x="1863.12" y="1031.08" font-size="12.5" fill="#111" text-anchor="middle" stroke="#111" stroke-width="0.18">0.2</text>
<path d="M1359.48 1183.31V1187.31M1397.82 1183.31V1187.31M1436.15 1183.31V1187.31M1474.48 1183.31V1187.31M1512.81 1183.31V1187.31M1551.14 1183.31V1187.31M1589.47 1183.31V1187.31M1627.81 1183.31V1187.31M1666.14 1183.31V1187.31M1355.48 921.57H1359.48M1355.48 965.2H1359.48M1355.48 1008.82H1359.48M1355.48 1052.44H1359.48M1355.48 1096.06H1359.48M1355.48 1139.68H1359.48M1355.48 1183.31H1359.48M1666.14 1183.31H1673.14M1687.45 1163.85H1694.45M1708.76 1144.4H1715.76M1730.07 1124.95H1737.07M1751.38 1105.49H1758.38M1772.69 1086.04H1779.69M1794 1066.59H1801M1815.31 1047.13H1822.31M1836.62 1027.68H1843.62" fill="none" stroke="#333" stroke-width="1.2"/>
<polygon points="1520.06,804.34 1515.71,811.99 1524.41,811.99" fill="#0B6FDB"/>
<text x="1524.66" y="808.39" font-size="11.8" fill="#0B6FDB" stroke="#0B6FDB" stroke-width="0.2">Aging.SD.3.7</text>
<polygon points="1491.06,820.61 1486.71,828.26 1495.41,828.26" fill="#0B6FDB"/>
<text x="1494.6" y="825.02" font-size="11.8" fill="#0B6FDB" stroke="#0B6FDB" stroke-width="0.2">Aging.SD.3.5</text>
<polygon points="1562.51,823.79 1558.16,831.44 1566.86,831.44" fill="#0B6FDB"/>
<text x="1565.33" y="825.02" font-size="11.8" fill="#0B6FDB" stroke="#0B6FDB" stroke-width="0.2">Aging.SD.3.6</text>
<polygon points="1562.15,847.49 1557.8,855.14 1566.5,855.14" fill="#0B6FDB"/>
<text x="1502.73" y="843.76" font-size="11.8" fill="#0B6FDB" stroke="#0B6FDB" stroke-width="0.2">Aging.SD.3.4</text>
<polygon points="1451.8,851.73 1447.45,859.38 1456.15,859.38" fill="#0B6FDB"/>
<text x="1455.69" y="852.6" font-size="11.8" fill="#0B6FDB" stroke="#0B6FDB" stroke-width="0.2">Aging.SD.3.8</text>
<polygon points="1567.81,841.12 1563.46,848.77 1572.16,848.77" fill="#0B6FDB"/>
<text x="1562.15" y="849.42" font-size="11.8" fill="#0B6FDB" stroke="#0B6FDB" stroke-width="0.2">Aging.SD.3.3</text>
<polygon points="1585.14,853.15 1580.79,860.8 1589.49,860.8" fill="#0B6FDB"/>
<text x="1584.79" y="860.74" font-size="11.8" fill="#0B6FDB" stroke="#0B6FDB" stroke-width="0.2">Aging.SD.3.2</text>
<polygon points="1607.78,860.93 1603.43,868.58 1612.13,868.58" fill="#0B6FDB"/>
<text x="1607.78" y="875.95" font-size="11.8" fill="#0B6FDB" stroke="#0B6FDB" stroke-width="0.2">Aging.SD.3.1</text>
<circle cx="1556.49" cy="878.78" r="3.2" fill="#4D0C57"/>
<text x="1558.26" y="883.38" font-size="11.8" fill="#4D0C57" stroke="#4D0C57" stroke-width="0.2">Control.3.5</text>
<circle cx="1564.27" cy="887.26" r="3.2" fill="#4D0C57"/>
<text x="1506.98" y="892.57" font-size="11.8" fill="#4D0C57" stroke="#4D0C57" stroke-width="0.2">Control.3.6</text>
<circle cx="1560.74" cy="880.54" r="3.2" fill="#4D0C57"/>
<text x="1564.63" y="898.59" font-size="11.8" fill="#4D0C57" stroke="#4D0C57" stroke-width="0.2">Control.3.1</text>
<circle cx="1548.71" cy="902.12" r="3.2" fill="#4D0C57"/>
<text x="1493.89" y="913.44" font-size="11.8" fill="#4D0C57" stroke="#4D0C57" stroke-width="0.2">Control.3.2</text>
<circle cx="1550.48" cy="909.19" r="3.2" fill="#4D0C57"/>
<text x="1551.19" y="913.79" font-size="11.8" fill="#4D0C57" stroke="#4D0C57" stroke-width="0.2">Control.3.3</text>
<circle cx="1525.72" cy="938.2" r="3.2" fill="#4D0C57"/>
<text x="1466.65" y="933.95" font-size="11.8" fill="#4D0C57" stroke="#4D0C57" stroke-width="0.2">Control.3.8</text>
<circle cx="1498.49" cy="948.1" r="3.2" fill="#4D0C57"/>
<text x="1438.71" y="948.1" font-size="11.8" fill="#4D0C57" stroke="#4D0C57" stroke-width="0.2">Control.3.7</text>
<circle cx="1581.25" cy="943.5" r="3.2" fill="#4D0C57"/>
<text x="1544.82" y="938.55" font-size="11.8" fill="#4D0C57" stroke="#4D0C57" stroke-width="0.2">Control.3.4</text>
<polygon points="1794.18,782.91 1796.58,786.11 1794.18,789.31 1791.78,786.11" fill="#A0491C"/>
<text x="1793.47" y="783.99" font-size="11.8" fill="#A0491C" stroke="#A0491C" stroke-width="0.2">Aging.WS.3.7</text>
<polygon points="1673.92,791.4 1676.32,794.6 1673.92,797.8 1671.52,794.6" fill="#A0491C"/>
<text x="1672.15" y="803.79" font-size="11.8" fill="#A0491C" stroke="#A0491C" stroke-width="0.2">Aging.WS.31</text>
<polygon points="1794.88,792.46 1797.28,795.66 1794.88,798.86 1792.48,795.66" fill="#A0491C"/>
<text x="1760.93" y="805.92" font-size="11.8" fill="#A0491C" stroke="#A0491C" stroke-width="0.2">Aging.WS.3.8</text>
<polygon points="1734.4,811.2 1736.8,814.4 1734.4,817.6 1732,814.4" fill="#A0491C"/>
<text x="1666.85" y="823.6" font-size="11.8" fill="#A0491C" stroke="#A0491C" stroke-width="0.2">Aging.WS.3.2</text>
<polygon points="1788.16,829.95 1790.56,833.15 1788.16,836.35 1785.76,833.15" fill="#A0491C"/>
<text x="1788.16" y="837.04" font-size="11.8" fill="#A0491C" stroke="#A0491C" stroke-width="0.2">Aging.WS.3.5</text>
<polygon points="1768.36,841.62 1770.76,844.82 1768.36,848.02 1765.96,844.82" fill="#A0491C"/>
<text x="1734.4" y="855.08" font-size="11.8" fill="#A0491C" stroke="#A0491C" stroke-width="0.2">Aging.WS.3.6</text>
<polygon points="1757.04,898.92 1759.44,902.12 1757.04,905.32 1754.64,902.12" fill="#A0491C"/>
<text x="1761.64" y="896.11" font-size="11.8" fill="#A0491C" stroke="#A0491C" stroke-width="0.2">Aging.WS.3.3</text>
<polygon points="1706.11,920.85 1708.51,924.05 1706.11,927.25 1703.71,924.05" fill="#A0491C"/>
<text x="1714.24" y="930.42" font-size="11.8" fill="#A0491C" stroke="#A0491C" stroke-width="0.2">Aging.WS.3.4</text>
<circle cx="1660.48" cy="876.65" r="2.6" fill="#EE82EE"/>
<text x="1659.06" y="885.85" font-size="11.8" fill="#EE82EE" stroke="#EE82EE" stroke-width="0.2">Aging.FMT.3.6</text>
<circle cx="1726.27" cy="884.44" r="2.6" fill="#EE82EE"/>
<text x="1725.56" y="881.96" font-size="11.8" fill="#EE82EE" stroke="#EE82EE" stroke-width="0.2">Aging.FMT.3.8</text>
<circle cx="1699.74" cy="895.05" r="2.6" fill="#EE82EE"/>
<text x="1663.66" y="904.6" font-size="11.8" fill="#EE82EE" stroke="#EE82EE" stroke-width="0.2">Aging.FMT.3.5</text>
<circle cx="1725.56" cy="914.15" r="2.6" fill="#EE82EE"/>
<text x="1729.8" y="916.27" font-size="11.8" fill="#EE82EE" stroke="#EE82EE" stroke-width="0.2">Aging.FMT.3.2</text>
<circle cx="1669.67" cy="936.78" r="2.6" fill="#EE82EE"/>
<text x="1674.98" y="940.32" font-size="11.8" fill="#EE82EE" stroke="#EE82EE" stroke-width="0.2">Aging.FMT.3.7</text>
<circle cx="1743.95" cy="948.81" r="2.6" fill="#EE82EE"/>
<text x="1741.47" y="956.24" font-size="11.8" fill="#EE82EE" stroke="#EE82EE" stroke-width="0.2">Aging.FMT.3.1</text>
<circle cx="1738.64" cy="971.09" r="2.6" fill="#EE82EE"/>
<text x="1677.81" y="968.26" font-size="11.8" fill="#EE82EE" stroke="#EE82EE" stroke-width="0.2">Aging.FMT.3.3</text>
<circle cx="1745.01" cy="977.1" r="2.6" fill="#EE82EE"/>
<text x="1677.81" y="990.9" font-size="11.8" fill="#EE82EE" stroke="#EE82EE" stroke-width="0.2">Aging.FMT.3.4</text>
<text x="1513" y="1234.5" font-size="12.9" fill="#000" text-anchor="middle" stroke="#000" stroke-width="0.18">PC1 16.68%</text>
<text x="1315" y="1053" font-size="12.9" fill="#000" text-anchor="middle" transform="rotate(-90 1315 1053)" stroke="#000" stroke-width="0.18">PC3 8.55%</text>
<text x="1895" y="1028" font-size="12.9" fill="#000" text-anchor="middle" transform="rotate(-90 1895 1028)" stroke="#000" stroke-width="0.18">PC2 11.41%</text>
<rect x="1861.4" y="893" width="94.6" height="66.4" fill="#fff" stroke="#222" stroke-width="1.1"/>
<circle cx="1870.6" cy="906.8" r="2.6" fill="#EE82EE"/>
<text x="1882" y="911.7" font-size="11.9" fill="#111" stroke="#111" stroke-width="0.18">Aging_FMT_3</text>
<polygon points="1870.6,916.9 1866.83,923.53 1874.37,923.53" fill="#0B6FDB"/>
<text x="1882" y="925.7" font-size="11.9" fill="#111" stroke="#111" stroke-width="0.18">Aging_SD_3</text>
<polygon points="1870.6,930.8 1872.85,933.8 1870.6,936.8 1868.35,933.8" fill="#A0491C"/>
<text x="1882" y="938.7" font-size="11.9" fill="#111" stroke="#111" stroke-width="0.18">Aging_WS_3</text>
<circle cx="1870.6" cy="946.8" r="3.1" fill="#4D0C57"/>
<text x="1882" y="951.7" font-size="11.9" fill="#111" stroke="#111" stroke-width="0.18">Control_3</text>
<text x="0" y="0" font-size="60" font-weight="bold" transform="matrix(0.9629 0 0 1.0353 8.39 1276.18)">G</text>
<rect x="105.2" y="1529.87" width="17.7" height="31.93" fill="#EE9CF2"/>
<rect x="105.2" y="1522.09" width="17.7" height="7.78" fill="#0A6FDA"/>
<rect x="105.2" y="1509.75" width="17.7" height="12.34" fill="#8B3A00"/>
<rect x="105.2" y="1492.58" width="17.7" height="17.17" fill="#4B0055"/>
<rect x="105.2" y="1474.07" width="17.7" height="18.51" fill="#2ECC40"/>
<rect x="105.2" y="1471.38" width="17.7" height="2.68" fill="#FFCC99"/>
<rect x="105.2" y="1470.04" width="17.7" height="1.34" fill="#8C8C8C"/>
<rect x="105.2" y="1467.63" width="17.7" height="2.41" fill="#98FBB4"/>
<rect x="105.2" y="1461.46" width="17.7" height="6.17" fill="#8B7300"/>
<rect x="105.2" y="1460.65" width="17.7" height="0.8" fill="#99CC00"/>
<rect x="105.2" y="1456.63" width="17.7" height="4.02" fill="#C8117F"/>
<rect x="105.2" y="1455.28" width="17.7" height="1.34" fill="#F5A3B3"/>
<rect x="105.2" y="1450.46" width="17.7" height="4.83" fill="#2F5F1E"/>
<rect x="105.2" y="1293.5" width="17.7" height="156.96" fill="#FF0000"/>
<text x="117.05" y="1577" font-size="7.6" fill="#222" text-anchor="end" transform="rotate(-90 117.05 1577)" stroke="#222" stroke-width="0.18">Aging.SD.3.1</text>
<rect x="137.5" y="1560.73" width="17.7" height="1.07" fill="#EE9CF2"/>
<rect x="137.5" y="1511.09" width="17.7" height="49.64" fill="#0A6FDA"/>
<rect x="137.5" y="1508.94" width="17.7" height="2.15" fill="#8B3A00"/>
<rect x="137.5" y="1493.92" width="17.7" height="15.02" fill="#4B0055"/>
<rect x="137.5" y="1490.43" width="17.7" height="3.49" fill="#2ECC40"/>
<rect x="137.5" y="1489.09" width="17.7" height="1.34" fill="#FFCC99"/>
<rect x="137.5" y="1477.82" width="17.7" height="11.27" fill="#98FBB4"/>
<rect x="137.5" y="1466.02" width="17.7" height="11.81" fill="#8B7300"/>
<rect x="137.5" y="1462.8" width="17.7" height="3.22" fill="#99CC00"/>
<rect x="137.5" y="1454.75" width="17.7" height="8.05" fill="#C8117F"/>
<rect x="137.5" y="1451.8" width="17.7" height="2.95" fill="#0A2A7A"/>
<rect x="137.5" y="1450.19" width="17.7" height="1.61" fill="#FFA500"/>
<rect x="137.5" y="1447.77" width="17.7" height="2.41" fill="#2F5F1E"/>
<rect x="137.5" y="1293.5" width="17.7" height="154.27" fill="#FF0000"/>
<text x="149.35" y="1577" font-size="7.6" fill="#222" text-anchor="end" transform="rotate(-90 149.35 1577)" stroke="#222" stroke-width="0.18">Aging.SD.3.2</text>
<rect x="169.8" y="1519.14" width="17.7" height="42.66" fill="#EE9CF2"/>
<rect x="169.8" y="1475.68" width="17.7" height="43.46" fill="#0A6FDA"/>
<rect x="169.8" y="1456.36" width="17.7" height="19.32" fill="#8B3A00"/>
<rect x="169.8" y="1452.07" width="17.7" height="4.29" fill="#4B0055"/>
<rect x="169.8" y="1450.19" width="17.7" height="1.88" fill="#2ECC40"/>
<rect x="169.8" y="1448.58" width="17.7" height="1.61" fill="#FFCC99"/>
<rect x="169.8" y="1444.55" width="17.7" height="4.02" fill="#8C8C8C"/>
<rect x="169.8" y="1441.6" width="17.7" height="2.95" fill="#98FBB4"/>
<rect x="169.8" y="1437.85" width="17.7" height="3.76" fill="#8B7300"/>
<rect x="169.8" y="1427.92" width="17.7" height="9.93" fill="#99CC00"/>
<rect x="169.8" y="1426.04" width="17.7" height="1.88" fill="#C8117F"/>
<rect x="169.8" y="1417.72" width="17.7" height="8.32" fill="#0A2A7A"/>
<rect x="169.8" y="1415.58" width="17.7" height="2.15" fill="#FFA500"/>
<rect x="169.8" y="1400.82" width="17.7" height="14.76" fill="#F5A3B3"/>
<rect x="169.8" y="1399.21" width="17.7" height="1.61" fill="#2F5F1E"/>
<rect x="169.8" y="1293.5" width="17.7" height="105.71" fill="#FF0000"/>
<text x="181.65" y="1577" font-size="7.6" fill="#222" text-anchor="end" transform="rotate(-90 181.65 1577)" stroke="#222" stroke-width="0.18">Aging.SD.3.3</text>
<rect x="202.1" y="1522.63" width="17.7" height="39.17" fill="#EE9CF2"/>
<rect x="202.1" y="1481.85" width="17.7" height="40.78" fill="#0A6FDA"/>
<rect x="202.1" y="1460.65" width="17.7" height="21.2" fill="#8B3A00"/>
<rect x="202.1" y="1456.09" width="17.7" height="4.56" fill="#4B0055"/>
<rect x="202.1" y="1450.72" width="17.7" height="5.37" fill="#2ECC40"/>
<rect x="202.1" y="1449.11" width="17.7" height="1.61" fill="#FFCC99"/>
<rect x="202.1" y="1445.89" width="17.7" height="3.22" fill="#8C8C8C"/>
<rect x="202.1" y="1442.94" width="17.7" height="2.95" fill="#98FBB4"/>
<rect x="202.1" y="1439.99" width="17.7" height="2.95" fill="#8B7300"/>
<rect x="202.1" y="1430.6" width="17.7" height="9.39" fill="#99CC00"/>
<rect x="202.1" y="1428.19" width="17.7" height="2.41" fill="#C8117F"/>
<rect x="202.1" y="1419.06" width="17.7" height="9.12" fill="#0A2A7A"/>
<rect x="202.1" y="1416.38" width="17.7" height="2.68" fill="#FFA500"/>
<rect x="202.1" y="1397.06" width="17.7" height="19.32" fill="#F5A3B3"/>
<rect x="202.1" y="1395.19" width="17.7" height="1.88" fill="#2F5F1E"/>
<rect x="202.1" y="1293.5" width="17.7" height="101.69" fill="#FF0000"/>
<text x="213.95" y="1577" font-size="7.6" fill="#222" text-anchor="end" transform="rotate(-90 213.95 1577)" stroke="#222" stroke-width="0.18">Aging.SD.3.4</text>
<rect x="234.4" y="1541.14" width="17.7" height="20.66" fill="#EE9CF2"/>
<rect x="234.4" y="1518.07" width="17.7" height="23.07" fill="#0A6FDA"/>
<rect x="234.4" y="1463.87" width="17.7" height="54.2" fill="#8B3A00"/>
<rect x="234.4" y="1454.48" width="17.7" height="9.39" fill="#4B0055"/>
<rect x="234.4" y="1420.94" width="17.7" height="33.54" fill="#8C8C8C"/>
<rect x="234.4" y="1419.06" width="17.7" height="1.88" fill="#99CC00"/>
<rect x="234.4" y="1415.84" width="17.7" height="3.22" fill="#0A2A7A"/>
<rect x="234.4" y="1414.23" width="17.7" height="1.61" fill="#2F5F1E"/>
<rect x="234.4" y="1293.5" width="17.7" height="120.73" fill="#FF0000"/>
<text x="246.25" y="1577" font-size="7.6" fill="#222" text-anchor="end" transform="rotate(-90 246.25 1577)" stroke="#222" stroke-width="0.18">Aging.SD.3.5</text>
<rect x="266.7" y="1541.14" width="17.7" height="20.66" fill="#EE9CF2"/>
<rect x="266.7" y="1533.9" width="17.7" height="7.24" fill="#0A6FDA"/>
<rect x="266.7" y="1486.94" width="17.7" height="46.95" fill="#8B3A00"/>
<rect x="266.7" y="1476.75" width="17.7" height="10.2" fill="#4B0055"/>
<rect x="266.7" y="1454.48" width="17.7" height="22.27" fill="#8C8C8C"/>
<rect x="266.7" y="1452.07" width="17.7" height="2.41" fill="#99CC00"/>
<rect x="266.7" y="1450.46" width="17.7" height="1.61" fill="#2F5F1E"/>
<rect x="266.7" y="1293.5" width="17.7" height="156.96" fill="#FF0000"/>
<text x="278.55" y="1577" font-size="7.6" fill="#222" text-anchor="end" transform="rotate(-90 278.55 1577)" stroke="#222" stroke-width="0.18">Aging.SD.3.6</text>
<rect x="299" y="1555.9" width="17.7" height="5.9" fill="#EE9CF2"/>
<rect x="299" y="1527.99" width="17.7" height="27.9" fill="#0A6FDA"/>
<rect x="299" y="1505.99" width="17.7" height="22" fill="#8B3A00"/>
<rect x="299" y="1480.24" width="17.7" height="25.76" fill="#4B0055"/>
<rect x="299" y="1477.82" width="17.7" height="2.41" fill="#2ECC40"/>
<rect x="299" y="1472.99" width="17.7" height="4.83" fill="#FFCC99"/>
<rect x="299" y="1465.48" width="17.7" height="7.51" fill="#8C8C8C"/>
<rect x="299" y="1460.38" width="17.7" height="5.1" fill="#98FBB4"/>
<rect x="299" y="1453.14" width="17.7" height="7.24" fill="#8B7300"/>
<rect x="299" y="1449.38" width="17.7" height="3.76" fill="#C8117F"/>
<rect x="299" y="1446.7" width="17.7" height="2.68" fill="#0A2A7A"/>
<rect x="299" y="1439.99" width="17.7" height="6.71" fill="#FFA500"/>
<rect x="299" y="1438.11" width="17.7" height="1.88" fill="#2F5F1E"/>
<rect x="299" y="1293.5" width="17.7" height="144.61" fill="#FF0000"/>
<text x="310.85" y="1577" font-size="7.6" fill="#222" text-anchor="end" transform="rotate(-90 310.85 1577)" stroke="#222" stroke-width="0.18">Aging.SD.3.7</text>
<rect x="331.3" y="1561.26" width="17.7" height="0.54" fill="#EE9CF2"/>
<rect x="331.3" y="1521.56" width="17.7" height="39.71" fill="#0A6FDA"/>
<rect x="331.3" y="1501.7" width="17.7" height="19.85" fill="#4B0055"/>
<rect x="331.3" y="1497.14" width="17.7" height="4.56" fill="#2ECC40"/>
<rect x="331.3" y="1494.72" width="17.7" height="2.41" fill="#8C8C8C"/>
<rect x="331.3" y="1477.55" width="17.7" height="17.17" fill="#98FBB4"/>
<rect x="331.3" y="1466.02" width="17.7" height="11.54" fill="#C8117F"/>
<rect x="331.3" y="1452.33" width="17.7" height="13.68" fill="#0A2A7A"/>
<rect x="331.3" y="1441.33" width="17.7" height="11" fill="#FFA500"/>
<rect x="331.3" y="1439.99" width="17.7" height="1.34" fill="#F5A3B3"/>
<rect x="331.3" y="1435.43" width="17.7" height="4.56" fill="#2F5F1E"/>
<rect x="331.3" y="1293.5" width="17.7" height="141.93" fill="#FF0000"/>
<text x="343.15" y="1577" font-size="7.6" fill="#222" text-anchor="end" transform="rotate(-90 343.15 1577)" stroke="#222" stroke-width="0.18">Aging.SD.3.8</text>
<rect x="363.6" y="1552.14" width="17.7" height="9.66" fill="#EE9CF2"/>
<rect x="363.6" y="1528.53" width="17.7" height="23.61" fill="#0A6FDA"/>
<rect x="363.6" y="1506.26" width="17.7" height="22.27" fill="#8B3A00"/>
<rect x="363.6" y="1490.97" width="17.7" height="15.29" fill="#4B0055"/>
<rect x="363.6" y="1460.92" width="17.7" height="30.05" fill="#2ECC40"/>
<rect x="363.6" y="1445.63" width="17.7" height="15.29" fill="#FFCC99"/>
<rect x="363.6" y="1443.21" width="17.7" height="2.41" fill="#98FBB4"/>
<rect x="363.6" y="1441.6" width="17.7" height="1.61" fill="#8B7300"/>
<rect x="363.6" y="1431.41" width="17.7" height="10.2" fill="#99CC00"/>
<rect x="363.6" y="1427.38" width="17.7" height="4.02" fill="#C8117F"/>
<rect x="363.6" y="1425.5" width="17.7" height="1.88" fill="#0A2A7A"/>
<rect x="363.6" y="1422.02" width="17.7" height="3.49" fill="#FFA500"/>
<rect x="363.6" y="1418.53" width="17.7" height="3.49" fill="#2F5F1E"/>
<rect x="363.6" y="1293.5" width="17.7" height="125.03" fill="#FF0000"/>
<text x="375.45" y="1577" font-size="7.6" fill="#222" text-anchor="end" transform="rotate(-90 375.45 1577)" stroke="#222" stroke-width="0.18">Aging.WS.3.1</text>
<rect x="395.9" y="1548.12" width="17.7" height="13.68" fill="#EE9CF2"/>
<rect x="395.9" y="1530.95" width="17.7" height="17.17" fill="#0A6FDA"/>
<rect x="395.9" y="1521.29" width="17.7" height="9.66" fill="#8B3A00"/>
<rect x="395.9" y="1508.94" width="17.7" height="12.34" fill="#4B0055"/>
<rect x="395.9" y="1488.02" width="17.7" height="20.93" fill="#2ECC40"/>
<rect x="395.9" y="1467.89" width="17.7" height="20.12" fill="#FFCC99"/>
<rect x="395.9" y="1465.75" width="17.7" height="2.15" fill="#98FBB4"/>
<rect x="395.9" y="1461.46" width="17.7" height="4.29" fill="#8B7300"/>
<rect x="395.9" y="1449.11" width="17.7" height="12.34" fill="#C8117F"/>
<rect x="395.9" y="1447.77" width="17.7" height="1.34" fill="#0A2A7A"/>
<rect x="395.9" y="1438.92" width="17.7" height="8.85" fill="#FFA500"/>
<rect x="395.9" y="1434.63" width="17.7" height="4.29" fill="#2F5F1E"/>
<rect x="395.9" y="1293.5" width="17.7" height="141.13" fill="#FF0000"/>
<text x="407.75" y="1577" font-size="7.6" fill="#222" text-anchor="end" transform="rotate(-90 407.75 1577)" stroke="#222" stroke-width="0.18">Aging.WS.3.2</text>
<rect x="428.2" y="1512.43" width="17.7" height="49.37" fill="#EE9CF2"/>
<rect x="428.2" y="1508.94" width="17.7" height="3.49" fill="#0A6FDA"/>
<rect x="428.2" y="1487.75" width="17.7" height="21.2" fill="#8B3A00"/>
<rect x="428.2" y="1450.99" width="17.7" height="36.76" fill="#4B0055"/>
<rect x="428.2" y="1448.85" width="17.7" height="2.15" fill="#2ECC40"/>
<rect x="428.2" y="1447.77" width="17.7" height="1.07" fill="#8C8C8C"/>
<rect x="428.2" y="1437.04" width="17.7" height="10.73" fill="#98FBB4"/>
<rect x="428.2" y="1428.99" width="17.7" height="8.05" fill="#8B7300"/>
<rect x="428.2" y="1416.38" width="17.7" height="12.61" fill="#99CC00"/>
<rect x="428.2" y="1293.5" width="17.7" height="122.88" fill="#FF0000"/>
<text x="440.05" y="1577" font-size="7.6" fill="#222" text-anchor="end" transform="rotate(-90 440.05 1577)" stroke="#222" stroke-width="0.18">Aging.WS.3.3</text>
<rect x="460.5" y="1561" width="17.7" height="0.8" fill="#EE9CF2"/>
<rect x="460.5" y="1521.56" width="17.7" height="39.44" fill="#0A6FDA"/>
<rect x="460.5" y="1512.97" width="17.7" height="8.59" fill="#4B0055"/>
<rect x="460.5" y="1480.51" width="17.7" height="32.46" fill="#2ECC40"/>
<rect x="460.5" y="1477.55" width="17.7" height="2.95" fill="#8C8C8C"/>
<rect x="460.5" y="1462.8" width="17.7" height="14.76" fill="#98FBB4"/>
<rect x="460.5" y="1457.97" width="17.7" height="4.83" fill="#8B7300"/>
<rect x="460.5" y="1452.33" width="17.7" height="5.63" fill="#C8117F"/>
<rect x="460.5" y="1450.19" width="17.7" height="2.15" fill="#0A2A7A"/>
<rect x="460.5" y="1438.92" width="17.7" height="11.27" fill="#FFA500"/>
<rect x="460.5" y="1432.48" width="17.7" height="6.44" fill="#F5A3B3"/>
<rect x="460.5" y="1428.99" width="17.7" height="3.49" fill="#2F5F1E"/>
<rect x="460.5" y="1293.5" width="17.7" height="135.49" fill="#FF0000"/>
<text x="472.35" y="1577" font-size="7.6" fill="#222" text-anchor="end" transform="rotate(-90 472.35 1577)" stroke="#222" stroke-width="0.18">Aging.WS.3.4</text>
<rect x="492.8" y="1492.04" width="17.7" height="69.76" fill="#EE9CF2"/>
<rect x="492.8" y="1485.07" width="17.7" height="6.98" fill="#8B3A00"/>
<rect x="492.8" y="1462.26" width="17.7" height="22.81" fill="#4B0055"/>
<rect x="492.8" y="1450.19" width="17.7" height="12.07" fill="#2ECC40"/>
<rect x="492.8" y="1436.77" width="17.7" height="13.41" fill="#FFCC99"/>
<rect x="492.8" y="1433.55" width="17.7" height="3.22" fill="#8C8C8C"/>
<rect x="492.8" y="1431.94" width="17.7" height="1.61" fill="#98FBB4"/>
<rect x="492.8" y="1430.6" width="17.7" height="1.34" fill="#8B7300"/>
<rect x="492.8" y="1428.19" width="17.7" height="2.41" fill="#99CC00"/>
<rect x="492.8" y="1293.5" width="17.7" height="134.69" fill="#FF0000"/>
<text x="504.65" y="1577" font-size="7.6" fill="#222" text-anchor="end" transform="rotate(-90 504.65 1577)" stroke="#222" stroke-width="0.18">Aging.WS.3.5</text>
<rect x="525.1" y="1544.63" width="17.7" height="17.17" fill="#EE9CF2"/>
<rect x="525.1" y="1539.26" width="17.7" height="5.37" fill="#0A6FDA"/>
<rect x="525.1" y="1514.58" width="17.7" height="24.68" fill="#8B3A00"/>
<rect x="525.1" y="1500.63" width="17.7" height="13.95" fill="#4B0055"/>
<rect x="525.1" y="1498.21" width="17.7" height="2.41" fill="#2ECC40"/>
<rect x="525.1" y="1471.38" width="17.7" height="26.83" fill="#FFCC99"/>
<rect x="525.1" y="1464.14" width="17.7" height="7.24" fill="#8B7300"/>
<rect x="525.1" y="1460.65" width="17.7" height="3.49" fill="#99CC00"/>
<rect x="525.1" y="1459.31" width="17.7" height="1.34" fill="#C8117F"/>
<rect x="525.1" y="1457.97" width="17.7" height="1.34" fill="#2F5F1E"/>
<rect x="525.1" y="1293.5" width="17.7" height="164.47" fill="#FF0000"/>
<text x="536.95" y="1577" font-size="7.6" fill="#222" text-anchor="end" transform="rotate(-90 536.95 1577)" stroke="#222" stroke-width="0.18">Aging.WS.3.6</text>
<rect x="557.4" y="1522.9" width="17.7" height="38.9" fill="#EE9CF2"/>
<rect x="557.4" y="1515.92" width="17.7" height="6.98" fill="#0A6FDA"/>
<rect x="557.4" y="1505.99" width="17.7" height="9.93" fill="#8B3A00"/>
<rect x="557.4" y="1487.21" width="17.7" height="18.78" fill="#4B0055"/>
<rect x="557.4" y="1482.92" width="17.7" height="4.29" fill="#2ECC40"/>
<rect x="557.4" y="1464.41" width="17.7" height="18.51" fill="#FFCC99"/>
<rect x="557.4" y="1462.8" width="17.7" height="1.61" fill="#8C8C8C"/>
<rect x="557.4" y="1457.97" width="17.7" height="4.83" fill="#8B7300"/>
<rect x="557.4" y="1451.53" width="17.7" height="6.44" fill="#99CC00"/>
<rect x="557.4" y="1449.38" width="17.7" height="2.15" fill="#C8117F"/>
<rect x="557.4" y="1448.04" width="17.7" height="1.34" fill="#0A2A7A"/>
<rect x="557.4" y="1446.7" width="17.7" height="1.34" fill="#2F5F1E"/>
<rect x="557.4" y="1293.5" width="17.7" height="153.2" fill="#FF0000"/>
<text x="569.25" y="1577" font-size="7.6" fill="#222" text-anchor="end" transform="rotate(-90 569.25 1577)" stroke="#222" stroke-width="0.18">Aging.WS.3.7</text>
<rect x="589.7" y="1514.04" width="17.7" height="47.76" fill="#EE9CF2"/>
<rect x="589.7" y="1508.94" width="17.7" height="5.1" fill="#0A6FDA"/>
<rect x="589.7" y="1499.55" width="17.7" height="9.39" fill="#8B3A00"/>
<rect x="589.7" y="1481.31" width="17.7" height="18.24" fill="#4B0055"/>
<rect x="589.7" y="1470.85" width="17.7" height="10.46" fill="#2ECC40"/>
<rect x="589.7" y="1451.53" width="17.7" height="19.32" fill="#FFCC99"/>
<rect x="589.7" y="1448.04" width="17.7" height="3.49" fill="#8C8C8C"/>
<rect x="589.7" y="1443.48" width="17.7" height="4.56" fill="#8B7300"/>
<rect x="589.7" y="1435.97" width="17.7" height="7.51" fill="#99CC00"/>
<rect x="589.7" y="1434.63" width="17.7" height="1.34" fill="#C8117F"/>
<rect x="589.7" y="1433.82" width="17.7" height="0.8" fill="#0A2A7A"/>
<rect x="589.7" y="1433.02" width="17.7" height="0.8" fill="#2F5F1E"/>
<rect x="589.7" y="1293.5" width="17.7" height="139.52" fill="#FF0000"/>
<text x="601.55" y="1577" font-size="7.6" fill="#222" text-anchor="end" transform="rotate(-90 601.55 1577)" stroke="#222" stroke-width="0.18">Aging.WS.3.8</text>
<line x1="85.3" y1="1561.8" x2="85.3" y2="1293.5" stroke="#222" stroke-width="1.2"/>
<line x1="77.7" y1="1561.8" x2="85.3" y2="1561.8" stroke="#222" stroke-width="1.2"/>
<text x="71" y="1566.1" font-size="12" fill="#000" text-anchor="end" stroke="#000" stroke-width="0.18">0</text>
<line x1="77.7" y1="1508.14" x2="85.3" y2="1508.14" stroke="#222" stroke-width="1.2"/>
<text x="71" y="1512.44" font-size="12" fill="#000" text-anchor="end" stroke="#000" stroke-width="0.18">20</text>
<line x1="77.7" y1="1454.48" x2="85.3" y2="1454.48" stroke="#222" stroke-width="1.2"/>
<text x="71" y="1458.78" font-size="12" fill="#000" text-anchor="end" stroke="#000" stroke-width="0.18">40</text>
<line x1="77.7" y1="1400.82" x2="85.3" y2="1400.82" stroke="#222" stroke-width="1.2"/>
<text x="71" y="1405.12" font-size="12" fill="#000" text-anchor="end" stroke="#000" stroke-width="0.18">60</text>
<line x1="77.7" y1="1347.16" x2="85.3" y2="1347.16" stroke="#222" stroke-width="1.2"/>
<text x="71" y="1351.46" font-size="12" fill="#000" text-anchor="end" stroke="#000" stroke-width="0.18">80</text>
<line x1="77.7" y1="1293.5" x2="85.3" y2="1293.5" stroke="#222" stroke-width="1.2"/>
<text x="71" y="1297.8" font-size="12" fill="#000" text-anchor="end" stroke="#000" stroke-width="0.18">100</text>
<text x="39" y="1428.5" font-size="18" fill="#000" text-anchor="middle" transform="rotate(-90 39 1428.5)" stroke="#000" stroke-width="0.18">Relative abundance(%)</text>
<rect x="50.3" y="1629.1" width="7.6" height="7.6" fill="#EE9CF2"/>
<text x="59.5" y="1636.6" font-size="10" fill="#000" stroke="#000" stroke-width="0.18">Bacteroides</text>
<rect x="50.3" y="1640.7" width="7.6" height="7.6" fill="#0A6FDA"/>
<text x="59.5" y="1648.2" font-size="10" fill="#000" stroke="#000" stroke-width="0.18">Lachnospiraceae_NK4A136_group</text>
<rect x="50.3" y="1651.9" width="7.6" height="7.6" fill="#8B3A00"/>
<text x="59.5" y="1659.4" font-size="10" fill="#000" stroke="#000" stroke-width="0.18">Alloprevotella</text>
<rect x="50.3" y="1663.5" width="7.6" height="7.6" fill="#4B0055"/>
<text x="59.5" y="1671" font-size="10" fill="#000" stroke="#000" stroke-width="0.18">Alistipes</text>
<rect x="50.3" y="1675.1" width="7.6" height="7.6" fill="#2ECC40"/>
<text x="59.5" y="1682.6" font-size="10" fill="#000" stroke="#000" stroke-width="0.18">Helicobacter</text>
<rect x="50.3" y="1686.3" width="7.6" height="7.6" fill="#FFCC99"/>
<text x="59.5" y="1693.8" font-size="10" fill="#000" stroke="#000" stroke-width="0.18">Prevotellaceae_UCG_001</text>
<rect x="50.3" y="1697.9" width="7.6" height="7.6" fill="#8C8C8C"/>
<text x="59.5" y="1705.4" font-size="10" fill="#000" stroke="#000" stroke-width="0.18">Lactobacillus</text>
<rect x="50.3" y="1709.2" width="7.6" height="7.6" fill="#98FBB4"/>
<text x="59.5" y="1716.7" font-size="10" fill="#000" stroke="#000" stroke-width="0.18">Odoribacter</text>
<rect x="222" y="1629.1" width="7.6" height="7.6" fill="#8B7300"/>
<text x="230.5" y="1636.6" font-size="10" fill="#000" stroke="#000" stroke-width="0.18">Ruminococcaceae_UCG_014</text>
<rect x="222" y="1640.7" width="7.6" height="7.6" fill="#99CC00"/>
<text x="230.5" y="1648.2" font-size="10" fill="#000" stroke="#000" stroke-width="0.18">Rikenellaceae_RC9_gut_group</text>
<rect x="222" y="1651.9" width="7.6" height="7.6" fill="#C8117F"/>
<text x="230.5" y="1659.4" font-size="10" fill="#000" stroke="#000" stroke-width="0.18">Ruminiclostridium</text>
<rect x="222" y="1663.5" width="7.6" height="7.6" fill="#0A2A7A"/>
<text x="230.5" y="1671" font-size="10" fill="#000" stroke="#000" stroke-width="0.18">ASF356</text>
<rect x="222" y="1675.1" width="7.6" height="7.6" fill="#FFA500"/>
<text x="230.5" y="1682.6" font-size="10" fill="#000" stroke="#000" stroke-width="0.18">Roseburia</text>
<rect x="222" y="1686.3" width="7.6" height="7.6" fill="#F5A3B3"/>
<text x="230.5" y="1693.8" font-size="10" fill="#000" stroke="#000" stroke-width="0.18">A2</text>
<rect x="222" y="1697.9" width="7.6" height="7.6" fill="#2F5F1E"/>
<text x="230.5" y="1705.4" font-size="10" fill="#000" stroke="#000" stroke-width="0.18">Ruminiclostridium_9</text>
<rect x="222" y="1709.2" width="7.6" height="7.6" fill="#FF0000"/>
<text x="230.5" y="1716.7" font-size="10" fill="#000" stroke="#000" stroke-width="0.18">others</text>
<text x="0" y="0" font-size="60" font-weight="bold" transform="matrix(0.9377 0 0 1.0097 668.45 1254.70)">H</text>
<rect x="707.2" y="1301.8" width="19.51" height="8.6" fill="#F8877F" stroke="#FFFFFF" stroke-width="0.8"/>
<rect x="726.71" y="1301.8" width="19.51" height="8.6" fill="#F8877F" stroke="#FFFFFF" stroke-width="0.8"/>
<rect x="746.23" y="1301.8" width="19.51" height="8.6" fill="#F8877F" stroke="#FFFFFF" stroke-width="0.8"/>
<rect x="765.74" y="1301.8" width="19.51" height="8.6" fill="#F8877F" stroke="#FFFFFF" stroke-width="0.8"/>
<rect x="785.25" y="1301.8" width="19.51" height="8.6" fill="#F8877F" stroke="#FFFFFF" stroke-width="0.8"/>
<rect x="804.76" y="1301.8" width="19.51" height="8.6" fill="#F8877F" stroke="#FFFFFF" stroke-width="0.8"/>
<rect x="824.27" y="1301.8" width="19.51" height="8.6" fill="#F8877F" stroke="#FFFFFF" stroke-width="0.8"/>
<rect x="843.79" y="1301.8" width="19.51" height="8.6" fill="#00CED1" stroke="#FFFFFF" stroke-width="0.8"/>
<rect x="863.3" y="1301.8" width="19.51" height="8.6" fill="#00CED1" stroke="#FFFFFF" stroke-width="0.8"/>
<rect x="882.81" y="1301.8" width="19.51" height="8.6" fill="#00CED1" stroke="#FFFFFF" stroke-width="0.8"/>
<rect x="902.33" y="1301.8" width="19.51" height="8.6" fill="#F8877F" stroke="#FFFFFF" stroke-width="0.8"/>
<rect x="921.84" y="1301.8" width="19.51" height="8.6" fill="#00CED1" stroke="#FFFFFF" stroke-width="0.8"/>
<rect x="941.35" y="1301.8" width="19.51" height="8.6" fill="#00CED1" stroke="#FFFFFF" stroke-width="0.8"/>
<rect x="960.86" y="1301.8" width="19.51" height="8.6" fill="#00CED1" stroke="#FFFFFF" stroke-width="0.8"/>
<rect x="980.38" y="1301.8" width="19.51" height="8.6" fill="#00CED1" stroke="#FFFFFF" stroke-width="0.8"/>
<rect x="999.89" y="1301.8" width="19.51" height="8.6" fill="#00CED1" stroke="#FFFFFF" stroke-width="0.8"/>
<rect x="707.2" y="1313.7" width="19.51" height="14.65" fill="#FF2A2A" stroke="#9A9A9A" stroke-width="0.8"/>
<rect x="726.71" y="1313.7" width="19.51" height="14.65" fill="#FF6B6B" stroke="#9A9A9A" stroke-width="0.8"/>
<rect x="746.23" y="1313.7" width="19.51" height="14.65" fill="#FFE3E3" stroke="#9A9A9A" stroke-width="0.8"/>
<rect x="765.74" y="1313.7" width="19.51" height="14.65" fill="#FF5858" stroke="#9A9A9A" stroke-width="0.8"/>
<rect x="785.25" y="1313.7" width="19.51" height="14.65" fill="#D2D2FA" stroke="#9A9A9A" stroke-width="0.8"/>
<rect x="804.76" y="1313.7" width="19.51" height="14.65" fill="#D2D2FA" stroke="#9A9A9A" stroke-width="0.8"/>
<rect x="824.27" y="1313.7" width="19.51" height="14.65" fill="#D2D2FA" stroke="#9A9A9A" stroke-width="0.8"/>
<rect x="843.79" y="1313.7" width="19.51" height="14.65" fill="#D2D2FA" stroke="#9A9A9A" stroke-width="0.8"/>
<rect x="863.3" y="1313.7" width="19.51" height="14.65" fill="#D2D2FA" stroke="#9A9A9A" stroke-width="0.8"/>
<rect x="882.81" y="1313.7" width="19.51" height="14.65" fill="#D2D2FA" stroke="#9A9A9A" stroke-width="0.8"/>
<rect x="902.33" y="1313.7" width="19.51" height="14.65" fill="#CACAF9" stroke="#9A9A9A" stroke-width="0.8"/>
<rect x="921.84" y="1313.7" width="19.51" height="14.65" fill="#D2D2FA" stroke="#9A9A9A" stroke-width="0.8"/>
<rect x="941.35" y="1313.7" width="19.51" height="14.65" fill="#D2D2FA" stroke="#9A9A9A" stroke-width="0.8"/>
<rect x="960.86" y="1313.7" width="19.51" height="14.65" fill="#D2D2FA" stroke="#9A9A9A" stroke-width="0.8"/>
<rect x="980.38" y="1313.7" width="19.51" height="14.65" fill="#D2D2FA" stroke="#9A9A9A" stroke-width="0.8"/>
<rect x="999.89" y="1313.7" width="19.51" height="14.65" fill="#D2D2FA" stroke="#9A9A9A" stroke-width="0.8"/>
<rect x="707.2" y="1328.35" width="19.51" height="14.65" fill="#FF1717" stroke="#9A9A9A" stroke-width="0.8"/>
<rect x="726.71" y="1328.35" width="19.51" height="14.65" fill="#FF6161" stroke="#9A9A9A" stroke-width="0.8"/>
<rect x="746.23" y="1328.35" width="19.51" height="14.65" fill="#FFDADA" stroke="#9A9A9A" stroke-width="0.8"/>
<rect x="765.74" y="1328.35" width="19.51" height="14.65" fill="#FF6B6B" stroke="#9A9A9A" stroke-width="0.8"/>
<rect x="785.25" y="1328.35" width="19.51" height="14.65" fill="#D2D2FA" stroke="#9A9A9A" stroke-width="0.8"/>
<rect x="804.76" y="1328.35" width="19.51" height="14.65" fill="#D2D2FA" stroke="#9A9A9A" stroke-width="0.8"/>
<rect x="824.27" y="1328.35" width="19.51" height="14.65" fill="#D2D2FA" stroke="#9A9A9A" stroke-width="0.8"/>
<rect x="843.79" y="1328.35" width="19.51" height="14.65" fill="#D2D2FA" stroke="#9A9A9A" stroke-width="0.8"/>
<rect x="863.3" y="1328.35" width="19.51" height="14.65" fill="#D2D2FA" stroke="#9A9A9A" stroke-width="0.8"/>
<rect x="882.81" y="1328.35" width="19.51" height="14.65" fill="#D2D2FA" stroke="#9A9A9A" stroke-width="0.8"/>
<rect x="902.33" y="1328.35" width="19.51" height="14.65" fill="#CACAF9" stroke="#9A9A9A" stroke-width="0.8"/>
<rect x="921.84" y="1328.35" width="19.51" height="14.65" fill="#D2D2FA" stroke="#9A9A9A" stroke-width="0.8"/>
<rect x="941.35" y="1328.35" width="19.51" height="14.65" fill="#D2D2FA" stroke="#9A9A9A" stroke-width="0.8"/>
<rect x="960.86" y="1328.35" width="19.51" height="14.65" fill="#FFF6F6" stroke="#9A9A9A" stroke-width="0.8"/>
<rect x="980.38" y="1328.35" width="19.51" height="14.65" fill="#D2D2FA" stroke="#9A9A9A" stroke-width="0.8"/>
<rect x="999.89" y="1328.35" width="19.51" height="14.65" fill="#D2D2FA" stroke="#9A9A9A" stroke-width="0.8"/>
<rect x="707.2" y="1343" width="19.51" height="14.65" fill="#FF6B6B" stroke="#9A9A9A" stroke-width="0.8"/>
<rect x="726.71" y="1343" width="19.51" height="14.65" fill="#FF6B6B" stroke="#9A9A9A" stroke-width="0.8"/>
<rect x="746.23" y="1343" width="19.51" height="14.65" fill="#FF4F4F" stroke="#9A9A9A" stroke-width="0.8"/>
<rect x="765.74" y="1343" width="19.51" height="14.65" fill="#FF7474" stroke="#9A9A9A" stroke-width="0.8"/>
<rect x="785.25" y="1343" width="19.51" height="14.65" fill="#CACAF9" stroke="#9A9A9A" stroke-width="0.8"/>
<rect x="804.76" y="1343" width="19.51" height="14.65" fill="#CACAF9" stroke="#9A9A9A" stroke-width="0.8"/>
<rect x="824.27" y="1343" width="19.51" height="14.65" fill="#FFD1D1" stroke="#9A9A9A" stroke-width="0.8"/>
<rect x="843.79" y="1343" width="19.51" height="14.65" fill="#CACAF9" stroke="#9A9A9A" stroke-width="0.8"/>
<rect x="863.3" y="1343" width="19.51" height="14.65" fill="#F8F8FE" stroke="#9A9A9A" stroke-width="0.8"/>
<rect x="882.81" y="1343" width="19.51" height="14.65" fill="#F0F0FD" stroke="#9A9A9A" stroke-width="0.8"/>
<rect x="902.33" y="1343" width="19.51" height="14.65" fill="#C3C3F8" stroke="#9A9A9A" stroke-width="0.8"/>
<rect x="921.84" y="1343" width="19.51" height="14.65" fill="#C3C3F8" stroke="#9A9A9A" stroke-width="0.8"/>
<rect x="941.35" y="1343" width="19.51" height="14.65" fill="#C3C3F8" stroke="#9A9A9A" stroke-width="0.8"/>
<rect x="960.86" y="1343" width="19.51" height="14.65" fill="#CACAF9" stroke="#9A9A9A" stroke-width="0.8"/>
<rect x="980.38" y="1343" width="19.51" height="14.65" fill="#CACAF9" stroke="#9A9A9A" stroke-width="0.8"/>
<rect x="999.89" y="1343" width="19.51" height="14.65" fill="#C3C3F8" stroke="#9A9A9A" stroke-width="0.8"/>
<rect x="707.2" y="1357.64" width="19.51" height="14.65" fill="#FF2A2A" stroke="#9A9A9A" stroke-width="0.8"/>
<rect x="726.71" y="1357.64" width="19.51" height="14.65" fill="#FF2A2A" stroke="#9A9A9A" stroke-width="0.8"/>
<rect x="746.23" y="1357.64" width="19.51" height="14.65" fill="#FF8686" stroke="#9A9A9A" stroke-width="0.8"/>
<rect x="765.74" y="1357.64" width="19.51" height="14.65" fill="#FFFFFF" stroke="#9A9A9A" stroke-width="0.8"/>
<rect x="785.25" y="1357.64" width="19.51" height="14.65" fill="#DADAFA" stroke="#9A9A9A" stroke-width="0.8"/>
<rect x="804.76" y="1357.64" width="19.51" height="14.65" fill="#DADAFA" stroke="#9A9A9A" stroke-width="0.8"/>
<rect x="824.27" y="1357.64" width="19.51" height="14.65" fill="#E1E1FB" stroke="#9A9A9A" stroke-width="0.8"/>
<rect x="843.79" y="1357.64" width="19.51" height="14.65" fill="#D2D2FA" stroke="#9A9A9A" stroke-width="0.8"/>
<rect x="863.3" y="1357.64" width="19.51" height="14.65" fill="#D2D2FA" stroke="#9A9A9A" stroke-width="0.8"/>
<rect x="882.81" y="1357.64" width="19.51" height="14.65" fill="#D2D2FA" stroke="#9A9A9A" stroke-width="0.8"/>
<rect x="902.33" y="1357.64" width="19.51" height="14.65" fill="#D2D2FA" stroke="#9A9A9A" stroke-width="0.8"/>
<rect x="921.84" y="1357.64" width="19.51" height="14.65" fill="#D2D2FA" stroke="#9A9A9A" stroke-width="0.8"/>
<rect x="941.35" y="1357.64" width="19.51" height="14.65" fill="#D2D2FA" stroke="#9A9A9A" stroke-width="0.8"/>
<rect x="960.86" y="1357.64" width="19.51" height="14.65" fill="#DADAFA" stroke="#9A9A9A" stroke-width="0.8"/>
<rect x="980.38" y="1357.64" width="19.51" height="14.65" fill="#D2D2FA" stroke="#9A9A9A" stroke-width="0.8"/>
<rect x="999.89" y="1357.64" width="19.51" height="14.65" fill="#DADAFA" stroke="#9A9A9A" stroke-width="0.8"/>
<rect x="707.2" y="1372.29" width="19.51" height="14.65" fill="#FF7474" stroke="#9A9A9A" stroke-width="0.8"/>
<rect x="726.71" y="1372.29" width="19.51" height="14.65" fill="#FF7D7D" stroke="#9A9A9A" stroke-width="0.8"/>
<rect x="746.23" y="1372.29" width="19.51" height="14.65" fill="#FFB5B5" stroke="#9A9A9A" stroke-width="0.8"/>
<rect x="765.74" y="1372.29" width="19.51" height="14.65" fill="#FF4646" stroke="#9A9A9A" stroke-width="0.8"/>
<rect x="785.25" y="1372.29" width="19.51" height="14.65" fill="#C3C3F8" stroke="#9A9A9A" stroke-width="0.8"/>
<rect x="804.76" y="1372.29" width="19.51" height="14.65" fill="#FFB5B5" stroke="#9A9A9A" stroke-width="0.8"/>
<rect x="824.27" y="1372.29" width="19.51" height="14.65" fill="#FF9090" stroke="#9A9A9A" stroke-width="0.8"/>
<rect x="843.79" y="1372.29" width="19.51" height="14.65" fill="#BCBCF7" stroke="#9A9A9A" stroke-width="0.8"/>
<rect x="863.3" y="1372.29" width="19.51" height="14.65" fill="#C3C3F8" stroke="#9A9A9A" stroke-width="0.8"/>
<rect x="882.81" y="1372.29" width="19.51" height="14.65" fill="#F0F0FD" stroke="#9A9A9A" stroke-width="0.8"/>
<rect x="902.33" y="1372.29" width="19.51" height="14.65" fill="#C3C3F8" stroke="#9A9A9A" stroke-width="0.8"/>
<rect x="921.84" y="1372.29" width="19.51" height="14.65" fill="#BCBCF7" stroke="#9A9A9A" stroke-width="0.8"/>
<rect x="941.35" y="1372.29" width="19.51" height="14.65" fill="#BCBCF7" stroke="#9A9A9A" stroke-width="0.8"/>
<rect x="960.86" y="1372.29" width="19.51" height="14.65" fill="#D2D2FA" stroke="#9A9A9A" stroke-width="0.8"/>
<rect x="980.38" y="1372.29" width="19.51" height="14.65" fill="#C3C3F8" stroke="#9A9A9A" stroke-width="0.8"/>
<rect x="999.89" y="1372.29" width="19.51" height="14.65" fill="#CACAF9" stroke="#9A9A9A" stroke-width="0.8"/>
<rect x="707.2" y="1386.94" width="19.51" height="14.65" fill="#FF6B6B" stroke="#9A9A9A" stroke-width="0.8"/>
<rect x="726.71" y="1386.94" width="19.51" height="14.65" fill="#FF4F4F" stroke="#9A9A9A" stroke-width="0.8"/>
<rect x="746.23" y="1386.94" width="19.51" height="14.65" fill="#FFB5B5" stroke="#9A9A9A" stroke-width="0.8"/>
<rect x="765.74" y="1386.94" width="19.51" height="14.65" fill="#FFDADA" stroke="#9A9A9A" stroke-width="0.8"/>
<rect x="785.25" y="1386.94" width="19.51" height="14.65" fill="#CACAF9" stroke="#9A9A9A" stroke-width="0.8"/>
<rect x="804.76" y="1386.94" width="19.51" height="14.65" fill="#DADAFA" stroke="#9A9A9A" stroke-width="0.8"/>
<rect x="824.27" y="1386.94" width="19.51" height="14.65" fill="#FF4F4F" stroke="#9A9A9A" stroke-width="0.8"/>
<rect x="843.79" y="1386.94" width="19.51" height="14.65" fill="#D2D2FA" stroke="#9A9A9A" stroke-width="0.8"/>
<rect x="863.3" y="1386.94" width="19.51" height="14.65" fill="#D2D2FA" stroke="#9A9A9A" stroke-width="0.8"/>
<rect x="882.81" y="1386.94" width="19.51" height="14.65" fill="#D2D2FA" stroke="#9A9A9A" stroke-width="0.8"/>
<rect x="902.33" y="1386.94" width="19.51" height="14.65" fill="#CACAF9" stroke="#9A9A9A" stroke-width="0.8"/>
<rect x="921.84" y="1386.94" width="19.51" height="14.65" fill="#CACAF9" stroke="#9A9A9A" stroke-width="0.8"/>
<rect x="941.35" y="1386.94" width="19.51" height="14.65" fill="#CACAF9" stroke="#9A9A9A" stroke-width="0.8"/>
<rect x="960.86" y="1386.94" width="19.51" height="14.65" fill="#E8E8FC" stroke="#9A9A9A" stroke-width="0.8"/>
<rect x="980.38" y="1386.94" width="19.51" height="14.65" fill="#CACAF9" stroke="#9A9A9A" stroke-width="0.8"/>
<rect x="999.89" y="1386.94" width="19.51" height="14.65" fill="#D2D2FA" stroke="#9A9A9A" stroke-width="0.8"/>
<rect x="707.2" y="1401.59" width="19.51" height="14.65" fill="#FF9090" stroke="#9A9A9A" stroke-width="0.8"/>
<rect x="726.71" y="1401.59" width="19.51" height="14.65" fill="#FFB5B5" stroke="#9A9A9A" stroke-width="0.8"/>
<rect x="746.23" y="1401.59" width="19.51" height="14.65" fill="#F8F8FE" stroke="#9A9A9A" stroke-width="0.8"/>
<rect x="765.74" y="1401.59" width="19.51" height="14.65" fill="#FFDADA" stroke="#9A9A9A" stroke-width="0.8"/>
<rect x="785.25" y="1401.59" width="19.51" height="14.65" fill="#FF8686" stroke="#9A9A9A" stroke-width="0.8"/>
<rect x="804.76" y="1401.59" width="19.51" height="14.65" fill="#FFE3E3" stroke="#9A9A9A" stroke-width="0.8"/>
<rect x="824.27" y="1401.59" width="19.51" height="14.65" fill="#FFACAC" stroke="#9A9A9A" stroke-width="0.8"/>
<rect x="843.79" y="1401.59" width="19.51" height="14.65" fill="#FF7D7D" stroke="#9A9A9A" stroke-width="0.8"/>
<rect x="863.3" y="1401.59" width="19.51" height="14.65" fill="#F8F8FE" stroke="#9A9A9A" stroke-width="0.8"/>
<rect x="882.81" y="1401.59" width="19.51" height="14.65" fill="#E8E8FC" stroke="#9A9A9A" stroke-width="0.8"/>
<rect x="902.33" y="1401.59" width="19.51" height="14.65" fill="#FFACAC" stroke="#9A9A9A" stroke-width="0.8"/>
<rect x="921.84" y="1401.59" width="19.51" height="14.65" fill="#A5A5F4" stroke="#9A9A9A" stroke-width="0.8"/>
<rect x="941.35" y="1401.59" width="19.51" height="14.65" fill="#8E8EF2" stroke="#9A9A9A" stroke-width="0.8"/>
<rect x="960.86" y="1401.59" width="19.51" height="14.65" fill="#BCBCF7" stroke="#9A9A9A" stroke-width="0.8"/>
<rect x="980.38" y="1401.59" width="19.51" height="14.65" fill="#8787F1" stroke="#9A9A9A" stroke-width="0.8"/>
<rect x="999.89" y="1401.59" width="19.51" height="14.65" fill="#8080F0" stroke="#9A9A9A" stroke-width="0.8"/>
<rect x="707.2" y="1416.23" width="19.51" height="14.65" fill="#FFBEBE" stroke="#9A9A9A" stroke-width="0.8"/>
<rect x="726.71" y="1416.23" width="19.51" height="14.65" fill="#FFD1D1" stroke="#9A9A9A" stroke-width="0.8"/>
<rect x="746.23" y="1416.23" width="19.51" height="14.65" fill="#E1E1FB" stroke="#9A9A9A" stroke-width="0.8"/>
<rect x="765.74" y="1416.23" width="19.51" height="14.65" fill="#FF9090" stroke="#9A9A9A" stroke-width="0.8"/>
<rect x="785.25" y="1416.23" width="19.51" height="14.65" fill="#FFDADA" stroke="#9A9A9A" stroke-width="0.8"/>
<rect x="804.76" y="1416.23" width="19.51" height="14.65" fill="#FF3333" stroke="#9A9A9A" stroke-width="0.8"/>
<rect x="824.27" y="1416.23" width="19.51" height="14.65" fill="#FF6161" stroke="#9A9A9A" stroke-width="0.8"/>
<rect x="843.79" y="1416.23" width="19.51" height="14.65" fill="#CACAF9" stroke="#9A9A9A" stroke-width="0.8"/>
<rect x="863.3" y="1416.23" width="19.51" height="14.65" fill="#CACAF9" stroke="#9A9A9A" stroke-width="0.8"/>
<rect x="882.81" y="1416.23" width="19.51" height="14.65" fill="#CACAF9" stroke="#9A9A9A" stroke-width="0.8"/>
<rect x="902.33" y="1416.23" width="19.51" height="14.65" fill="#CACAF9" stroke="#9A9A9A" stroke-width="0.8"/>
<rect x="921.84" y="1416.23" width="19.51" height="14.65" fill="#CACAF9" stroke="#9A9A9A" stroke-width="0.8"/>
<rect x="941.35" y="1416.23" width="19.51" height="14.65" fill="#CACAF9" stroke="#9A9A9A" stroke-width="0.8"/>
<rect x="960.86" y="1416.23" width="19.51" height="14.65" fill="#D2D2FA" stroke="#9A9A9A" stroke-width="0.8"/>
<rect x="980.38" y="1416.23" width="19.51" height="14.65" fill="#D2D2FA" stroke="#9A9A9A" stroke-width="0.8"/>
<rect x="999.89" y="1416.23" width="19.51" height="14.65" fill="#D2D2FA" stroke="#9A9A9A" stroke-width="0.8"/>
<rect x="707.2" y="1430.88" width="19.51" height="14.65" fill="#F8F8FE" stroke="#9A9A9A" stroke-width="0.8"/>
<rect x="726.71" y="1430.88" width="19.51" height="14.65" fill="#FFE3E3" stroke="#9A9A9A" stroke-width="0.8"/>
<rect x="746.23" y="1430.88" width="19.51" height="14.65" fill="#FF9090" stroke="#9A9A9A" stroke-width="0.8"/>
<rect x="765.74" y="1430.88" width="19.51" height="14.65" fill="#FF0E0E" stroke="#9A9A9A" stroke-width="0.8"/>
<rect x="785.25" y="1430.88" width="19.51" height="14.65" fill="#FF7474" stroke="#9A9A9A" stroke-width="0.8"/>
<rect x="804.76" y="1430.88" width="19.51" height="14.65" fill="#FFB5B5" stroke="#9A9A9A" stroke-width="0.8"/>
<rect x="824.27" y="1430.88" width="19.51" height="14.65" fill="#D2D2FA" stroke="#9A9A9A" stroke-width="0.8"/>
<rect x="843.79" y="1430.88" width="19.51" height="14.65" fill="#C3C3F8" stroke="#9A9A9A" stroke-width="0.8"/>
<rect x="863.3" y="1430.88" width="19.51" height="14.65" fill="#D2D2FA" stroke="#9A9A9A" stroke-width="0.8"/>
<rect x="882.81" y="1430.88" width="19.51" height="14.65" fill="#F8F8FE" stroke="#9A9A9A" stroke-width="0.8"/>
<rect x="902.33" y="1430.88" width="19.51" height="14.65" fill="#CACAF9" stroke="#9A9A9A" stroke-width="0.8"/>
<rect x="921.84" y="1430.88" width="19.51" height="14.65" fill="#C3C3F8" stroke="#9A9A9A" stroke-width="0.8"/>
<rect x="941.35" y="1430.88" width="19.51" height="14.65" fill="#CACAF9" stroke="#9A9A9A" stroke-width="0.8"/>
<rect x="960.86" y="1430.88" width="19.51" height="14.65" fill="#F0F0FD" stroke="#9A9A9A" stroke-width="0.8"/>
<rect x="980.38" y="1430.88" width="19.51" height="14.65" fill="#C3C3F8" stroke="#9A9A9A" stroke-width="0.8"/>
<rect x="999.89" y="1430.88" width="19.51" height="14.65" fill="#C3C3F8" stroke="#9A9A9A" stroke-width="0.8"/>
<rect x="707.2" y="1445.53" width="19.51" height="14.65" fill="#DADAFA" stroke="#9A9A9A" stroke-width="0.8"/>
<rect x="726.71" y="1445.53" width="19.51" height="14.65" fill="#DADAFA" stroke="#9A9A9A" stroke-width="0.8"/>
<rect x="746.23" y="1445.53" width="19.51" height="14.65" fill="#DADAFA" stroke="#9A9A9A" stroke-width="0.8"/>
<rect x="765.74" y="1445.53" width="19.51" height="14.65" fill="#D2D2FA" stroke="#9A9A9A" stroke-width="0.8"/>
<rect x="785.25" y="1445.53" width="19.51" height="14.65" fill="#D2D2FA" stroke="#9A9A9A" stroke-width="0.8"/>
<rect x="804.76" y="1445.53" width="19.51" height="14.65" fill="#D2D2FA" stroke="#9A9A9A" stroke-width="0.8"/>
<rect x="824.27" y="1445.53" width="19.51" height="14.65" fill="#D2D2FA" stroke="#9A9A9A" stroke-width="0.8"/>
<rect x="843.79" y="1445.53" width="19.51" height="14.65" fill="#D2D2FA" stroke="#9A9A9A" stroke-width="0.8"/>
<rect x="863.3" y="1445.53" width="19.51" height="14.65" fill="#D2D2FA" stroke="#9A9A9A" stroke-width="0.8"/>
<rect x="882.81" y="1445.53" width="19.51" height="14.65" fill="#D2D2FA" stroke="#9A9A9A" stroke-width="0.8"/>
<rect x="902.33" y="1445.53" width="19.51" height="14.65" fill="#D2D2FA" stroke="#9A9A9A" stroke-width="0.8"/>
<rect x="921.84" y="1445.53" width="19.51" height="14.65" fill="#FF3333" stroke="#9A9A9A" stroke-width="0.8"/>
<rect x="941.35" y="1445.53" width="19.51" height="14.65" fill="#FF3333" stroke="#9A9A9A" stroke-width="0.8"/>
<rect x="960.86" y="1445.53" width="19.51" height="14.65" fill="#DADAFA" stroke="#9A9A9A" stroke-width="0.8"/>
<rect x="980.38" y="1445.53" width="19.51" height="14.65" fill="#FF9999" stroke="#9A9A9A" stroke-width="0.8"/>
<rect x="999.89" y="1445.53" width="19.51" height="14.65" fill="#FF9999" stroke="#9A9A9A" stroke-width="0.8"/>
<rect x="707.2" y="1460.18" width="19.51" height="14.65" fill="#BCBCF7" stroke="#9A9A9A" stroke-width="0.8"/>
<rect x="726.71" y="1460.18" width="19.51" height="14.65" fill="#FFD1D1" stroke="#9A9A9A" stroke-width="0.8"/>
<rect x="746.23" y="1460.18" width="19.51" height="14.65" fill="#FFD1D1" stroke="#9A9A9A" stroke-width="0.8"/>
<rect x="765.74" y="1460.18" width="19.51" height="14.65" fill="#C3C3F8" stroke="#9A9A9A" stroke-width="0.8"/>
<rect x="785.25" y="1460.18" width="19.51" height="14.65" fill="#C3C3F8" stroke="#9A9A9A" stroke-width="0.8"/>
<rect x="804.76" y="1460.18" width="19.51" height="14.65" fill="#C3C3F8" stroke="#9A9A9A" stroke-width="0.8"/>
<rect x="824.27" y="1460.18" width="19.51" height="14.65" fill="#C3C3F8" stroke="#9A9A9A" stroke-width="0.8"/>
<rect x="843.79" y="1460.18" width="19.51" height="14.65" fill="#C3C3F8" stroke="#9A9A9A" stroke-width="0.8"/>
<rect x="863.3" y="1460.18" width="19.51" height="14.65" fill="#FF3333" stroke="#9A9A9A" stroke-width="0.8"/>
<rect x="882.81" y="1460.18" width="19.51" height="14.65" fill="#FFC7C7" stroke="#9A9A9A" stroke-width="0.8"/>
<rect x="902.33" y="1460.18" width="19.51" height="14.65" fill="#BCBCF7" stroke="#9A9A9A" stroke-width="0.8"/>
<rect x="921.84" y="1460.18" width="19.51" height="14.65" fill="#FF6B6B" stroke="#9A9A9A" stroke-width="0.8"/>
<rect x="941.35" y="1460.18" width="19.51" height="14.65" fill="#FFA2A2" stroke="#9A9A9A" stroke-width="0.8"/>
<rect x="960.86" y="1460.18" width="19.51" height="14.65" fill="#FFD1D1" stroke="#9A9A9A" stroke-width="0.8"/>
<rect x="980.38" y="1460.18" width="19.51" height="14.65" fill="#E1E1FB" stroke="#9A9A9A" stroke-width="0.8"/>
<rect x="999.89" y="1460.18" width="19.51" height="14.65" fill="#C3C3F8" stroke="#9A9A9A" stroke-width="0.8"/>
<rect x="707.2" y="1474.82" width="19.51" height="14.65" fill="#CACAF9" stroke="#9A9A9A" stroke-width="0.8"/>
<rect x="726.71" y="1474.82" width="19.51" height="14.65" fill="#CACAF9" stroke="#9A9A9A" stroke-width="0.8"/>
<rect x="746.23" y="1474.82" width="19.51" height="14.65" fill="#FFD1D1" stroke="#9A9A9A" stroke-width="0.8"/>
<rect x="765.74" y="1474.82" width="19.51" height="14.65" fill="#CACAF9" stroke="#9A9A9A" stroke-width="0.8"/>
<rect x="785.25" y="1474.82" width="19.51" height="14.65" fill="#CACAF9" stroke="#9A9A9A" stroke-width="0.8"/>
<rect x="804.76" y="1474.82" width="19.51" height="14.65" fill="#CACAF9" stroke="#9A9A9A" stroke-width="0.8"/>
<rect x="824.27" y="1474.82" width="19.51" height="14.65" fill="#CACAF9" stroke="#9A9A9A" stroke-width="0.8"/>
<rect x="843.79" y="1474.82" width="19.51" height="14.65" fill="#CACAF9" stroke="#9A9A9A" stroke-width="0.8"/>
<rect x="863.3" y="1474.82" width="19.51" height="14.65" fill="#FFE3E3" stroke="#9A9A9A" stroke-width="0.8"/>
<rect x="882.81" y="1474.82" width="19.51" height="14.65" fill="#FFD1D1" stroke="#9A9A9A" stroke-width="0.8"/>
<rect x="902.33" y="1474.82" width="19.51" height="14.65" fill="#C3C3F8" stroke="#9A9A9A" stroke-width="0.8"/>
<rect x="921.84" y="1474.82" width="19.51" height="14.65" fill="#FF2A2A" stroke="#9A9A9A" stroke-width="0.8"/>
<rect x="941.35" y="1474.82" width="19.51" height="14.65" fill="#FFDADA" stroke="#9A9A9A" stroke-width="0.8"/>
<rect x="960.86" y="1474.82" width="19.51" height="14.65" fill="#FF2A2A" stroke="#9A9A9A" stroke-width="0.8"/>
<rect x="980.38" y="1474.82" width="19.51" height="14.65" fill="#CACAF9" stroke="#9A9A9A" stroke-width="0.8"/>
<rect x="999.89" y="1474.82" width="19.51" height="14.65" fill="#C3C3F8" stroke="#9A9A9A" stroke-width="0.8"/>
<rect x="707.2" y="1489.47" width="19.51" height="14.65" fill="#CACAF9" stroke="#9A9A9A" stroke-width="0.8"/>
<rect x="726.71" y="1489.47" width="19.51" height="14.65" fill="#BCBCF7" stroke="#9A9A9A" stroke-width="0.8"/>
<rect x="746.23" y="1489.47" width="19.51" height="14.65" fill="#BCBCF7" stroke="#9A9A9A" stroke-width="0.8"/>
<rect x="765.74" y="1489.47" width="19.51" height="14.65" fill="#BCBCF7" stroke="#9A9A9A" stroke-width="0.8"/>
<rect x="785.25" y="1489.47" width="19.51" height="14.65" fill="#BCBCF7" stroke="#9A9A9A" stroke-width="0.8"/>
<rect x="804.76" y="1489.47" width="19.51" height="14.65" fill="#BCBCF7" stroke="#9A9A9A" stroke-width="0.8"/>
<rect x="824.27" y="1489.47" width="19.51" height="14.65" fill="#BCBCF7" stroke="#9A9A9A" stroke-width="0.8"/>
<rect x="843.79" y="1489.47" width="19.51" height="14.65" fill="#FFFFFF" stroke="#9A9A9A" stroke-width="0.8"/>
<rect x="863.3" y="1489.47" width="19.51" height="14.65" fill="#E1E1FB" stroke="#9A9A9A" stroke-width="0.8"/>
<rect x="882.81" y="1489.47" width="19.51" height="14.65" fill="#FFB5B5" stroke="#9A9A9A" stroke-width="0.8"/>
<rect x="902.33" y="1489.47" width="19.51" height="14.65" fill="#DADAFA" stroke="#9A9A9A" stroke-width="0.8"/>
<rect x="921.84" y="1489.47" width="19.51" height="14.65" fill="#FFFFFF" stroke="#9A9A9A" stroke-width="0.8"/>
<rect x="941.35" y="1489.47" width="19.51" height="14.65" fill="#FFB5B5" stroke="#9A9A9A" stroke-width="0.8"/>
<rect x="960.86" y="1489.47" width="19.51" height="14.65" fill="#FF3333" stroke="#9A9A9A" stroke-width="0.8"/>
<rect x="980.38" y="1489.47" width="19.51" height="14.65" fill="#FF5858" stroke="#9A9A9A" stroke-width="0.8"/>
<rect x="999.89" y="1489.47" width="19.51" height="14.65" fill="#FF9090" stroke="#9A9A9A" stroke-width="0.8"/>
<rect x="707.2" y="1504.12" width="19.51" height="14.65" fill="#E8E8FC" stroke="#9A9A9A" stroke-width="0.8"/>
<rect x="726.71" y="1504.12" width="19.51" height="14.65" fill="#E8E8FC" stroke="#9A9A9A" stroke-width="0.8"/>
<rect x="746.23" y="1504.12" width="19.51" height="14.65" fill="#C3C3F8" stroke="#9A9A9A" stroke-width="0.8"/>
<rect x="765.74" y="1504.12" width="19.51" height="14.65" fill="#E1E1FB" stroke="#9A9A9A" stroke-width="0.8"/>
<rect x="785.25" y="1504.12" width="19.51" height="14.65" fill="#BCBCF7" stroke="#9A9A9A" stroke-width="0.8"/>
<rect x="804.76" y="1504.12" width="19.51" height="14.65" fill="#BCBCF7" stroke="#9A9A9A" stroke-width="0.8"/>
<rect x="824.27" y="1504.12" width="19.51" height="14.65" fill="#C3C3F8" stroke="#9A9A9A" stroke-width="0.8"/>
<rect x="843.79" y="1504.12" width="19.51" height="14.65" fill="#F0F0FD" stroke="#9A9A9A" stroke-width="0.8"/>
<rect x="863.3" y="1504.12" width="19.51" height="14.65" fill="#FFD1D1" stroke="#9A9A9A" stroke-width="0.8"/>
<rect x="882.81" y="1504.12" width="19.51" height="14.65" fill="#F8F8FE" stroke="#9A9A9A" stroke-width="0.8"/>
<rect x="902.33" y="1504.12" width="19.51" height="14.65" fill="#BCBCF7" stroke="#9A9A9A" stroke-width="0.8"/>
<rect x="921.84" y="1504.12" width="19.51" height="14.65" fill="#BCBCF7" stroke="#9A9A9A" stroke-width="0.8"/>
<rect x="941.35" y="1504.12" width="19.51" height="14.65" fill="#C3C3F8" stroke="#9A9A9A" stroke-width="0.8"/>
<rect x="960.86" y="1504.12" width="19.51" height="14.65" fill="#FF1717" stroke="#9A9A9A" stroke-width="0.8"/>
<rect x="980.38" y="1504.12" width="19.51" height="14.65" fill="#FF4F4F" stroke="#9A9A9A" stroke-width="0.8"/>
<rect x="999.89" y="1504.12" width="19.51" height="14.65" fill="#FF7D7D" stroke="#9A9A9A" stroke-width="0.8"/>
<rect x="707.2" y="1518.77" width="19.51" height="14.65" fill="#CACAF9" stroke="#9A9A9A" stroke-width="0.8"/>
<rect x="726.71" y="1518.77" width="19.51" height="14.65" fill="#CACAF9" stroke="#9A9A9A" stroke-width="0.8"/>
<rect x="746.23" y="1518.77" width="19.51" height="14.65" fill="#BCBCF7" stroke="#9A9A9A" stroke-width="0.8"/>
<rect x="765.74" y="1518.77" width="19.51" height="14.65" fill="#BCBCF7" stroke="#9A9A9A" stroke-width="0.8"/>
<rect x="785.25" y="1518.77" width="19.51" height="14.65" fill="#BCBCF7" stroke="#9A9A9A" stroke-width="0.8"/>
<rect x="804.76" y="1518.77" width="19.51" height="14.65" fill="#E1E1FB" stroke="#9A9A9A" stroke-width="0.8"/>
<rect x="824.27" y="1518.77" width="19.51" height="14.65" fill="#DADAFA" stroke="#9A9A9A" stroke-width="0.8"/>
<rect x="843.79" y="1518.77" width="19.51" height="14.65" fill="#FF0E0E" stroke="#9A9A9A" stroke-width="0.8"/>
<rect x="863.3" y="1518.77" width="19.51" height="14.65" fill="#F0F0FD" stroke="#9A9A9A" stroke-width="0.8"/>
<rect x="882.81" y="1518.77" width="19.51" height="14.65" fill="#E1E1FB" stroke="#9A9A9A" stroke-width="0.8"/>
<rect x="902.33" y="1518.77" width="19.51" height="14.65" fill="#DADAFA" stroke="#9A9A9A" stroke-width="0.8"/>
<rect x="921.84" y="1518.77" width="19.51" height="14.65" fill="#F8F8FE" stroke="#9A9A9A" stroke-width="0.8"/>
<rect x="941.35" y="1518.77" width="19.51" height="14.65" fill="#CACAF9" stroke="#9A9A9A" stroke-width="0.8"/>
<rect x="960.86" y="1518.77" width="19.51" height="14.65" fill="#BCBCF7" stroke="#9A9A9A" stroke-width="0.8"/>
<rect x="980.38" y="1518.77" width="19.51" height="14.65" fill="#FF7D7D" stroke="#9A9A9A" stroke-width="0.8"/>
<rect x="999.89" y="1518.77" width="19.51" height="14.65" fill="#FF6B6B" stroke="#9A9A9A" stroke-width="0.8"/>
<rect x="707.2" y="1533.41" width="19.51" height="14.65" fill="#B4B4F6" stroke="#9A9A9A" stroke-width="0.8"/>
<rect x="726.71" y="1533.41" width="19.51" height="14.65" fill="#ACACF5" stroke="#9A9A9A" stroke-width="0.8"/>
<rect x="746.23" y="1533.41" width="19.51" height="14.65" fill="#B4B4F6" stroke="#9A9A9A" stroke-width="0.8"/>
<rect x="765.74" y="1533.41" width="19.51" height="14.65" fill="#ACACF5" stroke="#9A9A9A" stroke-width="0.8"/>
<rect x="785.25" y="1533.41" width="19.51" height="14.65" fill="#9E9EF3" stroke="#9A9A9A" stroke-width="0.8"/>
<rect x="804.76" y="1533.41" width="19.51" height="14.65" fill="#D2D2FA" stroke="#9A9A9A" stroke-width="0.8"/>
<rect x="824.27" y="1533.41" width="19.51" height="14.65" fill="#DADAFA" stroke="#9A9A9A" stroke-width="0.8"/>
<rect x="843.79" y="1533.41" width="19.51" height="14.65" fill="#FF6161" stroke="#9A9A9A" stroke-width="0.8"/>
<rect x="863.3" y="1533.41" width="19.51" height="14.65" fill="#F0F0FD" stroke="#9A9A9A" stroke-width="0.8"/>
<rect x="882.81" y="1533.41" width="19.51" height="14.65" fill="#FFE3E3" stroke="#9A9A9A" stroke-width="0.8"/>
<rect x="902.33" y="1533.41" width="19.51" height="14.65" fill="#FFD1D1" stroke="#9A9A9A" stroke-width="0.8"/>
<rect x="921.84" y="1533.41" width="19.51" height="14.65" fill="#FFE3E3" stroke="#9A9A9A" stroke-width="0.8"/>
<rect x="941.35" y="1533.41" width="19.51" height="14.65" fill="#CACAF9" stroke="#9A9A9A" stroke-width="0.8"/>
<rect x="960.86" y="1533.41" width="19.51" height="14.65" fill="#FF5858" stroke="#9A9A9A" stroke-width="0.8"/>
<rect x="980.38" y="1533.41" width="19.51" height="14.65" fill="#FF9999" stroke="#9A9A9A" stroke-width="0.8"/>
<rect x="999.89" y="1533.41" width="19.51" height="14.65" fill="#FF9090" stroke="#9A9A9A" stroke-width="0.8"/>
<rect x="707.2" y="1548.06" width="19.51" height="14.65" fill="#C3C3F8" stroke="#9A9A9A" stroke-width="0.8"/>
<rect x="726.71" y="1548.06" width="19.51" height="14.65" fill="#BCBCF7" stroke="#9A9A9A" stroke-width="0.8"/>
<rect x="746.23" y="1548.06" width="19.51" height="14.65" fill="#B4B4F6" stroke="#9A9A9A" stroke-width="0.8"/>
<rect x="765.74" y="1548.06" width="19.51" height="14.65" fill="#BCBCF7" stroke="#9A9A9A" stroke-width="0.8"/>
<rect x="785.25" y="1548.06" width="19.51" height="14.65" fill="#BCBCF7" stroke="#9A9A9A" stroke-width="0.8"/>
<rect x="804.76" y="1548.06" width="19.51" height="14.65" fill="#FFFFFF" stroke="#9A9A9A" stroke-width="0.8"/>
<rect x="824.27" y="1548.06" width="19.51" height="14.65" fill="#E8E8FC" stroke="#9A9A9A" stroke-width="0.8"/>
<rect x="843.79" y="1548.06" width="19.51" height="14.65" fill="#FF4646" stroke="#9A9A9A" stroke-width="0.8"/>
<rect x="863.3" y="1548.06" width="19.51" height="14.65" fill="#FFD1D1" stroke="#9A9A9A" stroke-width="0.8"/>
<rect x="882.81" y="1548.06" width="19.51" height="14.65" fill="#F8F8FE" stroke="#9A9A9A" stroke-width="0.8"/>
<rect x="902.33" y="1548.06" width="19.51" height="14.65" fill="#D2D2FA" stroke="#9A9A9A" stroke-width="0.8"/>
<rect x="921.84" y="1548.06" width="19.51" height="14.65" fill="#B4B4F6" stroke="#9A9A9A" stroke-width="0.8"/>
<rect x="941.35" y="1548.06" width="19.51" height="14.65" fill="#A5A5F4" stroke="#9A9A9A" stroke-width="0.8"/>
<rect x="960.86" y="1548.06" width="19.51" height="14.65" fill="#FF6161" stroke="#9A9A9A" stroke-width="0.8"/>
<rect x="980.38" y="1548.06" width="19.51" height="14.65" fill="#FF6161" stroke="#9A9A9A" stroke-width="0.8"/>
<rect x="999.89" y="1548.06" width="19.51" height="14.65" fill="#FFC7C7" stroke="#9A9A9A" stroke-width="0.8"/>
<rect x="707.2" y="1562.71" width="19.51" height="14.65" fill="#BCBCF7" stroke="#9A9A9A" stroke-width="0.8"/>
<rect x="726.71" y="1562.71" width="19.51" height="14.65" fill="#B4B4F6" stroke="#9A9A9A" stroke-width="0.8"/>
<rect x="746.23" y="1562.71" width="19.51" height="14.65" fill="#A5A5F4" stroke="#9A9A9A" stroke-width="0.8"/>
<rect x="765.74" y="1562.71" width="19.51" height="14.65" fill="#B4B4F6" stroke="#9A9A9A" stroke-width="0.8"/>
<rect x="785.25" y="1562.71" width="19.51" height="14.65" fill="#C3C3F8" stroke="#9A9A9A" stroke-width="0.8"/>
<rect x="804.76" y="1562.71" width="19.51" height="14.65" fill="#E1E1FB" stroke="#9A9A9A" stroke-width="0.8"/>
<rect x="824.27" y="1562.71" width="19.51" height="14.65" fill="#F0F0FD" stroke="#9A9A9A" stroke-width="0.8"/>
<rect x="843.79" y="1562.71" width="19.51" height="14.65" fill="#FF1717" stroke="#9A9A9A" stroke-width="0.8"/>
<rect x="863.3" y="1562.71" width="19.51" height="14.65" fill="#FFB5B5" stroke="#9A9A9A" stroke-width="0.8"/>
<rect x="882.81" y="1562.71" width="19.51" height="14.65" fill="#FFBEBE" stroke="#9A9A9A" stroke-width="0.8"/>
<rect x="902.33" y="1562.71" width="19.51" height="14.65" fill="#FFECEC" stroke="#9A9A9A" stroke-width="0.8"/>
<rect x="921.84" y="1562.71" width="19.51" height="14.65" fill="#FFD1D1" stroke="#9A9A9A" stroke-width="0.8"/>
<rect x="941.35" y="1562.71" width="19.51" height="14.65" fill="#D2D2FA" stroke="#9A9A9A" stroke-width="0.8"/>
<rect x="960.86" y="1562.71" width="19.51" height="14.65" fill="#FF6B6B" stroke="#9A9A9A" stroke-width="0.8"/>
<rect x="980.38" y="1562.71" width="19.51" height="14.65" fill="#F0F0FD" stroke="#9A9A9A" stroke-width="0.8"/>
<rect x="999.89" y="1562.71" width="19.51" height="14.65" fill="#E8E8FC" stroke="#9A9A9A" stroke-width="0.8"/>
<rect x="707.2" y="1577.36" width="19.51" height="14.65" fill="#BCBCF7" stroke="#9A9A9A" stroke-width="0.8"/>
<rect x="726.71" y="1577.36" width="19.51" height="14.65" fill="#B4B4F6" stroke="#9A9A9A" stroke-width="0.8"/>
<rect x="746.23" y="1577.36" width="19.51" height="14.65" fill="#ACACF5" stroke="#9A9A9A" stroke-width="0.8"/>
<rect x="765.74" y="1577.36" width="19.51" height="14.65" fill="#B4B4F6" stroke="#9A9A9A" stroke-width="0.8"/>
<rect x="785.25" y="1577.36" width="19.51" height="14.65" fill="#E1E1FB" stroke="#9A9A9A" stroke-width="0.8"/>
<rect x="804.76" y="1577.36" width="19.51" height="14.65" fill="#B4B4F6" stroke="#9A9A9A" stroke-width="0.8"/>
<rect x="824.27" y="1577.36" width="19.51" height="14.65" fill="#CACAF9" stroke="#9A9A9A" stroke-width="0.8"/>
<rect x="843.79" y="1577.36" width="19.51" height="14.65" fill="#FF4646" stroke="#9A9A9A" stroke-width="0.8"/>
<rect x="863.3" y="1577.36" width="19.51" height="14.65" fill="#FF9090" stroke="#9A9A9A" stroke-width="0.8"/>
<rect x="882.81" y="1577.36" width="19.51" height="14.65" fill="#FF6B6B" stroke="#9A9A9A" stroke-width="0.8"/>
<rect x="902.33" y="1577.36" width="19.51" height="14.65" fill="#FF9090" stroke="#9A9A9A" stroke-width="0.8"/>
<rect x="921.84" y="1577.36" width="19.51" height="14.65" fill="#FFD1D1" stroke="#9A9A9A" stroke-width="0.8"/>
<rect x="941.35" y="1577.36" width="19.51" height="14.65" fill="#E1E1FB" stroke="#9A9A9A" stroke-width="0.8"/>
<rect x="960.86" y="1577.36" width="19.51" height="14.65" fill="#FFFFFF" stroke="#9A9A9A" stroke-width="0.8"/>
<rect x="980.38" y="1577.36" width="19.51" height="14.65" fill="#F8F8FE" stroke="#9A9A9A" stroke-width="0.8"/>
<rect x="999.89" y="1577.36" width="19.51" height="14.65" fill="#E8E8FC" stroke="#9A9A9A" stroke-width="0.8"/>
<rect x="707.2" y="1592" width="19.51" height="14.65" fill="#BCBCF7" stroke="#9A9A9A" stroke-width="0.8"/>
<rect x="726.71" y="1592" width="19.51" height="14.65" fill="#B4B4F6" stroke="#9A9A9A" stroke-width="0.8"/>
<rect x="746.23" y="1592" width="19.51" height="14.65" fill="#9E9EF3" stroke="#9A9A9A" stroke-width="0.8"/>
<rect x="765.74" y="1592" width="19.51" height="14.65" fill="#B4B4F6" stroke="#9A9A9A" stroke-width="0.8"/>
<rect x="785.25" y="1592" width="19.51" height="14.65" fill="#BCBCF7" stroke="#9A9A9A" stroke-width="0.8"/>
<rect x="804.76" y="1592" width="19.51" height="14.65" fill="#FFECEC" stroke="#9A9A9A" stroke-width="0.8"/>
<rect x="824.27" y="1592" width="19.51" height="14.65" fill="#F0F0FD" stroke="#9A9A9A" stroke-width="0.8"/>
<rect x="843.79" y="1592" width="19.51" height="14.65" fill="#FF9999" stroke="#9A9A9A" stroke-width="0.8"/>
<rect x="863.3" y="1592" width="19.51" height="14.65" fill="#FF6B6B" stroke="#9A9A9A" stroke-width="0.8"/>
<rect x="882.81" y="1592" width="19.51" height="14.65" fill="#FFC7C7" stroke="#9A9A9A" stroke-width="0.8"/>
<rect x="902.33" y="1592" width="19.51" height="14.65" fill="#FF9090" stroke="#9A9A9A" stroke-width="0.8"/>
<rect x="921.84" y="1592" width="19.51" height="14.65" fill="#FFECEC" stroke="#9A9A9A" stroke-width="0.8"/>
<rect x="941.35" y="1592" width="19.51" height="14.65" fill="#BCBCF7" stroke="#9A9A9A" stroke-width="0.8"/>
<rect x="960.86" y="1592" width="19.51" height="14.65" fill="#CACAF9" stroke="#9A9A9A" stroke-width="0.8"/>
<rect x="980.38" y="1592" width="19.51" height="14.65" fill="#FF7D7D" stroke="#9A9A9A" stroke-width="0.8"/>
<rect x="999.89" y="1592" width="19.51" height="14.65" fill="#FF9090" stroke="#9A9A9A" stroke-width="0.8"/>
<rect x="707.2" y="1606.65" width="19.51" height="14.65" fill="#D2D2FA" stroke="#9A9A9A" stroke-width="0.8"/>
<rect x="726.71" y="1606.65" width="19.51" height="14.65" fill="#D2D2FA" stroke="#9A9A9A" stroke-width="0.8"/>
<rect x="746.23" y="1606.65" width="19.51" height="14.65" fill="#CACAF9" stroke="#9A9A9A" stroke-width="0.8"/>
<rect x="765.74" y="1606.65" width="19.51" height="14.65" fill="#CACAF9" stroke="#9A9A9A" stroke-width="0.8"/>
<rect x="785.25" y="1606.65" width="19.51" height="14.65" fill="#D2D2FA" stroke="#9A9A9A" stroke-width="0.8"/>
<rect x="804.76" y="1606.65" width="19.51" height="14.65" fill="#F0F0FD" stroke="#9A9A9A" stroke-width="0.8"/>
<rect x="824.27" y="1606.65" width="19.51" height="14.65" fill="#D2D2FA" stroke="#9A9A9A" stroke-width="0.8"/>
<rect x="843.79" y="1606.65" width="19.51" height="14.65" fill="#FF7474" stroke="#9A9A9A" stroke-width="0.8"/>
<rect x="863.3" y="1606.65" width="19.51" height="14.65" fill="#FF0505" stroke="#9A9A9A" stroke-width="0.8"/>
<rect x="882.81" y="1606.65" width="19.51" height="14.65" fill="#FFFFFF" stroke="#9A9A9A" stroke-width="0.8"/>
<rect x="902.33" y="1606.65" width="19.51" height="14.65" fill="#FFFFFF" stroke="#9A9A9A" stroke-width="0.8"/>
<rect x="921.84" y="1606.65" width="19.51" height="14.65" fill="#CACAF9" stroke="#9A9A9A" stroke-width="0.8"/>
<rect x="941.35" y="1606.65" width="19.51" height="14.65" fill="#BCBCF7" stroke="#9A9A9A" stroke-width="0.8"/>
<rect x="960.86" y="1606.65" width="19.51" height="14.65" fill="#FFD1D1" stroke="#9A9A9A" stroke-width="0.8"/>
<rect x="980.38" y="1606.65" width="19.51" height="14.65" fill="#FFE3E3" stroke="#9A9A9A" stroke-width="0.8"/>
<rect x="999.89" y="1606.65" width="19.51" height="14.65" fill="#FFDADA" stroke="#9A9A9A" stroke-width="0.8"/>
<text x="1022.7" y="1310.2" font-size="8.9" fill="#000" font-weight="bold">Group</text>
<text x="1022.7" y="1324.22" font-size="8.8" fill="#000" stroke="#000" stroke-width="0.18">Butyrivibrio</text>
<text x="1022.7" y="1338.87" font-size="8.8" fill="#000" stroke="#000" stroke-width="0.18">Family_XIII_AD3011_group</text>
<text x="1022.7" y="1353.52" font-size="8.8" fill="#000" stroke="#000" stroke-width="0.18">Ruminococcaceae_UCG_010</text>
<text x="1022.7" y="1368.17" font-size="8.8" fill="#000" stroke="#000" stroke-width="0.18">mouse_gut_metagenome</text>
<text x="1022.7" y="1382.81" font-size="8.8" fill="#000" stroke="#000" stroke-width="0.18">Prevotellaceae_UCG_001</text>
<text x="1022.7" y="1397.46" font-size="8.8" fill="#000" stroke="#000" stroke-width="0.18">Ruminococcus_1</text>
<text x="1022.7" y="1412.11" font-size="8.8" fill="#000" stroke="#000" stroke-width="0.18">Other</text>
<text x="1022.7" y="1426.76" font-size="8.8" fill="#000" stroke="#000" stroke-width="0.18">[Eubacterium]_ventriosum_group</text>
<text x="1022.7" y="1441.4" font-size="8.8" fill="#000" stroke="#000" stroke-width="0.18">[Eubacterium]_coprostanoligenes_group</text>
<text x="1022.7" y="1456.05" font-size="8.8" fill="#000" stroke="#000" stroke-width="0.18">Serratia</text>
<text x="1022.7" y="1470.7" font-size="8.8" fill="#000" stroke="#000" stroke-width="0.18">Enterococcus</text>
<text x="1022.7" y="1485.35" font-size="8.8" fill="#000" stroke="#000" stroke-width="0.18">Parvibacter</text>
<text x="1022.7" y="1500" font-size="8.8" fill="#000" stroke="#000" stroke-width="0.18">Staphylococcus</text>
<text x="1022.7" y="1514.64" font-size="8.8" fill="#000" stroke="#000" stroke-width="0.18">Tyzzerella</text>
<text x="1022.7" y="1529.29" font-size="8.8" fill="#000" stroke="#000" stroke-width="0.18">ASF356</text>
<text x="1022.7" y="1543.94" font-size="8.8" fill="#000" stroke="#000" stroke-width="0.18">Enterorhabdus</text>
<text x="1022.7" y="1558.59" font-size="8.8" fill="#000" stroke="#000" stroke-width="0.18">Intestinimonas</text>
<text x="1022.7" y="1573.23" font-size="8.8" fill="#000" stroke="#000" stroke-width="0.18">Lachnoclostridium</text>
<text x="1022.7" y="1587.88" font-size="8.8" fill="#000" stroke="#000" stroke-width="0.18">Ruminiclostridium_5</text>
<text x="1022.7" y="1602.53" font-size="8.8" fill="#000" stroke="#000" stroke-width="0.18">Lachnospiraceae_NK4A136_group</text>
<text x="1022.7" y="1617.18" font-size="8.8" fill="#000" stroke="#000" stroke-width="0.18">Acetatifactor</text>
<text x="713.96" y="1624.5" font-size="8.8" fill="#000" transform="rotate(90 713.96 1624.5)" stroke="#000" stroke-width="0.18">Aging.WS.3.7</text>
<text x="733.47" y="1624.5" font-size="8.8" fill="#000" transform="rotate(90 733.47 1624.5)" stroke="#000" stroke-width="0.18">Aging.WS.3.8</text>
<text x="752.98" y="1624.5" font-size="8.8" fill="#000" transform="rotate(90 752.98 1624.5)" stroke="#000" stroke-width="0.18">Aging.WS.3.5</text>
<text x="772.49" y="1624.5" font-size="8.8" fill="#000" transform="rotate(90 772.49 1624.5)" stroke="#000" stroke-width="0.18">Aging.WS.3.6</text>
<text x="792.01" y="1624.5" font-size="8.8" fill="#000" transform="rotate(90 792.01 1624.5)" stroke="#000" stroke-width="0.18">Aging.WS.3.3</text>
<text x="811.52" y="1624.5" font-size="8.8" fill="#000" transform="rotate(90 811.52 1624.5)" stroke="#000" stroke-width="0.18">Aging.WS.3.1</text>
<text x="831.03" y="1624.5" font-size="8.8" fill="#000" transform="rotate(90 831.03 1624.5)" stroke="#000" stroke-width="0.18">Aging.WS.3.2</text>
<text x="850.54" y="1624.5" font-size="8.8" fill="#000" transform="rotate(90 850.54 1624.5)" stroke="#000" stroke-width="0.18">Aging.SD.3.8</text>
<text x="870.06" y="1624.5" font-size="8.8" fill="#000" transform="rotate(90 870.06 1624.5)" stroke="#000" stroke-width="0.18">Aging.SD.3.2</text>
<text x="889.57" y="1624.5" font-size="8.8" fill="#000" transform="rotate(90 889.57 1624.5)" stroke="#000" stroke-width="0.18">Aging.SD.3.7</text>
<text x="909.08" y="1624.5" font-size="8.8" fill="#000" transform="rotate(90 909.08 1624.5)" stroke="#000" stroke-width="0.18">Aging.WS.3.4</text>
<text x="928.59" y="1624.5" font-size="8.8" fill="#000" transform="rotate(90 928.59 1624.5)" stroke="#000" stroke-width="0.18">Aging.SD.3.5</text>
<text x="948.11" y="1624.5" font-size="8.8" fill="#000" transform="rotate(90 948.11 1624.5)" stroke="#000" stroke-width="0.18">Aging.SD.3.6</text>
<text x="967.62" y="1624.5" font-size="8.8" fill="#000" transform="rotate(90 967.62 1624.5)" stroke="#000" stroke-width="0.18">Aging.SD.3.1</text>
<text x="987.13" y="1624.5" font-size="8.8" fill="#000" transform="rotate(90 987.13 1624.5)" stroke="#000" stroke-width="0.18">Aging.SD.3.3</text>
<text x="1006.64" y="1624.5" font-size="8.8" fill="#000" transform="rotate(90 1006.64 1624.5)" stroke="#000" stroke-width="0.18">Aging.SD.3.4</text>
<path d="M716.74 1301.78L716.74 1290.53M716.74 1290.53L736.26 1290.53M736.26 1290.53L736.26 1301.78M755.78 1301.78L755.78 1280.61M755.78 1280.61L775.29 1280.61M775.29 1280.61L775.29 1301.78M726.5 1290.53L726.5 1278.63M726.5 1278.63L765.53 1278.63M765.53 1278.63L765.53 1280.61M814.32 1301.78L814.32 1284.58M814.32 1284.58L833.84 1284.58M833.84 1284.58L833.84 1301.78M794.81 1301.78L794.81 1277.3M794.81 1277.3L824.08 1277.3M824.08 1277.3L824.08 1284.58M746.02 1278.63L746.02 1267.38M746.02 1267.38L809.36 1267.38M809.36 1267.38L809.36 1277.3M892.39 1301.78L892.39 1287.89M892.39 1287.89L911.91 1287.89M911.91 1287.89L911.91 1301.78M872.87 1301.78L872.87 1275.98M872.87 1275.98L902.15 1275.98M902.15 1275.98L902.15 1287.89M853.36 1301.78L853.36 1271.35M853.36 1271.35L887.43 1271.35M887.43 1271.35L887.43 1275.98M931.42 1301.78L931.42 1286.23M931.42 1286.23L950.94 1286.23M950.94 1286.23L950.94 1301.78M989.97 1301.78L989.97 1293.84M989.97 1293.84L1009.49 1293.84M1009.49 1293.84L1009.49 1301.78M970.46 1301.78L970.46 1272.34M970.46 1272.34L999.73 1272.34M999.73 1272.34L999.73 1293.84M941.18 1286.23L941.18 1266.39M941.18 1266.39L985.01 1266.39M985.01 1266.39L985.01 1272.34M870.39 1271.35L870.39 1257.46M870.39 1257.46L963.18 1257.46M963.18 1257.46L963.18 1266.39M777.61 1267.38L777.61 1249.85M777.61 1249.85L916.87 1249.85M916.87 1249.85L916.87 1257.46M707.15 1320.97L703.84 1320.97M703.84 1320.97L703.84 1335.62M703.84 1335.62L707.15 1335.62M707.15 1350.27L692.93 1350.27M692.93 1350.27L692.93 1364.93M692.93 1364.93L707.15 1364.93M703.84 1328.29L689.62 1328.29M689.62 1328.29L689.62 1357.6M689.62 1357.6L692.93 1357.6M707.15 1379.58L689.62 1379.58M689.62 1379.58L689.62 1394.24M689.62 1394.24L707.15 1394.24M689.62 1342.95L682.34 1342.95M682.34 1342.95L682.34 1386.91M682.34 1386.91L689.62 1386.91M707.15 1423.54L679.03 1423.54M679.03 1423.54L679.03 1438.2M679.03 1438.2L707.15 1438.2M707.15 1408.89L675.72 1408.89M675.72 1408.89L675.72 1430.87M675.72 1430.87L679.03 1430.87M682.34 1364.93L672.09 1364.93M672.09 1364.93L672.09 1419.88M672.09 1419.88L675.72 1419.88M707.15 1467.5L683.99 1467.5M683.99 1467.5L683.99 1482.16M683.99 1482.16L707.15 1482.16M707.15 1452.85L676.39 1452.85M676.39 1452.85L676.39 1474.83M676.39 1474.83L683.99 1474.83M707.15 1496.81L693.92 1496.81M693.92 1496.81L693.92 1511.47M693.92 1511.47L707.15 1511.47M707.15 1540.77L693.92 1540.77M693.92 1540.77L693.92 1555.43M693.92 1555.43L707.15 1555.43M707.15 1526.12L684.66 1526.12M684.66 1526.12L684.66 1548.1M684.66 1548.1L693.92 1548.1M707.15 1570.08L692.93 1570.08M692.93 1570.08L692.93 1584.74M692.93 1584.74L707.15 1584.74M707.15 1599.39L687.3 1599.39M687.3 1599.39L687.3 1614.04M687.3 1614.04L707.15 1614.04M692.93 1577.41L682.34 1577.41M682.34 1577.41L682.34 1606.72M682.34 1606.72L687.3 1606.72M684.66 1537.11L679.03 1537.11M679.03 1537.11L679.03 1592.06M679.03 1592.06L682.34 1592.06M693.92 1504.14L671.42 1504.14M671.42 1504.14L671.42 1564.59M671.42 1564.59L679.03 1564.59M676.39 1463.84L663.82 1463.84M663.82 1463.84L663.82 1534.36M663.82 1534.36L671.42 1534.36M672.09 1392.4L654.89 1392.4M654.89 1392.4L654.89 1499.1M654.89 1499.1L663.82 1499.1" fill="none" stroke="#222" stroke-width="1"/>
<defs><linearGradient id="hgrad" x1="0" y1="1" x2="0" y2="0"><stop offset="0" stop-color="#0000FF"/><stop offset="0.08" stop-color="#4A4AF2"/><stop offset="0.16" stop-color="#6868F0"/><stop offset="0.33" stop-color="#A8A8F4"/><stop offset="0.5" stop-color="#FFFFFF"/><stop offset="0.67" stop-color="#FF9D9D"/><stop offset="0.84" stop-color="#FF3A3A"/><stop offset="0.97" stop-color="#FF0000"/><stop offset="1" stop-color="#FF0000"/></linearGradient></defs>
<rect x="1187.5" y="1301" width="9.2" height="146.3" fill="url(#hgrad)"/>
<text x="1201.4" y="1327.8" font-size="9.6" fill="#000" stroke="#000" stroke-width="0.18">2</text>
<text x="1201.4" y="1352.5" font-size="9.6" fill="#000" stroke="#000" stroke-width="0.18">1</text>
<text x="1201.4" y="1377.5" font-size="9.6" fill="#000" stroke="#000" stroke-width="0.18">0</text>
<text x="1201.4" y="1402.9" font-size="9.6" fill="#000" stroke="#000" stroke-width="0.18">−1</text>
<text x="1201.4" y="1428" font-size="9.6" fill="#000" stroke="#000" stroke-width="0.18">−2</text>
<text x="1213" y="1307.3" font-size="8.7" fill="#000" font-weight="bold">Group</text>
<rect x="1213" y="1311" width="12" height="11.6" fill="#00CED1" stroke="#fff" stroke-width="0.5"/>
<rect x="1213" y="1323.6" width="12" height="11.6" fill="#F8877F" stroke="#fff" stroke-width="0.5"/>
<text x="1227.5" y="1320.2" font-size="9" fill="#000" stroke="#000" stroke-width="0.18">Aging_SD_3</text>
<text x="1227.5" y="1332.7" font-size="9" fill="#000" stroke="#000" stroke-width="0.18">Aging_WS_3</text>
<text x="0" y="0" font-size="60" font-weight="bold" transform="matrix(0.9425 0 0 1.0097 1302.23 1254.70)">I</text>
<text x="1593" y="1263.8" font-size="13.1" fill="#000" text-anchor="middle" stroke="#000" stroke-width="0.18">diff_genus_top10_boxplot</text>
<rect x="1335.78" y="1314.71" width="22.66" height="360.45" fill="#EBEBEB"/>
<line x1="1335.78" y1="1659.48" x2="1358.44" y2="1659.48" stroke="#fff" stroke-width="0.9"/>
<line x1="1335.78" y1="1549.67" x2="1358.44" y2="1549.67" stroke="#fff" stroke-width="0.9"/>
<line x1="1335.78" y1="1440.56" x2="1358.44" y2="1440.56" stroke="#fff" stroke-width="0.9"/>
<line x1="1335.78" y1="1331.09" x2="1358.44" y2="1331.09" stroke="#fff" stroke-width="0.9"/>
<line x1="1347.28" y1="1314.71" x2="1347.28" y2="1675.16" stroke="#fff" stroke-width="0.9"/>
<line x1="1332.28" y1="1659.48" x2="1335.78" y2="1659.48" stroke="#555" stroke-width="1"/>
<text x="1329.78" y="1662.98" font-size="9.8" fill="#7A7A7A" text-anchor="end" stroke="#7A7A7A" stroke-width="0.18">0.00</text>
<line x1="1332.28" y1="1549.67" x2="1335.78" y2="1549.67" stroke="#555" stroke-width="1"/>
<text x="1329.78" y="1553.17" font-size="9.8" fill="#7A7A7A" text-anchor="end" stroke="#7A7A7A" stroke-width="0.18">0.01</text>
<line x1="1332.28" y1="1440.56" x2="1335.78" y2="1440.56" stroke="#555" stroke-width="1"/>
<text x="1329.78" y="1444.06" font-size="9.8" fill="#7A7A7A" text-anchor="end" stroke="#7A7A7A" stroke-width="0.18">0.02</text>
<line x1="1332.28" y1="1331.09" x2="1335.78" y2="1331.09" stroke="#555" stroke-width="1"/>
<text x="1329.78" y="1334.59" font-size="9.8" fill="#7A7A7A" text-anchor="end" stroke="#7A7A7A" stroke-width="0.18">0.03</text>
<line x1="1342.75" y1="1589.76" x2="1342.75" y2="1620.43" stroke="#333" stroke-width="1"/>
<line x1="1342.75" y1="1659.48" x2="1342.75" y2="1659.48" stroke="#333" stroke-width="1"/>
<rect x="1338.22" y="1620.43" width="9.06" height="39.04" fill="#F8766D" stroke="#333" stroke-width="1"/>
<line x1="1338.22" y1="1659.48" x2="1347.28" y2="1659.48" stroke="#333" stroke-width="1.8"/>
<line x1="1351.99" y1="1331.09" x2="1351.99" y2="1460.08" stroke="#333" stroke-width="1"/>
<line x1="1351.99" y1="1605.44" x2="1351.99" y2="1646.58" stroke="#333" stroke-width="1"/>
<rect x="1347.28" y="1460.08" width="9.41" height="145.37" fill="#00BFC4" stroke="#333" stroke-width="1"/>
<line x1="1347.28" y1="1549.67" x2="1356.69" y2="1549.67" stroke="#333" stroke-width="1.8"/>
<line x1="1347.28" y1="1675.16" x2="1347.28" y2="1678.16" stroke="#555" stroke-width="0.9"/>
<text x="1347.28" y="1687.02" font-size="7.4" fill="#666" text-anchor="middle" font-weight="bold">P=1.32e−02</text>
<rect x="1386.32" y="1314.71" width="22.66" height="360.45" fill="#EBEBEB"/>
<line x1="1386.32" y1="1659.83" x2="1408.98" y2="1659.83" stroke="#fff" stroke-width="0.9"/>
<line x1="1386.32" y1="1596.38" x2="1408.98" y2="1596.38" stroke="#fff" stroke-width="0.9"/>
<line x1="1386.32" y1="1532.94" x2="1408.98" y2="1532.94" stroke="#fff" stroke-width="0.9"/>
<line x1="1386.32" y1="1469.14" x2="1408.98" y2="1469.14" stroke="#fff" stroke-width="0.9"/>
<line x1="1386.32" y1="1405.35" x2="1408.98" y2="1405.35" stroke="#fff" stroke-width="0.9"/>
<line x1="1386.32" y1="1342.25" x2="1408.98" y2="1342.25" stroke="#fff" stroke-width="0.9"/>
<line x1="1397.83" y1="1314.71" x2="1397.83" y2="1675.16" stroke="#fff" stroke-width="0.9"/>
<line x1="1382.82" y1="1659.83" x2="1386.32" y2="1659.83" stroke="#555" stroke-width="1"/>
<text x="1380.32" y="1663.33" font-size="9.8" fill="#7A7A7A" text-anchor="end" stroke="#7A7A7A" stroke-width="0.18">0.00</text>
<line x1="1382.82" y1="1596.38" x2="1386.32" y2="1596.38" stroke="#555" stroke-width="1"/>
<text x="1380.32" y="1599.88" font-size="9.8" fill="#7A7A7A" text-anchor="end" stroke="#7A7A7A" stroke-width="0.18">0.01</text>
<line x1="1382.82" y1="1532.94" x2="1386.32" y2="1532.94" stroke="#555" stroke-width="1"/>
<text x="1380.32" y="1536.44" font-size="9.8" fill="#7A7A7A" text-anchor="end" stroke="#7A7A7A" stroke-width="0.18">0.02</text>
<line x1="1382.82" y1="1469.14" x2="1386.32" y2="1469.14" stroke="#555" stroke-width="1"/>
<text x="1380.32" y="1472.64" font-size="9.8" fill="#7A7A7A" text-anchor="end" stroke="#7A7A7A" stroke-width="0.18">0.03</text>
<line x1="1382.82" y1="1405.35" x2="1386.32" y2="1405.35" stroke="#555" stroke-width="1"/>
<text x="1380.32" y="1408.85" font-size="9.8" fill="#7A7A7A" text-anchor="end" stroke="#7A7A7A" stroke-width="0.18">0.04</text>
<line x1="1382.82" y1="1342.25" x2="1386.32" y2="1342.25" stroke="#555" stroke-width="1"/>
<text x="1380.32" y="1345.75" font-size="9.8" fill="#7A7A7A" text-anchor="end" stroke="#7A7A7A" stroke-width="0.18">0.05</text>
<line x1="1393.3" y1="1331.09" x2="1393.3" y2="1446.13" stroke="#333" stroke-width="1"/>
<line x1="1393.3" y1="1609.28" x2="1393.3" y2="1651.11" stroke="#333" stroke-width="1"/>
<rect x="1388.76" y="1446.13" width="9.06" height="163.15" fill="#F8766D" stroke="#333" stroke-width="1"/>
<line x1="1388.76" y1="1587.32" x2="1397.83" y2="1587.32" stroke="#333" stroke-width="1.8"/>
<line x1="1402.19" y1="1598.82" x2="1402.19" y2="1618.69" stroke="#333" stroke-width="1"/>
<line x1="1402.19" y1="1655.99" x2="1402.19" y2="1658.78" stroke="#333" stroke-width="1"/>
<rect x="1397.83" y="1618.69" width="8.72" height="37.3" fill="#00BFC4" stroke="#333" stroke-width="1"/>
<line x1="1397.83" y1="1639.96" x2="1406.54" y2="1639.96" stroke="#333" stroke-width="1.8"/>
<line x1="1397.83" y1="1675.16" x2="1397.83" y2="1678.16" stroke="#555" stroke-width="0.9"/>
<text x="1397.83" y="1687.02" font-size="7.4" fill="#666" text-anchor="middle" font-weight="bold">P=3.15e−02</text>
<rect x="1436.87" y="1314.71" width="22.66" height="360.45" fill="#EBEBEB"/>
<line x1="1436.87" y1="1659.48" x2="1459.53" y2="1659.48" stroke="#fff" stroke-width="0.9"/>
<line x1="1436.87" y1="1589.06" x2="1459.53" y2="1589.06" stroke="#fff" stroke-width="0.9"/>
<line x1="1436.87" y1="1518.64" x2="1459.53" y2="1518.64" stroke="#fff" stroke-width="0.9"/>
<line x1="1436.87" y1="1448.57" x2="1459.53" y2="1448.57" stroke="#fff" stroke-width="0.9"/>
<line x1="1436.87" y1="1378.16" x2="1459.53" y2="1378.16" stroke="#fff" stroke-width="0.9"/>
<line x1="1448.37" y1="1314.71" x2="1448.37" y2="1675.16" stroke="#fff" stroke-width="0.9"/>
<line x1="1433.37" y1="1659.48" x2="1436.87" y2="1659.48" stroke="#555" stroke-width="1"/>
<text x="1430.87" y="1662.98" font-size="9.8" fill="#7A7A7A" text-anchor="end" stroke="#7A7A7A" stroke-width="0.18">0.00</text>
<line x1="1433.37" y1="1589.06" x2="1436.87" y2="1589.06" stroke="#555" stroke-width="1"/>
<text x="1430.87" y="1592.56" font-size="9.8" fill="#7A7A7A" text-anchor="end" stroke="#7A7A7A" stroke-width="0.18">0.01</text>
<line x1="1433.37" y1="1518.64" x2="1436.87" y2="1518.64" stroke="#555" stroke-width="1"/>
<text x="1430.87" y="1522.14" font-size="9.8" fill="#7A7A7A" text-anchor="end" stroke="#7A7A7A" stroke-width="0.18">0.02</text>
<line x1="1433.37" y1="1448.57" x2="1436.87" y2="1448.57" stroke="#555" stroke-width="1"/>
<text x="1430.87" y="1452.07" font-size="9.8" fill="#7A7A7A" text-anchor="end" stroke="#7A7A7A" stroke-width="0.18">0.03</text>
<line x1="1433.37" y1="1378.16" x2="1436.87" y2="1378.16" stroke="#555" stroke-width="1"/>
<text x="1430.87" y="1381.66" font-size="9.8" fill="#7A7A7A" text-anchor="end" stroke="#7A7A7A" stroke-width="0.18">0.04</text>
<line x1="1443.84" y1="1659.13" x2="1443.84" y2="1659.13" stroke="#333" stroke-width="1"/>
<line x1="1443.84" y1="1659.83" x2="1443.84" y2="1659.83" stroke="#333" stroke-width="1"/>
<rect x="1439.31" y="1659.13" width="9.06" height="0.7" fill="#F8766D" stroke="#333" stroke-width="1"/>
<line x1="1439.31" y1="1659.48" x2="1448.37" y2="1659.48" stroke="#333" stroke-width="1.8"/>
<line x1="1452.73" y1="1331.09" x2="1452.73" y2="1438.46" stroke="#333" stroke-width="1"/>
<line x1="1452.73" y1="1658.08" x2="1452.73" y2="1658.08" stroke="#333" stroke-width="1"/>
<rect x="1448.37" y="1438.46" width="8.72" height="219.62" fill="#00BFC4" stroke="#333" stroke-width="1"/>
<line x1="1448.37" y1="1613.46" x2="1457.09" y2="1613.46" stroke="#333" stroke-width="1.8"/>
<line x1="1448.37" y1="1675.16" x2="1448.37" y2="1678.16" stroke="#555" stroke-width="0.9"/>
<text x="1448.37" y="1687.02" font-size="7.4" fill="#666" text-anchor="middle" font-weight="bold">P=3.52e−02</text>
<rect x="1493.34" y="1314.71" width="22.31" height="360.45" fill="#EBEBEB"/>
<line x1="1493.34" y1="1660.52" x2="1515.66" y2="1660.52" stroke="#fff" stroke-width="0.9"/>
<line x1="1493.34" y1="1557.69" x2="1515.66" y2="1557.69" stroke="#fff" stroke-width="0.9"/>
<line x1="1493.34" y1="1455.55" x2="1515.66" y2="1455.55" stroke="#fff" stroke-width="0.9"/>
<line x1="1493.34" y1="1352.71" x2="1515.66" y2="1352.71" stroke="#fff" stroke-width="0.9"/>
<line x1="1504.5" y1="1314.71" x2="1504.5" y2="1675.16" stroke="#fff" stroke-width="0.9"/>
<line x1="1489.84" y1="1660.52" x2="1493.34" y2="1660.52" stroke="#555" stroke-width="1"/>
<text x="1487.34" y="1664.02" font-size="9.8" fill="#7A7A7A" text-anchor="end" stroke="#7A7A7A" stroke-width="0.18">0.000</text>
<line x1="1489.84" y1="1557.69" x2="1493.34" y2="1557.69" stroke="#555" stroke-width="1"/>
<text x="1487.34" y="1561.19" font-size="9.8" fill="#7A7A7A" text-anchor="end" stroke="#7A7A7A" stroke-width="0.18">0.005</text>
<line x1="1489.84" y1="1455.55" x2="1493.34" y2="1455.55" stroke="#555" stroke-width="1"/>
<text x="1487.34" y="1459.05" font-size="9.8" fill="#7A7A7A" text-anchor="end" stroke="#7A7A7A" stroke-width="0.18">0.010</text>
<line x1="1489.84" y1="1352.71" x2="1493.34" y2="1352.71" stroke="#555" stroke-width="1"/>
<text x="1487.34" y="1356.21" font-size="9.8" fill="#7A7A7A" text-anchor="end" stroke="#7A7A7A" stroke-width="0.18">0.015</text>
<line x1="1499.97" y1="1331.09" x2="1499.97" y2="1371.53" stroke="#333" stroke-width="1"/>
<line x1="1499.97" y1="1570.58" x2="1499.97" y2="1658.78" stroke="#333" stroke-width="1"/>
<rect x="1495.44" y="1371.53" width="9.06" height="199.05" fill="#F8766D" stroke="#333" stroke-width="1"/>
<line x1="1495.44" y1="1489.71" x2="1504.5" y2="1489.71" stroke="#333" stroke-width="1.8"/>
<line x1="1508.68" y1="1546.53" x2="1508.68" y2="1578.6" stroke="#333" stroke-width="1"/>
<line x1="1508.68" y1="1623.22" x2="1508.68" y2="1647.63" stroke="#333" stroke-width="1"/>
<rect x="1504.5" y="1578.6" width="8.37" height="44.62" fill="#00BFC4" stroke="#333" stroke-width="1"/>
<line x1="1504.5" y1="1615.21" x2="1512.87" y2="1615.21" stroke="#333" stroke-width="1.8"/>
<line x1="1504.5" y1="1675.16" x2="1504.5" y2="1678.16" stroke="#555" stroke-width="0.9"/>
<text x="1504.5" y="1687.02" font-size="7.4" fill="#666" text-anchor="middle" font-weight="bold">P=2.41e−02</text>
<rect x="1554.35" y="1314.71" width="22.31" height="360.45" fill="#EBEBEB"/>
<line x1="1554.35" y1="1672.72" x2="1576.66" y2="1672.72" stroke="#fff" stroke-width="0.9"/>
<line x1="1554.35" y1="1581.04" x2="1576.66" y2="1581.04" stroke="#fff" stroke-width="0.9"/>
<line x1="1554.35" y1="1489.71" x2="1576.66" y2="1489.71" stroke="#fff" stroke-width="0.9"/>
<line x1="1554.35" y1="1398.37" x2="1576.66" y2="1398.37" stroke="#fff" stroke-width="0.9"/>
<line x1="1565.51" y1="1314.71" x2="1565.51" y2="1675.16" stroke="#fff" stroke-width="0.9"/>
<line x1="1550.85" y1="1672.72" x2="1554.35" y2="1672.72" stroke="#555" stroke-width="1"/>
<text x="1548.35" y="1676.22" font-size="9.8" fill="#7A7A7A" text-anchor="end" stroke="#7A7A7A" stroke-width="0.18">0.0000</text>
<line x1="1550.85" y1="1581.04" x2="1554.35" y2="1581.04" stroke="#555" stroke-width="1"/>
<text x="1548.35" y="1584.54" font-size="9.8" fill="#7A7A7A" text-anchor="end" stroke="#7A7A7A" stroke-width="0.18">0.0025</text>
<line x1="1550.85" y1="1489.71" x2="1554.35" y2="1489.71" stroke="#555" stroke-width="1"/>
<text x="1548.35" y="1493.21" font-size="9.8" fill="#7A7A7A" text-anchor="end" stroke="#7A7A7A" stroke-width="0.18">0.0050</text>
<line x1="1550.85" y1="1398.37" x2="1554.35" y2="1398.37" stroke="#555" stroke-width="1"/>
<text x="1548.35" y="1401.87" font-size="9.8" fill="#7A7A7A" text-anchor="end" stroke="#7A7A7A" stroke-width="0.18">0.0075</text>
<line x1="1561.15" y1="1331.09" x2="1561.15" y2="1473.32" stroke="#333" stroke-width="1"/>
<line x1="1561.15" y1="1568.84" x2="1561.15" y2="1600.56" stroke="#333" stroke-width="1"/>
<rect x="1556.79" y="1473.32" width="8.72" height="95.52" fill="#F8766D" stroke="#333" stroke-width="1"/>
<line x1="1556.79" y1="1509.23" x2="1565.51" y2="1509.23" stroke="#333" stroke-width="1.8"/>
<line x1="1569.69" y1="1538.51" x2="1569.69" y2="1579.3" stroke="#333" stroke-width="1"/>
<line x1="1569.69" y1="1638.91" x2="1569.69" y2="1658.78" stroke="#333" stroke-width="1"/>
<rect x="1565.51" y="1579.3" width="8.37" height="59.61" fill="#00BFC4" stroke="#333" stroke-width="1"/>
<line x1="1565.51" y1="1629.15" x2="1573.87" y2="1629.15" stroke="#333" stroke-width="1.8"/>
<line x1="1565.51" y1="1675.16" x2="1565.51" y2="1678.16" stroke="#555" stroke-width="0.9"/>
<text x="1565.51" y="1687.02" font-size="7.4" fill="#666" text-anchor="middle" font-weight="bold">P=7.26e−03</text>
<rect x="1604.9" y="1314.71" width="22.31" height="360.45" fill="#EBEBEB"/>
<line x1="1604.9" y1="1664.01" x2="1627.21" y2="1664.01" stroke="#fff" stroke-width="0.9"/>
<line x1="1604.9" y1="1574.07" x2="1627.21" y2="1574.07" stroke="#fff" stroke-width="0.9"/>
<line x1="1604.9" y1="1483.78" x2="1627.21" y2="1483.78" stroke="#fff" stroke-width="0.9"/>
<line x1="1604.9" y1="1393.49" x2="1627.21" y2="1393.49" stroke="#fff" stroke-width="0.9"/>
<line x1="1616.05" y1="1314.71" x2="1616.05" y2="1675.16" stroke="#fff" stroke-width="0.9"/>
<line x1="1601.4" y1="1664.01" x2="1604.9" y2="1664.01" stroke="#555" stroke-width="1"/>
<text x="1598.9" y="1667.51" font-size="9.8" fill="#7A7A7A" text-anchor="end" stroke="#7A7A7A" stroke-width="0.18">0.00</text>
<line x1="1601.4" y1="1574.07" x2="1604.9" y2="1574.07" stroke="#555" stroke-width="1"/>
<text x="1598.9" y="1577.57" font-size="9.8" fill="#7A7A7A" text-anchor="end" stroke="#7A7A7A" stroke-width="0.18">0.05</text>
<line x1="1601.4" y1="1483.78" x2="1604.9" y2="1483.78" stroke="#555" stroke-width="1"/>
<text x="1598.9" y="1487.28" font-size="9.8" fill="#7A7A7A" text-anchor="end" stroke="#7A7A7A" stroke-width="0.18">0.10</text>
<line x1="1601.4" y1="1393.49" x2="1604.9" y2="1393.49" stroke="#555" stroke-width="1"/>
<text x="1598.9" y="1396.99" font-size="9.8" fill="#7A7A7A" text-anchor="end" stroke="#7A7A7A" stroke-width="0.18">0.15</text>
<line x1="1611.52" y1="1331.09" x2="1611.52" y2="1385.83" stroke="#333" stroke-width="1"/>
<line x1="1611.52" y1="1532.59" x2="1611.52" y2="1616.95" stroke="#333" stroke-width="1"/>
<rect x="1606.99" y="1385.83" width="9.06" height="146.76" fill="#F8766D" stroke="#333" stroke-width="1"/>
<line x1="1606.99" y1="1435.68" x2="1616.05" y2="1435.68" stroke="#333" stroke-width="1.8"/>
<line x1="1620.41" y1="1400.82" x2="1620.41" y2="1538.51" stroke="#333" stroke-width="1"/>
<line x1="1620.41" y1="1630.89" x2="1620.41" y2="1658.78" stroke="#333" stroke-width="1"/>
<rect x="1616.05" y="1538.51" width="8.72" height="92.38" fill="#00BFC4" stroke="#333" stroke-width="1"/>
<line x1="1616.05" y1="1622.87" x2="1624.77" y2="1622.87" stroke="#333" stroke-width="1.8"/>
<line x1="1616.05" y1="1675.16" x2="1616.05" y2="1678.16" stroke="#555" stroke-width="0.9"/>
<text x="1616.05" y="1687.02" font-size="7.4" fill="#666" text-anchor="middle" font-weight="bold">P=3.40e−02</text>
<rect x="1655.1" y="1314.71" width="22.31" height="360.45" fill="#EBEBEB"/>
<line x1="1655.1" y1="1662.27" x2="1677.41" y2="1662.27" stroke="#fff" stroke-width="0.9"/>
<line x1="1655.1" y1="1581.04" x2="1677.41" y2="1581.04" stroke="#fff" stroke-width="0.9"/>
<line x1="1655.1" y1="1500.17" x2="1677.41" y2="1500.17" stroke="#fff" stroke-width="0.9"/>
<line x1="1655.1" y1="1419.29" x2="1677.41" y2="1419.29" stroke="#fff" stroke-width="0.9"/>
<line x1="1655.1" y1="1338.76" x2="1677.41" y2="1338.76" stroke="#fff" stroke-width="0.9"/>
<line x1="1666.6" y1="1314.71" x2="1666.6" y2="1675.16" stroke="#fff" stroke-width="0.9"/>
<line x1="1651.6" y1="1662.27" x2="1655.1" y2="1662.27" stroke="#555" stroke-width="1"/>
<text x="1649.1" y="1665.77" font-size="9.8" fill="#7A7A7A" text-anchor="end" stroke="#7A7A7A" stroke-width="0.18">0.10</text>
<line x1="1651.6" y1="1581.04" x2="1655.1" y2="1581.04" stroke="#555" stroke-width="1"/>
<text x="1649.1" y="1584.54" font-size="9.8" fill="#7A7A7A" text-anchor="end" stroke="#7A7A7A" stroke-width="0.18">0.15</text>
<line x1="1651.6" y1="1500.17" x2="1655.1" y2="1500.17" stroke="#555" stroke-width="1"/>
<text x="1649.1" y="1503.67" font-size="9.8" fill="#7A7A7A" text-anchor="end" stroke="#7A7A7A" stroke-width="0.18">0.20</text>
<line x1="1651.6" y1="1419.29" x2="1655.1" y2="1419.29" stroke="#555" stroke-width="1"/>
<text x="1649.1" y="1422.79" font-size="9.8" fill="#7A7A7A" text-anchor="end" stroke="#7A7A7A" stroke-width="0.18">0.25</text>
<line x1="1651.6" y1="1338.76" x2="1655.1" y2="1338.76" stroke="#555" stroke-width="1"/>
<text x="1649.1" y="1342.26" font-size="9.8" fill="#7A7A7A" text-anchor="end" stroke="#7A7A7A" stroke-width="0.18">0.30</text>
<line x1="1662.07" y1="1331.09" x2="1662.07" y2="1521.08" stroke="#333" stroke-width="1"/>
<line x1="1662.07" y1="1657.04" x2="1662.07" y2="1658.78" stroke="#333" stroke-width="1"/>
<rect x="1657.54" y="1521.08" width="9.06" height="135.95" fill="#F8766D" stroke="#333" stroke-width="1"/>
<line x1="1657.54" y1="1607.54" x2="1666.6" y2="1607.54" stroke="#333" stroke-width="1.8"/>
<line x1="1670.78" y1="1341.55" x2="1670.78" y2="1395.93" stroke="#333" stroke-width="1"/>
<line x1="1670.78" y1="1465.66" x2="1670.78" y2="1501.91" stroke="#333" stroke-width="1"/>
<rect x="1666.6" y="1395.93" width="8.37" height="69.72" fill="#00BFC4" stroke="#333" stroke-width="1"/>
<line x1="1666.6" y1="1414.76" x2="1674.97" y2="1414.76" stroke="#333" stroke-width="1.8"/>
<line x1="1666.6" y1="1675.16" x2="1666.6" y2="1678.16" stroke="#555" stroke-width="0.9"/>
<text x="1666.6" y="1687.02" font-size="7.4" fill="#666" text-anchor="middle" font-weight="bold">P=5.69e−03</text>
<rect x="1711.22" y="1314.71" width="22.31" height="360.45" fill="#EBEBEB"/>
<line x1="1711.22" y1="1659.48" x2="1733.53" y2="1659.48" stroke="#fff" stroke-width="0.9"/>
<line x1="1711.22" y1="1576.86" x2="1733.53" y2="1576.86" stroke="#fff" stroke-width="0.9"/>
<line x1="1711.22" y1="1494.24" x2="1733.53" y2="1494.24" stroke="#fff" stroke-width="0.9"/>
<line x1="1711.22" y1="1411.62" x2="1733.53" y2="1411.62" stroke="#fff" stroke-width="0.9"/>
<line x1="1711.22" y1="1329.35" x2="1733.53" y2="1329.35" stroke="#fff" stroke-width="0.9"/>
<line x1="1722.72" y1="1314.71" x2="1722.72" y2="1675.16" stroke="#fff" stroke-width="0.9"/>
<line x1="1707.72" y1="1659.48" x2="1711.22" y2="1659.48" stroke="#555" stroke-width="1"/>
<text x="1705.22" y="1662.98" font-size="9.8" fill="#7A7A7A" text-anchor="end" stroke="#7A7A7A" stroke-width="0.18">0.000</text>
<line x1="1707.72" y1="1576.86" x2="1711.22" y2="1576.86" stroke="#555" stroke-width="1"/>
<text x="1705.22" y="1580.36" font-size="9.8" fill="#7A7A7A" text-anchor="end" stroke="#7A7A7A" stroke-width="0.18">0.025</text>
<line x1="1707.72" y1="1494.24" x2="1711.22" y2="1494.24" stroke="#555" stroke-width="1"/>
<text x="1705.22" y="1497.74" font-size="9.8" fill="#7A7A7A" text-anchor="end" stroke="#7A7A7A" stroke-width="0.18">0.050</text>
<line x1="1707.72" y1="1411.62" x2="1711.22" y2="1411.62" stroke="#555" stroke-width="1"/>
<text x="1705.22" y="1415.12" font-size="9.8" fill="#7A7A7A" text-anchor="end" stroke="#7A7A7A" stroke-width="0.18">0.075</text>
<line x1="1707.72" y1="1329.35" x2="1711.22" y2="1329.35" stroke="#555" stroke-width="1"/>
<text x="1705.22" y="1332.85" font-size="9.8" fill="#7A7A7A" text-anchor="end" stroke="#7A7A7A" stroke-width="0.18">0.100</text>
<line x1="1718.19" y1="1630.89" x2="1718.19" y2="1643.09" stroke="#333" stroke-width="1"/>
<line x1="1718.19" y1="1659.48" x2="1718.19" y2="1659.48" stroke="#333" stroke-width="1"/>
<rect x="1713.66" y="1643.09" width="9.06" height="16.38" fill="#F8766D" stroke="#333" stroke-width="1"/>
<line x1="1713.66" y1="1649.37" x2="1722.72" y2="1649.37" stroke="#333" stroke-width="1.8"/>
<line x1="1726.91" y1="1331.09" x2="1726.91" y2="1421.03" stroke="#333" stroke-width="1"/>
<line x1="1726.91" y1="1535.72" x2="1726.91" y2="1657.04" stroke="#333" stroke-width="1"/>
<rect x="1722.72" y="1421.03" width="8.37" height="114.69" fill="#00BFC4" stroke="#333" stroke-width="1"/>
<line x1="1722.72" y1="1456.59" x2="1731.09" y2="1456.59" stroke="#333" stroke-width="1.8"/>
<line x1="1722.72" y1="1675.16" x2="1722.72" y2="1678.16" stroke="#555" stroke-width="0.9"/>
<text x="1722.72" y="1687.02" font-size="7.4" fill="#666" text-anchor="middle" font-weight="bold">P=1.92e−03</text>
<rect x="1772.23" y="1314.71" width="22.31" height="360.45" fill="#EBEBEB"/>
<line x1="1772.23" y1="1670.98" x2="1794.54" y2="1670.98" stroke="#fff" stroke-width="0.9"/>
<line x1="1772.23" y1="1589.76" x2="1794.54" y2="1589.76" stroke="#fff" stroke-width="0.9"/>
<line x1="1772.23" y1="1509.23" x2="1794.54" y2="1509.23" stroke="#fff" stroke-width="0.9"/>
<line x1="1772.23" y1="1428.01" x2="1794.54" y2="1428.01" stroke="#fff" stroke-width="0.9"/>
<line x1="1772.23" y1="1347.13" x2="1794.54" y2="1347.13" stroke="#fff" stroke-width="0.9"/>
<line x1="1783.73" y1="1314.71" x2="1783.73" y2="1675.16" stroke="#fff" stroke-width="0.9"/>
<line x1="1768.73" y1="1670.98" x2="1772.23" y2="1670.98" stroke="#555" stroke-width="1"/>
<text x="1766.23" y="1674.48" font-size="9.8" fill="#7A7A7A" text-anchor="end" stroke="#7A7A7A" stroke-width="0.18">0.0000</text>
<line x1="1768.73" y1="1589.76" x2="1772.23" y2="1589.76" stroke="#555" stroke-width="1"/>
<text x="1766.23" y="1593.26" font-size="9.8" fill="#7A7A7A" text-anchor="end" stroke="#7A7A7A" stroke-width="0.18">0.0025</text>
<line x1="1768.73" y1="1509.23" x2="1772.23" y2="1509.23" stroke="#555" stroke-width="1"/>
<text x="1766.23" y="1512.73" font-size="9.8" fill="#7A7A7A" text-anchor="end" stroke="#7A7A7A" stroke-width="0.18">0.0050</text>
<line x1="1768.73" y1="1428.01" x2="1772.23" y2="1428.01" stroke="#555" stroke-width="1"/>
<text x="1766.23" y="1431.51" font-size="9.8" fill="#7A7A7A" text-anchor="end" stroke="#7A7A7A" stroke-width="0.18">0.0075</text>
<line x1="1768.73" y1="1347.13" x2="1772.23" y2="1347.13" stroke="#555" stroke-width="1"/>
<text x="1766.23" y="1350.63" font-size="9.8" fill="#7A7A7A" text-anchor="end" stroke="#7A7A7A" stroke-width="0.18">0.0100</text>
<line x1="1779.2" y1="1331.09" x2="1779.2" y2="1415.11" stroke="#333" stroke-width="1"/>
<line x1="1779.2" y1="1558.03" x2="1779.2" y2="1587.32" stroke="#333" stroke-width="1"/>
<rect x="1774.67" y="1415.11" width="9.06" height="142.93" fill="#F8766D" stroke="#333" stroke-width="1"/>
<line x1="1774.67" y1="1524.57" x2="1783.73" y2="1524.57" stroke="#333" stroke-width="1.8"/>
<line x1="1787.91" y1="1600.56" x2="1787.91" y2="1611.72" stroke="#333" stroke-width="1"/>
<line x1="1787.91" y1="1647.63" x2="1787.91" y2="1658.78" stroke="#333" stroke-width="1"/>
<rect x="1783.73" y="1611.72" width="8.37" height="35.91" fill="#00BFC4" stroke="#333" stroke-width="1"/>
<line x1="1783.73" y1="1640.65" x2="1792.1" y2="1640.65" stroke="#333" stroke-width="1.8"/>
<line x1="1783.73" y1="1675.16" x2="1783.73" y2="1678.16" stroke="#555" stroke-width="0.9"/>
<text x="1783.73" y="1687.02" font-size="7.4" fill="#666" text-anchor="middle" font-weight="bold">P=1.14e−02</text>
<rect x="1828" y="1314.71" width="22.31" height="360.45" fill="#EBEBEB"/>
<line x1="1828" y1="1659.48" x2="1850.31" y2="1659.48" stroke="#fff" stroke-width="0.9"/>
<line x1="1828" y1="1564.31" x2="1850.31" y2="1564.31" stroke="#fff" stroke-width="0.9"/>
<line x1="1828" y1="1469.49" x2="1850.31" y2="1469.49" stroke="#fff" stroke-width="0.9"/>
<line x1="1828" y1="1374.32" x2="1850.31" y2="1374.32" stroke="#fff" stroke-width="0.9"/>
<line x1="1839.51" y1="1314.71" x2="1839.51" y2="1675.16" stroke="#fff" stroke-width="0.9"/>
<line x1="1824.5" y1="1659.48" x2="1828" y2="1659.48" stroke="#555" stroke-width="1"/>
<text x="1822" y="1662.98" font-size="9.8" fill="#7A7A7A" text-anchor="end" stroke="#7A7A7A" stroke-width="0.18">0.000</text>
<line x1="1824.5" y1="1564.31" x2="1828" y2="1564.31" stroke="#555" stroke-width="1"/>
<text x="1822" y="1567.81" font-size="9.8" fill="#7A7A7A" text-anchor="end" stroke="#7A7A7A" stroke-width="0.18">0.005</text>
<line x1="1824.5" y1="1469.49" x2="1828" y2="1469.49" stroke="#555" stroke-width="1"/>
<text x="1822" y="1472.99" font-size="9.8" fill="#7A7A7A" text-anchor="end" stroke="#7A7A7A" stroke-width="0.18">0.010</text>
<line x1="1824.5" y1="1374.32" x2="1828" y2="1374.32" stroke="#555" stroke-width="1"/>
<text x="1822" y="1377.82" font-size="9.8" fill="#7A7A7A" text-anchor="end" stroke="#7A7A7A" stroke-width="0.18">0.015</text>
<line x1="1834.97" y1="1655.29" x2="1834.97" y2="1655.29" stroke="#333" stroke-width="1"/>
<line x1="1834.97" y1="1659.48" x2="1834.97" y2="1659.48" stroke="#333" stroke-width="1"/>
<rect x="1830.44" y="1655.29" width="9.06" height="4.18" fill="#F8766D" stroke="#333" stroke-width="1"/>
<line x1="1830.44" y1="1658.78" x2="1839.51" y2="1658.78" stroke="#333" stroke-width="1.8"/>
<line x1="1843.69" y1="1331.09" x2="1843.69" y2="1381.64" stroke="#333" stroke-width="1"/>
<line x1="1843.69" y1="1651.11" x2="1843.69" y2="1657.04" stroke="#333" stroke-width="1"/>
<rect x="1839.51" y="1381.64" width="8.37" height="269.47" fill="#00BFC4" stroke="#333" stroke-width="1"/>
<line x1="1839.51" y1="1513.06" x2="1847.87" y2="1513.06" stroke="#333" stroke-width="1.8"/>
<line x1="1839.51" y1="1675.16" x2="1839.51" y2="1678.16" stroke="#555" stroke-width="0.9"/>
<text x="1839.51" y="1687.02" font-size="7.4" fill="#666" text-anchor="middle" font-weight="bold">P=1.09e−02</text>
<text x="1337.52" y="1303.22" font-size="7.7" fill="#222" text-anchor="middle" transform="rotate(-15 1337.52 1303.22)" stroke="#222" stroke-width="0.18">ubacterium]_coprostanoligene</text>
<text x="1397.83" y="1299.73" font-size="7.7" fill="#222" text-anchor="middle" transform="rotate(-15 1397.83 1299.73)" stroke="#222" stroke-width="0.18">ASF356</text>
<text x="1448.37" y="1299.73" font-size="7.7" fill="#222" text-anchor="middle" transform="rotate(-15 1448.37 1299.73)" stroke="#222" stroke-width="0.18">Butyrivibrio</text>
<text x="1504.15" y="1299.04" font-size="7.7" fill="#222" text-anchor="middle" transform="rotate(-15 1504.15 1299.04)" stroke="#222" stroke-width="0.18">Intestinimonas</text>
<text x="1565.16" y="1299.04" font-size="7.7" fill="#222" text-anchor="middle" transform="rotate(-15 1565.16 1299.04)" stroke="#222" stroke-width="0.18">Lachnoclostridium</text>
<text x="1606.99" y="1302.17" font-size="7.7" fill="#222" text-anchor="middle" transform="rotate(-15 1606.99 1302.17)" stroke="#222" stroke-width="0.18">Lachnospiraceae_NK4A136_</text>
<text x="1666.6" y="1298.69" font-size="7.7" fill="#222" text-anchor="middle" transform="rotate(-15 1666.6 1298.69)" stroke="#222" stroke-width="0.18">Other</text>
<text x="1722.03" y="1298.69" font-size="7.7" fill="#222" text-anchor="middle" transform="rotate(-15 1722.03 1298.69)" stroke="#222" stroke-width="0.18">Prevotellaceae_UCG_001</text>
<text x="1783.38" y="1298.69" font-size="7.7" fill="#222" text-anchor="middle" transform="rotate(-15 1783.38 1298.69)" stroke="#222" stroke-width="0.18">Ruminiclostridium_5</text>
<text x="1838.81" y="1298.69" font-size="7.7" fill="#222" text-anchor="middle" transform="rotate(-15 1838.81 1298.69)" stroke="#222" stroke-width="0.18">Ruminococcus_1</text>
<text x="1593" y="1699" font-size="11.6" fill="#000" text-anchor="middle" stroke="#000" stroke-width="0.18">genus</text>
<text x="1307.7" y="1495" font-size="11" fill="#000" text-anchor="middle" transform="rotate(-90 1307.7 1495)" stroke="#000" stroke-width="0.18">Abundance</text>
<text x="1864" y="1481" font-size="9.6" fill="#000" font-weight="bold">Group</text>
<rect x="1865.6" y="1485.5" width="12.2" height="14" fill="#F2F2F2"/>
<line x1="1871.7" y1="1485.5" x2="1871.7" y2="1499.5" stroke="#333" stroke-width="0.9"/>
<rect x="1865.6" y="1488" width="12.2" height="9" fill="#F8766D" stroke="#333" stroke-width="0.9"/>
<line x1="1865.6" y1="1492.5" x2="1877.8" y2="1492.5" stroke="#333" stroke-width="1.4"/>
<text x="1882" y="1495.9" font-size="9.4" fill="#000" stroke="#000" stroke-width="0.18">Aging_SD_3</text>
<rect x="1865.6" y="1501.5" width="12.2" height="14" fill="#F2F2F2"/>
<line x1="1871.7" y1="1501.5" x2="1871.7" y2="1515.5" stroke="#333" stroke-width="0.9"/>
<rect x="1865.6" y="1504" width="12.2" height="9" fill="#00BFC4" stroke="#333" stroke-width="0.9"/>
<line x1="1865.6" y1="1508.5" x2="1877.8" y2="1508.5" stroke="#333" stroke-width="1.4"/>
<text x="1882" y="1511.9" font-size="9.4" fill="#000" stroke="#000" stroke-width="0.18">Aging_WS_3</text></svg></body></html>
